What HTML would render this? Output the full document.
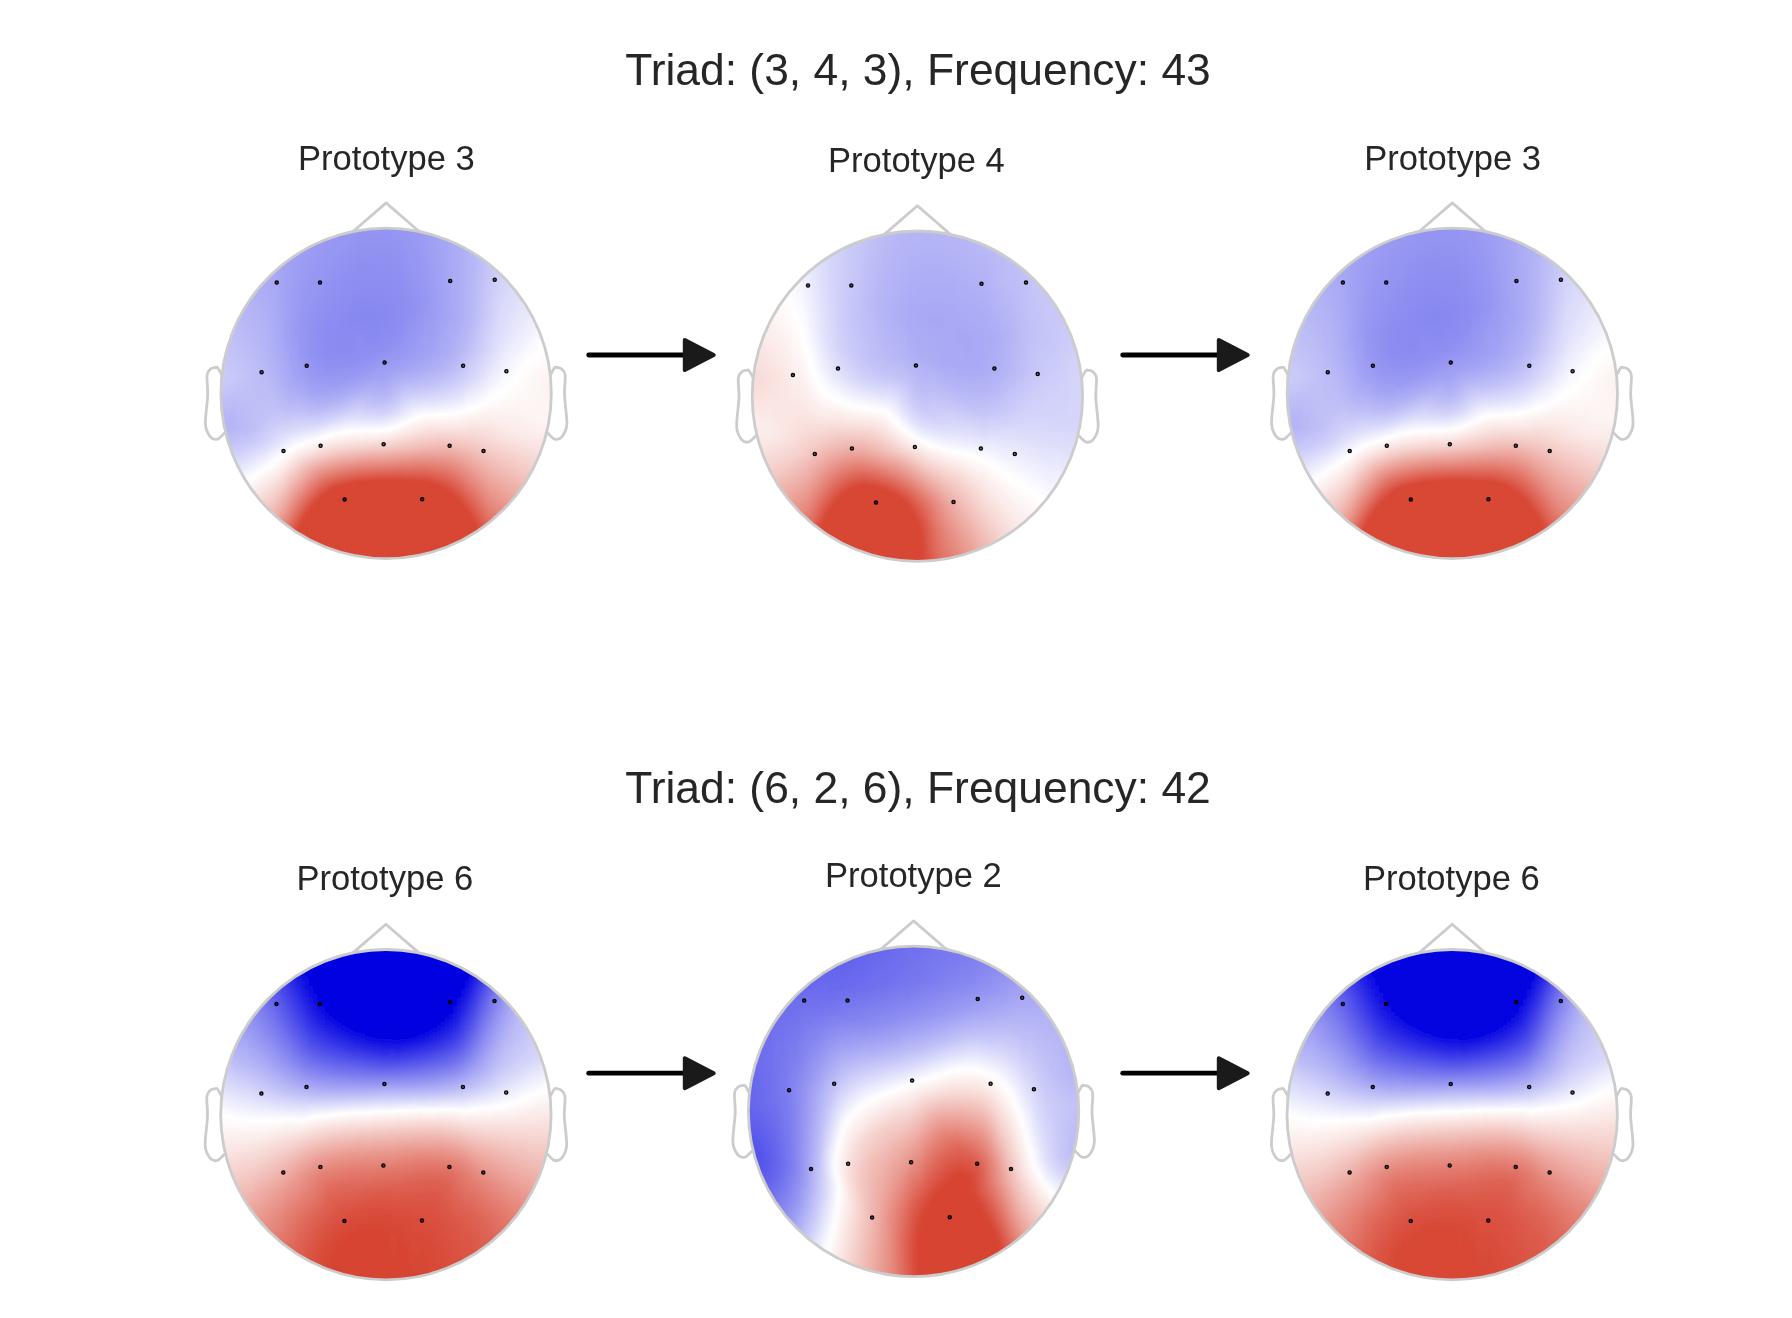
<!DOCTYPE html>
<html><head><meta charset="utf-8"><title>Triads</title>
<style>
html,body{margin:0;padding:0;background:#fff}
svg{display:block;filter:blur(0.55px)}
text{font-family:"Liberation Sans",Arial,sans-serif;fill:#262626;text-anchor:middle}
.tt{font-size:44.4px}
.pt{font-size:34.6px}
</style></head><body>
<svg width="1792" height="1318" viewBox="0 0 1792 1318">
<rect width="1792" height="1318" fill="#fff"/>
<defs>
<linearGradient id="f30" gradientUnits="userSpaceOnUse" x1="0" x2="0" y1="-12" y2="12"><stop offset="0" stop-color="#cbcbf9"/><stop offset="1" stop-color="#bbbbf7"/></linearGradient>
<linearGradient id="f31" gradientUnits="userSpaceOnUse" x1="0" x2="0" y1="-41" y2="41"><stop offset="0" stop-color="#c7c7f8"/><stop offset="0.341" stop-color="#cacaf9"/><stop offset="0.793" stop-color="#b4b4f6"/><stop offset="0.915" stop-color="#b4b4f6"/><stop offset="1" stop-color="#b9b9f7"/></linearGradient>
<linearGradient id="f32" gradientUnits="userSpaceOnUse" x1="0" x2="0" y1="-55" y2="55"><stop offset="0" stop-color="#c1c1f8"/><stop offset="0.382" stop-color="#c9c9f9"/><stop offset="0.764" stop-color="#b3b3f6"/><stop offset="0.855" stop-color="#b7b7f7"/><stop offset="1" stop-color="#c6c6f8"/></linearGradient>
<linearGradient id="f33" gradientUnits="userSpaceOnUse" x1="0" x2="0" y1="-66" y2="66"><stop offset="0" stop-color="#bdbdf7"/><stop offset="0.402" stop-color="#c8c8f9"/><stop offset="0.674" stop-color="#b5b5f6"/><stop offset="0.758" stop-color="#b4b4f6"/><stop offset="0.841" stop-color="#bdbdf7"/><stop offset="1" stop-color="#d4d4fa"/></linearGradient>
<linearGradient id="f34" gradientUnits="userSpaceOnUse" x1="0" x2="0" y1="-75" y2="75"><stop offset="0" stop-color="#b9b9f7"/><stop offset="0.38" stop-color="#c7c7f8"/><stop offset="0.653" stop-color="#b6b6f6"/><stop offset="0.727" stop-color="#b5b5f6"/><stop offset="0.833" stop-color="#c3c3f8"/><stop offset="1" stop-color="#e2e2fc"/></linearGradient>
<linearGradient id="f35" gradientUnits="userSpaceOnUse" x1="0" x2="0" y1="-83" y2="83"><stop offset="0" stop-color="#b6b6f6"/><stop offset="0.392" stop-color="#c5c5f8"/><stop offset="0.705" stop-color="#b7b7f7"/><stop offset="0.831" stop-color="#cacaf9"/><stop offset="1" stop-color="#f1f1fd"/></linearGradient>
<linearGradient id="f36" gradientUnits="userSpaceOnUse" x1="0" x2="0" y1="-90" y2="90"><stop offset="0" stop-color="#b3b3f6"/><stop offset="0.4" stop-color="#c4c4f8"/><stop offset="0.628" stop-color="#b9b9f7"/><stop offset="0.694" stop-color="#b9b9f7"/><stop offset="0.806" stop-color="#ccccf9"/><stop offset="1" stop-color="#fffefe"/></linearGradient>
<linearGradient id="f37" gradientUnits="userSpaceOnUse" x1="0" x2="0" y1="-96" y2="96"><stop offset="0" stop-color="#b1b1f6"/><stop offset="0.406" stop-color="#c2c2f8"/><stop offset="0.682" stop-color="#bbbbf7"/><stop offset="0.729" stop-color="#c1c1f8"/><stop offset="0.786" stop-color="#cecef9"/><stop offset="0.953" stop-color="#ffffff"/><stop offset="1" stop-color="#fdf4f3"/></linearGradient>
<linearGradient id="f38" gradientUnits="userSpaceOnUse" x1="0" x2="0" y1="-101" y2="101"><stop offset="0" stop-color="#afaff6"/><stop offset="0.406" stop-color="#c0c0f8"/><stop offset="0.668" stop-color="#bdbdf7"/><stop offset="0.748" stop-color="#cacaf9"/><stop offset="0.916" stop-color="#fefeff"/><stop offset="1" stop-color="#faeae8"/></linearGradient>
<linearGradient id="f39" gradientUnits="userSpaceOnUse" x1="0" x2="0" y1="-107" y2="107"><stop offset="0" stop-color="#adadf5"/><stop offset="0.411" stop-color="#bebef7"/><stop offset="0.659" stop-color="#bfbff7"/><stop offset="0.734" stop-color="#ccccf9"/><stop offset="0.883" stop-color="#ffffff"/><stop offset="1" stop-color="#f8dedb"/></linearGradient>
<linearGradient id="f310" gradientUnits="userSpaceOnUse" x1="0" x2="0" y1="-112" y2="112"><stop offset="0" stop-color="#acacf5"/><stop offset="0.652" stop-color="#c2c2f8"/><stop offset="0.723" stop-color="#cfcff9"/><stop offset="0.853" stop-color="#ffffff"/><stop offset="1" stop-color="#f6d3cf"/></linearGradient>
<linearGradient id="f311" gradientUnits="userSpaceOnUse" x1="0" x2="0" y1="-116" y2="116"><stop offset="0" stop-color="#aaaaf5"/><stop offset="0.625" stop-color="#c2c2f8"/><stop offset="0.716" stop-color="#d2d2fa"/><stop offset="0.828" stop-color="#fefeff"/><stop offset="1" stop-color="#f4c9c4"/></linearGradient>
<linearGradient id="f312" gradientUnits="userSpaceOnUse" x1="0" x2="0" y1="-120" y2="120"><stop offset="0" stop-color="#a9a9f5"/><stop offset="0.317" stop-color="#b2b2f6"/><stop offset="0.6" stop-color="#c2c2f8"/><stop offset="0.704" stop-color="#d5d5fa"/><stop offset="0.808" stop-color="#fffefe"/><stop offset="1" stop-color="#f1bfb9"/></linearGradient>
<linearGradient id="f313" gradientUnits="userSpaceOnUse" x1="0" x2="0" y1="-124" y2="124"><stop offset="0" stop-color="#a7a7f5"/><stop offset="0.363" stop-color="#b1b1f6"/><stop offset="0.577" stop-color="#c1c1f8"/><stop offset="0.681" stop-color="#d4d4fa"/><stop offset="0.786" stop-color="#fffffe"/><stop offset="1" stop-color="#efb4ad"/></linearGradient>
<linearGradient id="f314" gradientUnits="userSpaceOnUse" x1="0" x2="0" y1="-128" y2="128"><stop offset="0" stop-color="#a6a6f4"/><stop offset="0.348" stop-color="#adadf5"/><stop offset="0.508" stop-color="#b9b9f7"/><stop offset="0.594" stop-color="#c5c5f8"/><stop offset="0.652" stop-color="#d2d2fa"/><stop offset="0.695" stop-color="#dfdffb"/><stop offset="0.766" stop-color="#ffffff"/><stop offset="1" stop-color="#eca79e"/></linearGradient>
<linearGradient id="f315" gradientUnits="userSpaceOnUse" x1="0" x2="0" y1="-131" y2="131"><stop offset="0" stop-color="#a4a4f4"/><stop offset="0.309" stop-color="#a8a8f5"/><stop offset="0.469" stop-color="#b2b2f6"/><stop offset="0.55" stop-color="#bebef7"/><stop offset="0.63" stop-color="#d0d0f9"/><stop offset="0.691" stop-color="#e4e4fc"/><stop offset="0.748" stop-color="#ffffff"/><stop offset="1" stop-color="#e9978d"/></linearGradient>
<linearGradient id="f316" gradientUnits="userSpaceOnUse" x1="0" x2="0" y1="-134" y2="134"><stop offset="0" stop-color="#a2a2f4"/><stop offset="0.295" stop-color="#a4a4f4"/><stop offset="0.47" stop-color="#afaff6"/><stop offset="0.549" stop-color="#bcbcf7"/><stop offset="0.608" stop-color="#cbcbf9"/><stop offset="0.668" stop-color="#e0e0fb"/><stop offset="0.731" stop-color="#ffffff"/><stop offset="0.843" stop-color="#f5ceca"/><stop offset="1" stop-color="#e58478"/></linearGradient>
<linearGradient id="f317" gradientUnits="userSpaceOnUse" x1="0" x2="0" y1="-137" y2="137"><stop offset="0" stop-color="#a1a1f4"/><stop offset="0.296" stop-color="#a0a0f4"/><stop offset="0.471" stop-color="#acacf5"/><stop offset="0.547" stop-color="#babaf7"/><stop offset="0.602" stop-color="#cacaf9"/><stop offset="0.661" stop-color="#e2e2fc"/><stop offset="0.715" stop-color="#fffefe"/><stop offset="0.836" stop-color="#f2c4bf"/><stop offset="1" stop-color="#e06f61"/></linearGradient>
<linearGradient id="f318" gradientUnits="userSpaceOnUse" x1="0" x2="0" y1="-140" y2="140"><stop offset="0" stop-color="#9f9ff4"/><stop offset="0.286" stop-color="#9c9cf3"/><stop offset="0.379" stop-color="#a0a0f4"/><stop offset="0.471" stop-color="#a9a9f5"/><stop offset="0.529" stop-color="#b4b4f6"/><stop offset="0.586" stop-color="#c6c6f8"/><stop offset="0.643" stop-color="#dfdffb"/><stop offset="0.7" stop-color="#ffffff"/><stop offset="1" stop-color="#db5847"/></linearGradient>
<linearGradient id="f319" gradientUnits="userSpaceOnUse" x1="0" x2="0" y1="-143" y2="143"><stop offset="0" stop-color="#9e9ef4"/><stop offset="0.29" stop-color="#9999f3"/><stop offset="0.455" stop-color="#a4a4f4"/><stop offset="0.51" stop-color="#afaff6"/><stop offset="0.566" stop-color="#c0c0f8"/><stop offset="0.636" stop-color="#dfdffb"/><stop offset="0.689" stop-color="#ffffff"/><stop offset="0.986" stop-color="#d84836"/><stop offset="1" stop-color="#d74432"/></linearGradient>
<linearGradient id="f320" gradientUnits="userSpaceOnUse" x1="0" x2="0" y1="-145" y2="145"><stop offset="0" stop-color="#9d9df3"/><stop offset="0.293" stop-color="#9696f3"/><stop offset="0.379" stop-color="#9999f3"/><stop offset="0.452" stop-color="#a1a1f4"/><stop offset="0.51" stop-color="#aeaef5"/><stop offset="0.579" stop-color="#c6c6f8"/><stop offset="0.634" stop-color="#e1e1fc"/><stop offset="0.679" stop-color="#ffffff"/><stop offset="0.959" stop-color="#d74432"/><stop offset="1" stop-color="#d74432"/></linearGradient>
<linearGradient id="f321" gradientUnits="userSpaceOnUse" x1="0" x2="0" y1="-147" y2="147"><stop offset="0" stop-color="#9c9cf3"/><stop offset="0.296" stop-color="#9494f2"/><stop offset="0.367" stop-color="#9696f3"/><stop offset="0.439" stop-color="#9d9df3"/><stop offset="0.507" stop-color="#acacf5"/><stop offset="0.561" stop-color="#bebef7"/><stop offset="0.616" stop-color="#d9d9fb"/><stop offset="0.673" stop-color="#fffefe"/><stop offset="0.704" stop-color="#faeae8"/><stop offset="0.759" stop-color="#f1beb7"/><stop offset="0.929" stop-color="#d74432"/><stop offset="1" stop-color="#d74432"/></linearGradient>
<linearGradient id="f322" gradientUnits="userSpaceOnUse" x1="0" x2="0" y1="-150" y2="150"><stop offset="0" stop-color="#9c9cf3"/><stop offset="0.3" stop-color="#9191f2"/><stop offset="0.37" stop-color="#9393f2"/><stop offset="0.437" stop-color="#9a9af3"/><stop offset="0.507" stop-color="#a9a9f5"/><stop offset="0.56" stop-color="#bdbdf7"/><stop offset="0.613" stop-color="#dadafb"/><stop offset="0.663" stop-color="#ffffff"/><stop offset="0.7" stop-color="#f9e5e3"/><stop offset="0.753" stop-color="#efb5ae"/><stop offset="0.9" stop-color="#d74432"/><stop offset="1" stop-color="#d74432"/></linearGradient>
<linearGradient id="f323" gradientUnits="userSpaceOnUse" x1="0" x2="0" y1="-152" y2="152"><stop offset="0" stop-color="#9b9bf3"/><stop offset="0.303" stop-color="#9090f2"/><stop offset="0.372" stop-color="#9191f2"/><stop offset="0.441" stop-color="#9898f3"/><stop offset="0.507" stop-color="#a7a7f5"/><stop offset="0.559" stop-color="#bcbcf7"/><stop offset="0.612" stop-color="#dbdbfb"/><stop offset="0.658" stop-color="#fffefe"/><stop offset="0.697" stop-color="#f9e1de"/><stop offset="0.766" stop-color="#ea9e95"/><stop offset="0.875" stop-color="#d74533"/><stop offset="1" stop-color="#d74432"/></linearGradient>
<linearGradient id="f324" gradientUnits="userSpaceOnUse" x1="0" x2="0" y1="-154" y2="154"><stop offset="0" stop-color="#9a9af3"/><stop offset="0.305" stop-color="#8e8ef2"/><stop offset="0.386" stop-color="#9090f2"/><stop offset="0.442" stop-color="#9696f3"/><stop offset="0.506" stop-color="#a6a6f5"/><stop offset="0.558" stop-color="#bcbcf7"/><stop offset="0.61" stop-color="#dcdcfb"/><stop offset="0.653" stop-color="#fffefe"/><stop offset="0.695" stop-color="#f8dcd9"/><stop offset="0.763" stop-color="#e8958b"/><stop offset="0.854" stop-color="#d74634"/><stop offset="1" stop-color="#d74432"/></linearGradient>
<linearGradient id="f325" gradientUnits="userSpaceOnUse" x1="0" x2="0" y1="-155" y2="155"><stop offset="0" stop-color="#9a9af3"/><stop offset="0.306" stop-color="#8d8df2"/><stop offset="0.374" stop-color="#8e8ef2"/><stop offset="0.439" stop-color="#9595f2"/><stop offset="0.49" stop-color="#a0a0f4"/><stop offset="0.542" stop-color="#b4b4f6"/><stop offset="0.594" stop-color="#d2d2fa"/><stop offset="0.645" stop-color="#fefeff"/><stop offset="0.661" stop-color="#fdf4f3"/><stop offset="0.694" stop-color="#f7d7d3"/><stop offset="0.777" stop-color="#e37d71"/><stop offset="0.839" stop-color="#d74533"/><stop offset="1" stop-color="#d74432"/></linearGradient>
<linearGradient id="f326" gradientUnits="userSpaceOnUse" x1="0" x2="0" y1="-157" y2="157"><stop offset="0" stop-color="#9999f3"/><stop offset="0.309" stop-color="#8c8cf1"/><stop offset="0.376" stop-color="#8c8cf2"/><stop offset="0.439" stop-color="#9494f2"/><stop offset="0.49" stop-color="#a0a0f4"/><stop offset="0.541" stop-color="#b4b4f6"/><stop offset="0.592" stop-color="#d4d4fa"/><stop offset="0.64" stop-color="#ffffff"/><stop offset="0.691" stop-color="#f6d3cf"/><stop offset="0.777" stop-color="#e17264"/><stop offset="0.825" stop-color="#d74432"/><stop offset="1" stop-color="#d74432"/></linearGradient>
<linearGradient id="f327" gradientUnits="userSpaceOnUse" x1="0" x2="0" y1="-159" y2="159"><stop offset="0" stop-color="#9898f3"/><stop offset="0.311" stop-color="#8a8af1"/><stop offset="0.377" stop-color="#8b8bf1"/><stop offset="0.425" stop-color="#9191f2"/><stop offset="0.491" stop-color="#a0a0f4"/><stop offset="0.541" stop-color="#b5b5f6"/><stop offset="0.591" stop-color="#d7d7fa"/><stop offset="0.635" stop-color="#fffefe"/><stop offset="0.689" stop-color="#f5cfca"/><stop offset="0.774" stop-color="#df6b5d"/><stop offset="0.811" stop-color="#d74432"/><stop offset="1" stop-color="#d74432"/></linearGradient>
<linearGradient id="f328" gradientUnits="userSpaceOnUse" x1="0" x2="0" y1="-160" y2="160"><stop offset="0" stop-color="#9898f3"/><stop offset="0.312" stop-color="#8989f1"/><stop offset="0.378" stop-color="#8a8af1"/><stop offset="0.425" stop-color="#9090f2"/><stop offset="0.475" stop-color="#9b9bf3"/><stop offset="0.525" stop-color="#afaff6"/><stop offset="0.575" stop-color="#cecef9"/><stop offset="0.628" stop-color="#fefeff"/><stop offset="0.631" stop-color="#fffefe"/><stop offset="0.656" stop-color="#fbeae8"/><stop offset="0.688" stop-color="#f4ccc7"/><stop offset="0.8" stop-color="#d74432"/><stop offset="1" stop-color="#d74432"/></linearGradient>
<linearGradient id="f329" gradientUnits="userSpaceOnUse" x1="0" x2="0" y1="-161" y2="161"><stop offset="0" stop-color="#9797f3"/><stop offset="0.295" stop-color="#8989f1"/><stop offset="0.363" stop-color="#8989f1"/><stop offset="0.413" stop-color="#8e8ef2"/><stop offset="0.475" stop-color="#9c9cf3"/><stop offset="0.525" stop-color="#b0b0f6"/><stop offset="0.575" stop-color="#d1d1fa"/><stop offset="0.624" stop-color="#fefeff"/><stop offset="0.655" stop-color="#fae8e6"/><stop offset="0.686" stop-color="#f3c9c4"/><stop offset="0.792" stop-color="#d74533"/><stop offset="1" stop-color="#d74432"/></linearGradient>
<linearGradient id="f330" gradientUnits="userSpaceOnUse" x1="0" x2="0" y1="-162" y2="162"><stop offset="0" stop-color="#9797f3"/><stop offset="0.284" stop-color="#8989f1"/><stop offset="0.361" stop-color="#8989f1"/><stop offset="0.41" stop-color="#8d8df2"/><stop offset="0.475" stop-color="#9c9cf3"/><stop offset="0.525" stop-color="#b2b2f6"/><stop offset="0.559" stop-color="#c8c8f9"/><stop offset="0.623" stop-color="#fffefe"/><stop offset="0.654" stop-color="#fae6e3"/><stop offset="0.685" stop-color="#f3c6c1"/><stop offset="0.787" stop-color="#d74432"/><stop offset="1" stop-color="#d74432"/></linearGradient>
<linearGradient id="f331" gradientUnits="userSpaceOnUse" x1="0" x2="0" y1="-164" y2="164"><stop offset="0" stop-color="#9696f3"/><stop offset="0.268" stop-color="#8888f1"/><stop offset="0.363" stop-color="#8888f1"/><stop offset="0.412" stop-color="#8e8ef2"/><stop offset="0.46" stop-color="#9999f3"/><stop offset="0.509" stop-color="#acacf5"/><stop offset="0.555" stop-color="#c9c9f9"/><stop offset="0.619" stop-color="#ffffff"/><stop offset="0.652" stop-color="#f9e4e1"/><stop offset="0.683" stop-color="#f2c4be"/><stop offset="0.78" stop-color="#d74432"/><stop offset="1" stop-color="#d74432"/></linearGradient>
<linearGradient id="f332" gradientUnits="userSpaceOnUse" x1="0" x2="0" y1="-165" y2="165"><stop offset="0" stop-color="#9696f3"/><stop offset="0.267" stop-color="#8888f1"/><stop offset="0.364" stop-color="#8888f1"/><stop offset="0.412" stop-color="#8e8ef2"/><stop offset="0.461" stop-color="#9a9af3"/><stop offset="0.509" stop-color="#aeaef5"/><stop offset="0.542" stop-color="#c3c3f8"/><stop offset="0.615" stop-color="#fefeff"/><stop offset="0.652" stop-color="#f9e2e0"/><stop offset="0.682" stop-color="#f2c2bc"/><stop offset="0.776" stop-color="#d74432"/><stop offset="1" stop-color="#d74432"/></linearGradient>
<linearGradient id="f333" gradientUnits="userSpaceOnUse" x1="0" x2="0" y1="-165" y2="165"><stop offset="0" stop-color="#9595f3"/><stop offset="0.27" stop-color="#8787f1"/><stop offset="0.364" stop-color="#8989f1"/><stop offset="0.412" stop-color="#8e8ef2"/><stop offset="0.461" stop-color="#9b9bf3"/><stop offset="0.506" stop-color="#afaff6"/><stop offset="0.573" stop-color="#dcdcfb"/><stop offset="0.615" stop-color="#ffffff"/><stop offset="0.652" stop-color="#f9e1de"/><stop offset="0.682" stop-color="#f2c0ba"/><stop offset="0.773" stop-color="#d74432"/><stop offset="1" stop-color="#d74432"/></linearGradient>
<linearGradient id="f334" gradientUnits="userSpaceOnUse" x1="0" x2="0" y1="-166" y2="166"><stop offset="0" stop-color="#9595f2"/><stop offset="0.271" stop-color="#8686f1"/><stop offset="0.398" stop-color="#8c8cf2"/><stop offset="0.446" stop-color="#9797f3"/><stop offset="0.494" stop-color="#ababf5"/><stop offset="0.569" stop-color="#dbdbfb"/><stop offset="0.614" stop-color="#fffefe"/><stop offset="0.651" stop-color="#f8e0dd"/><stop offset="0.681" stop-color="#f1beb8"/><stop offset="0.768" stop-color="#d74533"/><stop offset="1" stop-color="#d74432"/></linearGradient>
<linearGradient id="f335" gradientUnits="userSpaceOnUse" x1="0" x2="0" y1="-167" y2="167"><stop offset="0" stop-color="#9494f2"/><stop offset="0.272" stop-color="#8686f1"/><stop offset="0.398" stop-color="#8d8df2"/><stop offset="0.446" stop-color="#9999f3"/><stop offset="0.491" stop-color="#ababf5"/><stop offset="0.569" stop-color="#dbdbfb"/><stop offset="0.614" stop-color="#fffefe"/><stop offset="0.647" stop-color="#f9e2df"/><stop offset="0.668" stop-color="#f4cbc6"/><stop offset="0.766" stop-color="#d74432"/><stop offset="1" stop-color="#d74432"/></linearGradient>
<linearGradient id="f336" gradientUnits="userSpaceOnUse" x1="0" x2="0" y1="-167" y2="167"><stop offset="0" stop-color="#9494f2"/><stop offset="0.272" stop-color="#8585f1"/><stop offset="0.398" stop-color="#8e8ef2"/><stop offset="0.446" stop-color="#9a9af3"/><stop offset="0.491" stop-color="#aeaef5"/><stop offset="0.569" stop-color="#dadafb"/><stop offset="0.611" stop-color="#fefeff"/><stop offset="0.635" stop-color="#fbecea"/><stop offset="0.665" stop-color="#f4cec9"/><stop offset="0.695" stop-color="#eca79e"/><stop offset="0.763" stop-color="#d74533"/><stop offset="1" stop-color="#d74432"/></linearGradient>
<linearGradient id="f337" gradientUnits="userSpaceOnUse" x1="0" x2="0" y1="-168" y2="168"><stop offset="0" stop-color="#9494f2"/><stop offset="0.274" stop-color="#8585f1"/><stop offset="0.336" stop-color="#8888f1"/><stop offset="0.399" stop-color="#8f8ff2"/><stop offset="0.458" stop-color="#a0a0f4"/><stop offset="0.539" stop-color="#c6c6f8"/><stop offset="0.571" stop-color="#dbdbfb"/><stop offset="0.61" stop-color="#fefeff"/><stop offset="0.634" stop-color="#fbebea"/><stop offset="0.664" stop-color="#f4ccc8"/><stop offset="0.762" stop-color="#d74432"/><stop offset="1" stop-color="#d74432"/></linearGradient>
<linearGradient id="f338" gradientUnits="userSpaceOnUse" x1="0" x2="0" y1="-168" y2="168"><stop offset="0" stop-color="#9494f2"/><stop offset="0.274" stop-color="#8585f1"/><stop offset="0.336" stop-color="#8888f1"/><stop offset="0.399" stop-color="#9090f2"/><stop offset="0.446" stop-color="#9d9df3"/><stop offset="0.539" stop-color="#c5c5f8"/><stop offset="0.571" stop-color="#dbdbfb"/><stop offset="0.61" stop-color="#fefeff"/><stop offset="0.634" stop-color="#fbebe9"/><stop offset="0.664" stop-color="#f4cbc6"/><stop offset="0.762" stop-color="#d74432"/><stop offset="1" stop-color="#d74432"/></linearGradient>
<linearGradient id="f339" gradientUnits="userSpaceOnUse" x1="0" x2="0" y1="-168" y2="168"><stop offset="0" stop-color="#9494f2"/><stop offset="0.274" stop-color="#8686f1"/><stop offset="0.336" stop-color="#8888f1"/><stop offset="0.384" stop-color="#8f8ff2"/><stop offset="0.432" stop-color="#9a9af3"/><stop offset="0.524" stop-color="#bcbcf7"/><stop offset="0.571" stop-color="#dadafb"/><stop offset="0.61" stop-color="#ffffff"/><stop offset="0.634" stop-color="#fbeae8"/><stop offset="0.664" stop-color="#f4cac5"/><stop offset="0.708" stop-color="#e78e83"/><stop offset="0.759" stop-color="#d74533"/><stop offset="1" stop-color="#d74432"/></linearGradient>
<linearGradient id="f340" gradientUnits="userSpaceOnUse" x1="0" x2="0" y1="-169" y2="169"><stop offset="0" stop-color="#9494f2"/><stop offset="0.275" stop-color="#8686f1"/><stop offset="0.334" stop-color="#8888f1"/><stop offset="0.382" stop-color="#8f8ff2"/><stop offset="0.476" stop-color="#a8a8f5"/><stop offset="0.524" stop-color="#bcbcf7"/><stop offset="0.568" stop-color="#d8d8fa"/><stop offset="0.609" stop-color="#ffffff"/><stop offset="0.633" stop-color="#fae9e7"/><stop offset="0.663" stop-color="#f3c9c3"/><stop offset="0.707" stop-color="#e78d82"/><stop offset="0.757" stop-color="#d74432"/><stop offset="1" stop-color="#d74432"/></linearGradient>
<linearGradient id="f341" gradientUnits="userSpaceOnUse" x1="0" x2="0" y1="-169" y2="169"><stop offset="0" stop-color="#9494f2"/><stop offset="0.272" stop-color="#8686f1"/><stop offset="0.37" stop-color="#8e8ef2"/><stop offset="0.459" stop-color="#a3a3f4"/><stop offset="0.509" stop-color="#b5b5f6"/><stop offset="0.556" stop-color="#d0d0f9"/><stop offset="0.609" stop-color="#fffefe"/><stop offset="0.633" stop-color="#fae8e6"/><stop offset="0.666" stop-color="#f2c4be"/><stop offset="0.707" stop-color="#e78d82"/><stop offset="0.757" stop-color="#d74432"/><stop offset="1" stop-color="#d74432"/></linearGradient>
<linearGradient id="f342" gradientUnits="userSpaceOnUse" x1="0" x2="0" y1="-169" y2="169"><stop offset="0" stop-color="#9494f2"/><stop offset="0.26" stop-color="#8787f1"/><stop offset="0.32" stop-color="#8989f1"/><stop offset="0.37" stop-color="#8f8ff2"/><stop offset="0.462" stop-color="#a6a6f5"/><stop offset="0.509" stop-color="#b7b7f7"/><stop offset="0.556" stop-color="#d2d2fa"/><stop offset="0.607" stop-color="#ffffff"/><stop offset="0.633" stop-color="#fae7e4"/><stop offset="0.663" stop-color="#f3c6c0"/><stop offset="0.695" stop-color="#ea9c93"/><stop offset="0.757" stop-color="#d74432"/><stop offset="1" stop-color="#d74432"/></linearGradient>
<linearGradient id="f343" gradientUnits="userSpaceOnUse" x1="0" x2="0" y1="-169" y2="169"><stop offset="0" stop-color="#9494f2"/><stop offset="0.26" stop-color="#8888f1"/><stop offset="0.32" stop-color="#8a8af1"/><stop offset="0.367" stop-color="#9090f2"/><stop offset="0.414" stop-color="#9a9af3"/><stop offset="0.509" stop-color="#bbbbf7"/><stop offset="0.556" stop-color="#d6d6fa"/><stop offset="0.604" stop-color="#ffffff"/><stop offset="0.633" stop-color="#f9e5e2"/><stop offset="0.663" stop-color="#f2c5bf"/><stop offset="0.707" stop-color="#e68b80"/><stop offset="0.757" stop-color="#d74432"/><stop offset="1" stop-color="#d74432"/></linearGradient>
<linearGradient id="f344" gradientUnits="userSpaceOnUse" x1="0" x2="0" y1="-169" y2="169"><stop offset="0" stop-color="#9595f3"/><stop offset="0.26" stop-color="#8989f1"/><stop offset="0.32" stop-color="#8b8bf1"/><stop offset="0.367" stop-color="#9191f2"/><stop offset="0.429" stop-color="#a0a0f4"/><stop offset="0.521" stop-color="#c5c5f8"/><stop offset="0.556" stop-color="#dadafb"/><stop offset="0.601" stop-color="#fffefe"/><stop offset="0.633" stop-color="#f9e2df"/><stop offset="0.663" stop-color="#f2c3bd"/><stop offset="0.71" stop-color="#e5867b"/><stop offset="0.757" stop-color="#d74432"/><stop offset="1" stop-color="#d74432"/></linearGradient>
<linearGradient id="f345" gradientUnits="userSpaceOnUse" x1="0" x2="0" y1="-168" y2="168"><stop offset="0" stop-color="#9595f3"/><stop offset="0.259" stop-color="#8a8af1"/><stop offset="0.321" stop-color="#8d8df2"/><stop offset="0.381" stop-color="#9595f3"/><stop offset="0.432" stop-color="#a2a2f4"/><stop offset="0.524" stop-color="#ccccf9"/><stop offset="0.557" stop-color="#dfdffb"/><stop offset="0.595" stop-color="#ffffff"/><stop offset="0.631" stop-color="#f9e3e0"/><stop offset="0.664" stop-color="#f2c1bb"/><stop offset="0.759" stop-color="#d74533"/><stop offset="1" stop-color="#d74432"/></linearGradient>
<linearGradient id="f346" gradientUnits="userSpaceOnUse" x1="0" x2="0" y1="-168" y2="168"><stop offset="0" stop-color="#9696f3"/><stop offset="0.259" stop-color="#8b8bf1"/><stop offset="0.318" stop-color="#8e8ef2"/><stop offset="0.384" stop-color="#9797f3"/><stop offset="0.429" stop-color="#a3a3f4"/><stop offset="0.461" stop-color="#b1b1f6"/><stop offset="0.542" stop-color="#dcdcfb"/><stop offset="0.592" stop-color="#fffefe"/><stop offset="0.631" stop-color="#f8e0dd"/><stop offset="0.664" stop-color="#f1c0ba"/><stop offset="0.759" stop-color="#d74533"/><stop offset="1" stop-color="#d74432"/></linearGradient>
<linearGradient id="f347" gradientUnits="userSpaceOnUse" x1="0" x2="0" y1="-168" y2="168"><stop offset="0" stop-color="#9797f3"/><stop offset="0.259" stop-color="#8d8df2"/><stop offset="0.384" stop-color="#9999f3"/><stop offset="0.429" stop-color="#a4a4f4"/><stop offset="0.461" stop-color="#b2b2f6"/><stop offset="0.554" stop-color="#e8e8fc"/><stop offset="0.586" stop-color="#fffefe"/><stop offset="0.631" stop-color="#f8ddda"/><stop offset="0.664" stop-color="#f1beb8"/><stop offset="0.762" stop-color="#d74432"/><stop offset="1" stop-color="#d74432"/></linearGradient>
<linearGradient id="f348" gradientUnits="userSpaceOnUse" x1="0" x2="0" y1="-167" y2="167"><stop offset="0" stop-color="#9898f3"/><stop offset="0.254" stop-color="#8e8ef2"/><stop offset="0.383" stop-color="#9a9af3"/><stop offset="0.428" stop-color="#a5a5f4"/><stop offset="0.461" stop-color="#b3b3f6"/><stop offset="0.581" stop-color="#fffefe"/><stop offset="0.62" stop-color="#f9e4e2"/><stop offset="0.665" stop-color="#f1bcb6"/><stop offset="0.763" stop-color="#d74432"/><stop offset="1" stop-color="#d74432"/></linearGradient>
<linearGradient id="f349" gradientUnits="userSpaceOnUse" x1="0" x2="0" y1="-166" y2="166"><stop offset="0" stop-color="#9999f3"/><stop offset="0.241" stop-color="#9090f2"/><stop offset="0.383" stop-color="#9b9bf3"/><stop offset="0.428" stop-color="#a7a7f5"/><stop offset="0.461" stop-color="#b5b5f6"/><stop offset="0.494" stop-color="#c7c7f8"/><stop offset="0.575" stop-color="#fffefe"/><stop offset="0.62" stop-color="#f9e2df"/><stop offset="0.666" stop-color="#f0bab4"/><stop offset="0.765" stop-color="#d74432"/><stop offset="1" stop-color="#d74432"/></linearGradient>
<linearGradient id="f350" gradientUnits="userSpaceOnUse" x1="0" x2="0" y1="-166" y2="166"><stop offset="0" stop-color="#9a9af3"/><stop offset="0.241" stop-color="#9292f2"/><stop offset="0.383" stop-color="#9d9df3"/><stop offset="0.428" stop-color="#a8a8f5"/><stop offset="0.476" stop-color="#bebef7"/><stop offset="0.509" stop-color="#d2d2fa"/><stop offset="0.569" stop-color="#ffffff"/><stop offset="0.617" stop-color="#f9e2df"/><stop offset="0.666" stop-color="#f0b9b2"/><stop offset="0.765" stop-color="#d74432"/><stop offset="1" stop-color="#d74432"/></linearGradient>
<linearGradient id="f351" gradientUnits="userSpaceOnUse" x1="0" x2="0" y1="-165" y2="165"><stop offset="0" stop-color="#9c9cf3"/><stop offset="0.236" stop-color="#9494f2"/><stop offset="0.382" stop-color="#9f9ff4"/><stop offset="0.427" stop-color="#aaaaf5"/><stop offset="0.476" stop-color="#bfbff7"/><stop offset="0.524" stop-color="#ddddfb"/><stop offset="0.567" stop-color="#ffffff"/><stop offset="0.621" stop-color="#f8ddda"/><stop offset="0.667" stop-color="#f0b7b1"/><stop offset="0.767" stop-color="#d74533"/><stop offset="1" stop-color="#d74432"/></linearGradient>
<linearGradient id="f352" gradientUnits="userSpaceOnUse" x1="0" x2="0" y1="-164" y2="164"><stop offset="0" stop-color="#9d9df4"/><stop offset="0.223" stop-color="#9696f3"/><stop offset="0.381" stop-color="#a1a1f4"/><stop offset="0.427" stop-color="#acacf5"/><stop offset="0.476" stop-color="#c0c0f8"/><stop offset="0.524" stop-color="#dedefb"/><stop offset="0.567" stop-color="#fffefe"/><stop offset="0.634" stop-color="#f5d3ce"/><stop offset="0.668" stop-color="#efb6af"/><stop offset="0.771" stop-color="#d74432"/><stop offset="1" stop-color="#d74432"/></linearGradient>
<linearGradient id="f353" gradientUnits="userSpaceOnUse" x1="0" x2="0" y1="-163" y2="163"><stop offset="0" stop-color="#9f9ff4"/><stop offset="0.218" stop-color="#9999f3"/><stop offset="0.316" stop-color="#9c9cf3"/><stop offset="0.38" stop-color="#a3a3f4"/><stop offset="0.426" stop-color="#adadf5"/><stop offset="0.475" stop-color="#c2c2f8"/><stop offset="0.521" stop-color="#ddddfb"/><stop offset="0.567" stop-color="#fffefe"/><stop offset="0.635" stop-color="#f5d1cd"/><stop offset="0.669" stop-color="#efb5ae"/><stop offset="0.776" stop-color="#d74432"/><stop offset="1" stop-color="#d74432"/></linearGradient>
<linearGradient id="f354" gradientUnits="userSpaceOnUse" x1="0" x2="0" y1="-162" y2="162"><stop offset="0" stop-color="#a1a1f4"/><stop offset="0.216" stop-color="#9b9bf3"/><stop offset="0.315" stop-color="#9e9ef4"/><stop offset="0.38" stop-color="#a5a5f4"/><stop offset="0.426" stop-color="#b0b0f6"/><stop offset="0.475" stop-color="#c4c4f8"/><stop offset="0.522" stop-color="#dedefb"/><stop offset="0.568" stop-color="#fffefe"/><stop offset="0.636" stop-color="#f5d0cc"/><stop offset="0.67" stop-color="#efb5ae"/><stop offset="0.781" stop-color="#d74432"/><stop offset="1" stop-color="#d74432"/></linearGradient>
<linearGradient id="f355" gradientUnits="userSpaceOnUse" x1="0" x2="0" y1="-161" y2="161"><stop offset="0" stop-color="#a3a3f4"/><stop offset="0.245" stop-color="#9e9ef4"/><stop offset="0.379" stop-color="#a7a7f5"/><stop offset="0.425" stop-color="#b2b2f6"/><stop offset="0.475" stop-color="#c6c6f8"/><stop offset="0.525" stop-color="#e2e2fc"/><stop offset="0.565" stop-color="#ffffff"/><stop offset="0.609" stop-color="#f9e4e1"/><stop offset="0.671" stop-color="#efb5ae"/><stop offset="0.786" stop-color="#d74533"/><stop offset="1" stop-color="#d74432"/></linearGradient>
<linearGradient id="f356" gradientUnits="userSpaceOnUse" x1="0" x2="0" y1="-159" y2="159"><stop offset="0" stop-color="#a4a4f4"/><stop offset="0.245" stop-color="#a1a1f4"/><stop offset="0.377" stop-color="#aaaaf5"/><stop offset="0.425" stop-color="#b4b4f6"/><stop offset="0.475" stop-color="#c8c8f9"/><stop offset="0.525" stop-color="#e3e3fc"/><stop offset="0.566" stop-color="#ffffff"/><stop offset="0.607" stop-color="#fae6e4"/><stop offset="0.657" stop-color="#f2c2bc"/><stop offset="0.796" stop-color="#d74533"/><stop offset="1" stop-color="#d74432"/></linearGradient>
<linearGradient id="f357" gradientUnits="userSpaceOnUse" x1="0" x2="0" y1="-158" y2="158"><stop offset="0" stop-color="#a6a6f5"/><stop offset="0.256" stop-color="#a3a3f4"/><stop offset="0.377" stop-color="#acacf5"/><stop offset="0.424" stop-color="#b7b7f7"/><stop offset="0.475" stop-color="#cacaf9"/><stop offset="0.522" stop-color="#e3e3fc"/><stop offset="0.566" stop-color="#fffefe"/><stop offset="0.608" stop-color="#fae6e4"/><stop offset="0.658" stop-color="#f2c2bd"/><stop offset="0.759" stop-color="#df6a5c"/><stop offset="0.807" stop-color="#d74432"/><stop offset="1" stop-color="#d74432"/></linearGradient>
<linearGradient id="f358" gradientUnits="userSpaceOnUse" x1="0" x2="0" y1="-156" y2="156"><stop offset="0" stop-color="#a8a8f5"/><stop offset="0.256" stop-color="#a6a6f5"/><stop offset="0.372" stop-color="#afaff6"/><stop offset="0.423" stop-color="#babaf7"/><stop offset="0.474" stop-color="#cdcdf9"/><stop offset="0.526" stop-color="#e6e6fc"/><stop offset="0.564" stop-color="#ffffff"/><stop offset="0.609" stop-color="#fae6e4"/><stop offset="0.66" stop-color="#f2c4be"/><stop offset="0.76" stop-color="#e17164"/><stop offset="0.821" stop-color="#d74432"/><stop offset="1" stop-color="#d74432"/></linearGradient>
<linearGradient id="f359" gradientUnits="userSpaceOnUse" x1="0" x2="0" y1="-155" y2="155"><stop offset="0" stop-color="#aaaaf5"/><stop offset="0.255" stop-color="#a8a8f5"/><stop offset="0.358" stop-color="#b0b0f6"/><stop offset="0.406" stop-color="#b9b9f7"/><stop offset="0.458" stop-color="#c9c9f9"/><stop offset="0.51" stop-color="#e0e0fb"/><stop offset="0.565" stop-color="#fffefe"/><stop offset="0.61" stop-color="#fae6e4"/><stop offset="0.661" stop-color="#f3c5bf"/><stop offset="0.761" stop-color="#e2776a"/><stop offset="0.832" stop-color="#d74533"/><stop offset="1" stop-color="#d74432"/></linearGradient>
<linearGradient id="f360" gradientUnits="userSpaceOnUse" x1="0" x2="0" y1="-153" y2="153"><stop offset="0" stop-color="#acacf5"/><stop offset="0.252" stop-color="#ababf5"/><stop offset="0.356" stop-color="#b4b4f6"/><stop offset="0.405" stop-color="#bdbdf7"/><stop offset="0.458" stop-color="#cdcdf9"/><stop offset="0.51" stop-color="#e3e3fc"/><stop offset="0.562" stop-color="#ffffff"/><stop offset="0.611" stop-color="#fae6e3"/><stop offset="0.663" stop-color="#f3c6c1"/><stop offset="0.748" stop-color="#e6897d"/><stop offset="0.85" stop-color="#d74533"/><stop offset="1" stop-color="#d74432"/></linearGradient>
<linearGradient id="f361" gradientUnits="userSpaceOnUse" x1="0" x2="0" y1="-151" y2="151"><stop offset="0" stop-color="#aeaef6"/><stop offset="0.248" stop-color="#afaff6"/><stop offset="0.351" stop-color="#b7b7f6"/><stop offset="0.404" stop-color="#c1c1f8"/><stop offset="0.457" stop-color="#d0d0f9"/><stop offset="0.507" stop-color="#e4e4fc"/><stop offset="0.56" stop-color="#fffefe"/><stop offset="0.613" stop-color="#fae5e3"/><stop offset="0.666" stop-color="#f3c8c2"/><stop offset="0.752" stop-color="#e78e83"/><stop offset="0.871" stop-color="#d74432"/><stop offset="1" stop-color="#d74432"/></linearGradient>
<linearGradient id="f362" gradientUnits="userSpaceOnUse" x1="0" x2="0" y1="-149" y2="149"><stop offset="0" stop-color="#b1b1f6"/><stop offset="0.262" stop-color="#b3b3f6"/><stop offset="0.349" stop-color="#bbbbf7"/><stop offset="0.456" stop-color="#d4d4fa"/><stop offset="0.554" stop-color="#ffffff"/><stop offset="0.614" stop-color="#f9e5e3"/><stop offset="0.668" stop-color="#f4c9c4"/><stop offset="0.893" stop-color="#d74533"/><stop offset="1" stop-color="#d74432"/></linearGradient>
<linearGradient id="f363" gradientUnits="userSpaceOnUse" x1="0" x2="0" y1="-146" y2="146"><stop offset="0" stop-color="#b3b3f6"/><stop offset="0.257" stop-color="#b7b7f7"/><stop offset="0.346" stop-color="#c0c0f8"/><stop offset="0.455" stop-color="#d8d8fa"/><stop offset="0.551" stop-color="#ffffff"/><stop offset="0.671" stop-color="#f4cbc6"/><stop offset="0.921" stop-color="#d74533"/><stop offset="1" stop-color="#d74432"/></linearGradient>
<linearGradient id="f364" gradientUnits="userSpaceOnUse" x1="0" x2="0" y1="-144" y2="144"><stop offset="0" stop-color="#b6b6f6"/><stop offset="0.253" stop-color="#bcbcf7"/><stop offset="0.344" stop-color="#c5c5f8"/><stop offset="0.451" stop-color="#dbdbfb"/><stop offset="0.549" stop-color="#ffffff"/><stop offset="0.674" stop-color="#f4cdc9"/><stop offset="0.951" stop-color="#d74432"/><stop offset="1" stop-color="#d74432"/></linearGradient>
<linearGradient id="f365" gradientUnits="userSpaceOnUse" x1="0" x2="0" y1="-141" y2="141"><stop offset="0" stop-color="#babaf7"/><stop offset="0.23" stop-color="#c0c0f8"/><stop offset="0.34" stop-color="#cacaf9"/><stop offset="0.436" stop-color="#dcdcfb"/><stop offset="0.546" stop-color="#fffefe"/><stop offset="0.674" stop-color="#f5d1cc"/><stop offset="0.986" stop-color="#d74533"/><stop offset="1" stop-color="#d74432"/></linearGradient>
<linearGradient id="f366" gradientUnits="userSpaceOnUse" x1="0" x2="0" y1="-139" y2="139"><stop offset="0" stop-color="#bdbdf7"/><stop offset="0.227" stop-color="#c5c5f8"/><stop offset="0.338" stop-color="#cfcff9"/><stop offset="0.435" stop-color="#e0e0fb"/><stop offset="0.54" stop-color="#fffefe"/><stop offset="0.68" stop-color="#f5d1cd"/><stop offset="1" stop-color="#d94e3d"/></linearGradient>
<linearGradient id="f367" gradientUnits="userSpaceOnUse" x1="0" x2="0" y1="-136" y2="136"><stop offset="0" stop-color="#c1c1f8"/><stop offset="0.217" stop-color="#cacaf9"/><stop offset="0.335" stop-color="#d4d4fa"/><stop offset="0.43" stop-color="#e4e4fc"/><stop offset="0.529" stop-color="#ffffff"/><stop offset="0.684" stop-color="#f6d4cf"/><stop offset="1" stop-color="#dc5e4e"/></linearGradient>
<linearGradient id="f368" gradientUnits="userSpaceOnUse" x1="0" x2="0" y1="-133" y2="133"><stop offset="0" stop-color="#c5c5f8"/><stop offset="0.211" stop-color="#cfcff9"/><stop offset="0.331" stop-color="#d9d9fa"/><stop offset="0.414" stop-color="#e5e5fc"/><stop offset="0.519" stop-color="#ffffff"/><stop offset="0.688" stop-color="#f6d6d2"/><stop offset="1" stop-color="#df6b5d"/></linearGradient>
<linearGradient id="f369" gradientUnits="userSpaceOnUse" x1="0" x2="0" y1="-129" y2="129"><stop offset="0" stop-color="#c9c9f9"/><stop offset="0.186" stop-color="#d2d2fa"/><stop offset="0.326" stop-color="#ddddfb"/><stop offset="0.407" stop-color="#e9e9fc"/><stop offset="0.512" stop-color="#ffffff"/><stop offset="0.612" stop-color="#fbecea"/><stop offset="0.694" stop-color="#f7d8d5"/><stop offset="0.876" stop-color="#ea9c93"/><stop offset="1" stop-color="#e2776a"/></linearGradient>
<linearGradient id="f370" gradientUnits="userSpaceOnUse" x1="0" x2="0" y1="-126" y2="126"><stop offset="0" stop-color="#cdcdf9"/><stop offset="0.302" stop-color="#e0e0fb"/><stop offset="0.405" stop-color="#ededfd"/><stop offset="0.5" stop-color="#ffffff"/><stop offset="0.615" stop-color="#fbedeb"/><stop offset="0.694" stop-color="#f7dcd8"/><stop offset="0.885" stop-color="#eba097"/><stop offset="1" stop-color="#e48073"/></linearGradient>
<linearGradient id="f371" gradientUnits="userSpaceOnUse" x1="0" x2="0" y1="-122" y2="122"><stop offset="0" stop-color="#d1d1fa"/><stop offset="0.275" stop-color="#e1e1fc"/><stop offset="0.492" stop-color="#ffffff"/><stop offset="0.598" stop-color="#fcf1ef"/><stop offset="0.684" stop-color="#f9e1df"/><stop offset="1" stop-color="#e6887c"/></linearGradient>
<linearGradient id="f372" gradientUnits="userSpaceOnUse" x1="0" x2="0" y1="-118" y2="118"><stop offset="0" stop-color="#d4d4fa"/><stop offset="0.246" stop-color="#e2e2fc"/><stop offset="0.479" stop-color="#ffffff"/><stop offset="0.602" stop-color="#fcf1f0"/><stop offset="0.691" stop-color="#f9e3e1"/><stop offset="1" stop-color="#e79085"/></linearGradient>
<linearGradient id="f373" gradientUnits="userSpaceOnUse" x1="0" x2="0" y1="-114" y2="114"><stop offset="0" stop-color="#d7d7fa"/><stop offset="0.232" stop-color="#e5e5fc"/><stop offset="0.461" stop-color="#ffffff"/><stop offset="0.601" stop-color="#fcf2f1"/><stop offset="0.693" stop-color="#fae6e3"/><stop offset="1" stop-color="#e9988e"/></linearGradient>
<linearGradient id="f374" gradientUnits="userSpaceOnUse" x1="0" x2="0" y1="-109" y2="109"><stop offset="0" stop-color="#dadafb"/><stop offset="0.22" stop-color="#e7e7fc"/><stop offset="0.431" stop-color="#ffffff"/><stop offset="0.587" stop-color="#fdf4f3"/><stop offset="0.683" stop-color="#fbeae8"/><stop offset="1" stop-color="#eba097"/></linearGradient>
<linearGradient id="f375" gradientUnits="userSpaceOnUse" x1="0" x2="0" y1="-104" y2="104"><stop offset="0" stop-color="#ddddfb"/><stop offset="0.212" stop-color="#eaeafd"/><stop offset="0.399" stop-color="#ffffff"/><stop offset="0.688" stop-color="#fbecea"/><stop offset="0.812" stop-color="#f6d3cf"/><stop offset="1" stop-color="#eca9a0"/></linearGradient>
<linearGradient id="f376" gradientUnits="userSpaceOnUse" x1="0" x2="0" y1="-99" y2="99"><stop offset="0" stop-color="#e0e0fb"/><stop offset="0.197" stop-color="#ececfd"/><stop offset="0.369" stop-color="#ffffff"/><stop offset="0.591" stop-color="#fdf5f4"/><stop offset="0.722" stop-color="#fae9e7"/><stop offset="1" stop-color="#eeb1a9"/></linearGradient>
<linearGradient id="f377" gradientUnits="userSpaceOnUse" x1="0" x2="0" y1="-93" y2="93"><stop offset="0" stop-color="#e3e3fc"/><stop offset="0.177" stop-color="#efeffd"/><stop offset="0.333" stop-color="#ffffff"/><stop offset="0.43" stop-color="#fef9f8"/><stop offset="0.624" stop-color="#fdf4f3"/><stop offset="0.737" stop-color="#faeae8"/><stop offset="1" stop-color="#f0bab3"/></linearGradient>
<linearGradient id="f378" gradientUnits="userSpaceOnUse" x1="0" x2="0" y1="-86" y2="86"><stop offset="0" stop-color="#e7e7fc"/><stop offset="0.151" stop-color="#f1f1fd"/><stop offset="0.297" stop-color="#ffffff"/><stop offset="0.424" stop-color="#fdf7f7"/><stop offset="0.64" stop-color="#fdf4f3"/><stop offset="0.733" stop-color="#fbedec"/><stop offset="1" stop-color="#f2c3be"/></linearGradient>
<linearGradient id="f379" gradientUnits="userSpaceOnUse" x1="0" x2="0" y1="-79" y2="79"><stop offset="0" stop-color="#ebebfd"/><stop offset="0.253" stop-color="#ffffff"/><stop offset="0.418" stop-color="#fdf6f5"/><stop offset="0.652" stop-color="#fdf4f3"/><stop offset="0.753" stop-color="#fbeeec"/><stop offset="1" stop-color="#f4ccc8"/></linearGradient>
<linearGradient id="f380" gradientUnits="userSpaceOnUse" x1="0" x2="0" y1="-71" y2="71"><stop offset="0" stop-color="#efeffd"/><stop offset="0.197" stop-color="#ffffff"/><stop offset="0.408" stop-color="#fdf5f4"/><stop offset="0.669" stop-color="#fdf5f4"/><stop offset="0.775" stop-color="#fcefed"/><stop offset="1" stop-color="#f6d5d1"/></linearGradient>
<linearGradient id="f381" gradientUnits="userSpaceOnUse" x1="0" x2="0" y1="-61" y2="61"><stop offset="0" stop-color="#f6f6fe"/><stop offset="0.123" stop-color="#ffffff"/><stop offset="0.393" stop-color="#fdf4f3"/><stop offset="0.73" stop-color="#fdf4f3"/><stop offset="1" stop-color="#f8dedb"/></linearGradient>
<linearGradient id="f382" gradientUnits="userSpaceOnUse" x1="0" x2="0" y1="-48" y2="48"><stop offset="0" stop-color="#fffefe"/><stop offset="0.365" stop-color="#fcf3f1"/><stop offset="0.802" stop-color="#fdf4f3"/><stop offset="1" stop-color="#fae9e7"/></linearGradient>
<linearGradient id="f383" gradientUnits="userSpaceOnUse" x1="0" x2="0" y1="-30" y2="30"><stop offset="0" stop-color="#fdf6f5"/><stop offset="0.367" stop-color="#fcf1f0"/><stop offset="1" stop-color="#fdf4f3"/></linearGradient>
<linearGradient id="f384" gradientUnits="userSpaceOnUse" x1="0" x2="0" y1="-4" y2="4"><stop offset="0" stop-color="#fcf1ef"/><stop offset="1" stop-color="#fcf2f1"/></linearGradient>
<g id="f3" filter="url(#vb)"><rect x="-169" y="-12" width="4.5" height="24" fill="url(#f30)"/>
<rect x="-165" y="-41" width="4.5" height="82" fill="url(#f31)"/>
<rect x="-161" y="-55" width="4.5" height="110" fill="url(#f32)"/>
<rect x="-157" y="-66" width="4.5" height="132" fill="url(#f33)"/>
<rect x="-153" y="-75" width="4.5" height="150" fill="url(#f34)"/>
<rect x="-149" y="-83" width="4.5" height="166" fill="url(#f35)"/>
<rect x="-145" y="-90" width="4.5" height="180" fill="url(#f36)"/>
<rect x="-141" y="-96" width="4.5" height="192" fill="url(#f37)"/>
<rect x="-137" y="-101" width="4.5" height="202" fill="url(#f38)"/>
<rect x="-133" y="-107" width="4.5" height="214" fill="url(#f39)"/>
<rect x="-129" y="-112" width="4.5" height="224" fill="url(#f310)"/>
<rect x="-125" y="-116" width="4.5" height="232" fill="url(#f311)"/>
<rect x="-121" y="-120" width="4.5" height="240" fill="url(#f312)"/>
<rect x="-117" y="-124" width="4.5" height="248" fill="url(#f313)"/>
<rect x="-113" y="-128" width="4.5" height="256" fill="url(#f314)"/>
<rect x="-109" y="-131" width="4.5" height="262" fill="url(#f315)"/>
<rect x="-105" y="-134" width="4.5" height="268" fill="url(#f316)"/>
<rect x="-101" y="-137" width="4.5" height="274" fill="url(#f317)"/>
<rect x="-97" y="-140" width="4.5" height="280" fill="url(#f318)"/>
<rect x="-93" y="-143" width="4.5" height="286" fill="url(#f319)"/>
<rect x="-89" y="-145" width="4.5" height="290" fill="url(#f320)"/>
<rect x="-85" y="-147" width="4.5" height="294" fill="url(#f321)"/>
<rect x="-81" y="-150" width="4.5" height="300" fill="url(#f322)"/>
<rect x="-77" y="-152" width="4.5" height="304" fill="url(#f323)"/>
<rect x="-73" y="-154" width="4.5" height="308" fill="url(#f324)"/>
<rect x="-69" y="-155" width="4.5" height="310" fill="url(#f325)"/>
<rect x="-65" y="-157" width="4.5" height="314" fill="url(#f326)"/>
<rect x="-61" y="-159" width="4.5" height="318" fill="url(#f327)"/>
<rect x="-57" y="-160" width="4.5" height="320" fill="url(#f328)"/>
<rect x="-53" y="-161" width="4.5" height="322" fill="url(#f329)"/>
<rect x="-49" y="-162" width="4.5" height="324" fill="url(#f330)"/>
<rect x="-45" y="-164" width="4.5" height="328" fill="url(#f331)"/>
<rect x="-41" y="-165" width="4.5" height="330" fill="url(#f332)"/>
<rect x="-37" y="-165" width="4.5" height="330" fill="url(#f333)"/>
<rect x="-33" y="-166" width="4.5" height="332" fill="url(#f334)"/>
<rect x="-29" y="-167" width="4.5" height="334" fill="url(#f335)"/>
<rect x="-25" y="-167" width="4.5" height="334" fill="url(#f336)"/>
<rect x="-21" y="-168" width="4.5" height="336" fill="url(#f337)"/>
<rect x="-17" y="-168" width="4.5" height="336" fill="url(#f338)"/>
<rect x="-13" y="-168" width="4.5" height="336" fill="url(#f339)"/>
<rect x="-9" y="-169" width="4.5" height="338" fill="url(#f340)"/>
<rect x="-5" y="-169" width="4.5" height="338" fill="url(#f341)"/>
<rect x="-1" y="-169" width="4.5" height="338" fill="url(#f342)"/>
<rect x="3" y="-169" width="4.5" height="338" fill="url(#f343)"/>
<rect x="7" y="-169" width="4.5" height="338" fill="url(#f344)"/>
<rect x="11" y="-168" width="4.5" height="336" fill="url(#f345)"/>
<rect x="15" y="-168" width="4.5" height="336" fill="url(#f346)"/>
<rect x="19" y="-168" width="4.5" height="336" fill="url(#f347)"/>
<rect x="23" y="-167" width="4.5" height="334" fill="url(#f348)"/>
<rect x="27" y="-166" width="4.5" height="332" fill="url(#f349)"/>
<rect x="31" y="-166" width="4.5" height="332" fill="url(#f350)"/>
<rect x="35" y="-165" width="4.5" height="330" fill="url(#f351)"/>
<rect x="39" y="-164" width="4.5" height="328" fill="url(#f352)"/>
<rect x="43" y="-163" width="4.5" height="326" fill="url(#f353)"/>
<rect x="47" y="-162" width="4.5" height="324" fill="url(#f354)"/>
<rect x="51" y="-161" width="4.5" height="322" fill="url(#f355)"/>
<rect x="55" y="-159" width="4.5" height="318" fill="url(#f356)"/>
<rect x="59" y="-158" width="4.5" height="316" fill="url(#f357)"/>
<rect x="63" y="-156" width="4.5" height="312" fill="url(#f358)"/>
<rect x="67" y="-155" width="4.5" height="310" fill="url(#f359)"/>
<rect x="71" y="-153" width="4.5" height="306" fill="url(#f360)"/>
<rect x="75" y="-151" width="4.5" height="302" fill="url(#f361)"/>
<rect x="79" y="-149" width="4.5" height="298" fill="url(#f362)"/>
<rect x="83" y="-146" width="4.5" height="292" fill="url(#f363)"/>
<rect x="87" y="-144" width="4.5" height="288" fill="url(#f364)"/>
<rect x="91" y="-141" width="4.5" height="282" fill="url(#f365)"/>
<rect x="95" y="-139" width="4.5" height="278" fill="url(#f366)"/>
<rect x="99" y="-136" width="4.5" height="272" fill="url(#f367)"/>
<rect x="103" y="-133" width="4.5" height="266" fill="url(#f368)"/>
<rect x="107" y="-129" width="4.5" height="258" fill="url(#f369)"/>
<rect x="111" y="-126" width="4.5" height="252" fill="url(#f370)"/>
<rect x="115" y="-122" width="4.5" height="244" fill="url(#f371)"/>
<rect x="119" y="-118" width="4.5" height="236" fill="url(#f372)"/>
<rect x="123" y="-114" width="4.5" height="228" fill="url(#f373)"/>
<rect x="127" y="-109" width="4.5" height="218" fill="url(#f374)"/>
<rect x="131" y="-104" width="4.5" height="208" fill="url(#f375)"/>
<rect x="135" y="-99" width="4.5" height="198" fill="url(#f376)"/>
<rect x="139" y="-93" width="4.5" height="186" fill="url(#f377)"/>
<rect x="143" y="-86" width="4.5" height="172" fill="url(#f378)"/>
<rect x="147" y="-79" width="4.5" height="158" fill="url(#f379)"/>
<rect x="151" y="-71" width="4.5" height="142" fill="url(#f380)"/>
<rect x="155" y="-61" width="4.5" height="122" fill="url(#f381)"/>
<rect x="159" y="-48" width="4.5" height="96" fill="url(#f382)"/>
<rect x="163" y="-30" width="4.5" height="60" fill="url(#f383)"/>
<rect x="167" y="-4" width="4.5" height="8" fill="url(#f384)"/></g>
<linearGradient id="f40" gradientUnits="userSpaceOnUse" x1="0" x2="0" y1="-12" y2="12"><stop offset="0" stop-color="#f7dad6"/><stop offset="1" stop-color="#fae6e3"/></linearGradient>
<linearGradient id="f41" gradientUnits="userSpaceOnUse" x1="0" x2="0" y1="-41" y2="41"><stop offset="0" stop-color="#f8e0dd"/><stop offset="0.341" stop-color="#f7dbd7"/><stop offset="0.793" stop-color="#fbeceb"/><stop offset="1" stop-color="#fbeae8"/></linearGradient>
<linearGradient id="f42" gradientUnits="userSpaceOnUse" x1="0" x2="0" y1="-55" y2="55"><stop offset="0" stop-color="#fae6e4"/><stop offset="0.382" stop-color="#f7dcd8"/><stop offset="0.718" stop-color="#fbecea"/><stop offset="0.809" stop-color="#fbedeb"/><stop offset="1" stop-color="#f9e2df"/></linearGradient>
<linearGradient id="f43" gradientUnits="userSpaceOnUse" x1="0" x2="0" y1="-66" y2="66"><stop offset="0" stop-color="#fbecea"/><stop offset="0.242" stop-color="#f8e0dd"/><stop offset="0.402" stop-color="#f8ddd9"/><stop offset="0.758" stop-color="#fbedeb"/><stop offset="1" stop-color="#f7d9d5"/></linearGradient>
<linearGradient id="f44" gradientUnits="userSpaceOnUse" x1="0" x2="0" y1="-75" y2="75"><stop offset="0" stop-color="#fcf1ef"/><stop offset="0.38" stop-color="#f8dedb"/><stop offset="0.727" stop-color="#fbecea"/><stop offset="0.833" stop-color="#f9e4e1"/><stop offset="1" stop-color="#f5d0cb"/></linearGradient>
<linearGradient id="f45" gradientUnits="userSpaceOnUse" x1="0" x2="0" y1="-83" y2="83"><stop offset="0" stop-color="#fdf4f3"/><stop offset="0.392" stop-color="#f8e0dd"/><stop offset="0.675" stop-color="#fbebe9"/><stop offset="0.735" stop-color="#faeae8"/><stop offset="0.861" stop-color="#f7dbd8"/><stop offset="1" stop-color="#f3c6c1"/></linearGradient>
<linearGradient id="f46" gradientUnits="userSpaceOnUse" x1="0" x2="0" y1="-90" y2="90"><stop offset="0" stop-color="#fdf8f7"/><stop offset="0.4" stop-color="#f9e1de"/><stop offset="0.717" stop-color="#fae9e7"/><stop offset="0.839" stop-color="#f7d9d5"/><stop offset="1" stop-color="#f1bcb6"/></linearGradient>
<linearGradient id="f47" gradientUnits="userSpaceOnUse" x1="0" x2="0" y1="-96" y2="96"><stop offset="0" stop-color="#fefbfa"/><stop offset="0.406" stop-color="#f9e3e0"/><stop offset="0.703" stop-color="#fae8e5"/><stop offset="0.839" stop-color="#f6d4d0"/><stop offset="1" stop-color="#efb3ac"/></linearGradient>
<linearGradient id="f48" gradientUnits="userSpaceOnUse" x1="0" x2="0" y1="-101" y2="101"><stop offset="0" stop-color="#fffdfd"/><stop offset="0.411" stop-color="#f9e5e3"/><stop offset="0.698" stop-color="#fae6e3"/><stop offset="0.822" stop-color="#f5d2cd"/><stop offset="1" stop-color="#edaaa2"/></linearGradient>
<linearGradient id="f49" gradientUnits="userSpaceOnUse" x1="0" x2="0" y1="-107" y2="107"><stop offset="0" stop-color="#fdfdff"/><stop offset="0.075" stop-color="#fffdfd"/><stop offset="0.416" stop-color="#fae7e5"/><stop offset="0.687" stop-color="#f9e4e1"/><stop offset="0.785" stop-color="#f6d3cf"/><stop offset="1" stop-color="#eba097"/></linearGradient>
<linearGradient id="f410" gradientUnits="userSpaceOnUse" x1="0" x2="0" y1="-112" y2="112"><stop offset="0" stop-color="#fafafe"/><stop offset="0.089" stop-color="#ffffff"/><stop offset="0.42" stop-color="#faeae8"/><stop offset="0.625" stop-color="#f9e5e2"/><stop offset="0.696" stop-color="#f8e0dd"/><stop offset="0.79" stop-color="#f4cdc8"/><stop offset="1" stop-color="#e9978d"/></linearGradient>
<linearGradient id="f411" gradientUnits="userSpaceOnUse" x1="0" x2="0" y1="-116" y2="116"><stop offset="0" stop-color="#f6f6fe"/><stop offset="0.142" stop-color="#ffffff"/><stop offset="0.69" stop-color="#f8dedb"/><stop offset="0.763" stop-color="#f5ceca"/><stop offset="1" stop-color="#e78f84"/></linearGradient>
<linearGradient id="f412" gradientUnits="userSpaceOnUse" x1="0" x2="0" y1="-120" y2="120"><stop offset="0" stop-color="#f3f3fe"/><stop offset="0.196" stop-color="#ffffff"/><stop offset="0.662" stop-color="#f8dedb"/><stop offset="0.729" stop-color="#f5d2ce"/><stop offset="1" stop-color="#e5877b"/></linearGradient>
<linearGradient id="f413" gradientUnits="userSpaceOnUse" x1="0" x2="0" y1="-124" y2="124"><stop offset="0" stop-color="#efeffd"/><stop offset="0.254" stop-color="#ffffff"/><stop offset="0.617" stop-color="#f9e1de"/><stop offset="0.722" stop-color="#f5cfcb"/><stop offset="1" stop-color="#e37e71"/></linearGradient>
<linearGradient id="f414" gradientUnits="userSpaceOnUse" x1="0" x2="0" y1="-128" y2="128"><stop offset="0" stop-color="#ebebfd"/><stop offset="0.32" stop-color="#ffffff"/><stop offset="0.555" stop-color="#fae7e5"/><stop offset="0.652" stop-color="#f7dad6"/><stop offset="0.715" stop-color="#f4ccc7"/><stop offset="1" stop-color="#e17366"/></linearGradient>
<linearGradient id="f415" gradientUnits="userSpaceOnUse" x1="0" x2="0" y1="-131" y2="131"><stop offset="0" stop-color="#e7e7fc"/><stop offset="0.229" stop-color="#f2f2fe"/><stop offset="0.378" stop-color="#ffffff"/><stop offset="0.469" stop-color="#fdf5f4"/><stop offset="0.592" stop-color="#f9e3e0"/><stop offset="0.691" stop-color="#f5cec9"/><stop offset="1" stop-color="#de6758"/></linearGradient>
<linearGradient id="f416" gradientUnits="userSpaceOnUse" x1="0" x2="0" y1="-134" y2="134"><stop offset="0" stop-color="#e3e3fc"/><stop offset="0.257" stop-color="#eeeefd"/><stop offset="0.418" stop-color="#ffffff"/><stop offset="0.47" stop-color="#fef8f8"/><stop offset="0.59" stop-color="#f9e4e1"/><stop offset="0.687" stop-color="#f4cbc6"/><stop offset="1" stop-color="#db5646"/></linearGradient>
<linearGradient id="f417" gradientUnits="userSpaceOnUse" x1="0" x2="0" y1="-137" y2="137"><stop offset="0" stop-color="#dfdffb"/><stop offset="0.263" stop-color="#e9e9fc"/><stop offset="0.358" stop-color="#f1f1fd"/><stop offset="0.449" stop-color="#ffffff"/><stop offset="0.471" stop-color="#fefcfc"/><stop offset="0.584" stop-color="#fae6e4"/><stop offset="0.679" stop-color="#f4c9c4"/><stop offset="1" stop-color="#d74432"/></linearGradient>
<linearGradient id="f418" gradientUnits="userSpaceOnUse" x1="0" x2="0" y1="-140" y2="140"><stop offset="0" stop-color="#dbdbfb"/><stop offset="0.286" stop-color="#e4e4fc"/><stop offset="0.379" stop-color="#eeeefd"/><stop offset="0.475" stop-color="#ffffff"/><stop offset="0.564" stop-color="#fbecea"/><stop offset="0.639" stop-color="#f6d4d0"/><stop offset="0.714" stop-color="#efb6af"/><stop offset="0.957" stop-color="#d74432"/><stop offset="1" stop-color="#d74432"/></linearGradient>
<linearGradient id="f419" gradientUnits="userSpaceOnUse" x1="0" x2="0" y1="-143" y2="143"><stop offset="0" stop-color="#d7d7fa"/><stop offset="0.308" stop-color="#e0e0fb"/><stop offset="0.399" stop-color="#ebebfd"/><stop offset="0.493" stop-color="#fffffe"/><stop offset="0.58" stop-color="#fae7e4"/><stop offset="0.675" stop-color="#f2c2bc"/><stop offset="0.92" stop-color="#d74432"/><stop offset="1" stop-color="#d74432"/></linearGradient>
<linearGradient id="f420" gradientUnits="userSpaceOnUse" x1="0" x2="0" y1="-145" y2="145"><stop offset="0" stop-color="#d4d4fa"/><stop offset="0.31" stop-color="#dadafb"/><stop offset="0.417" stop-color="#e9e9fc"/><stop offset="0.5" stop-color="#ffffff"/><stop offset="0.583" stop-color="#fae5e3"/><stop offset="0.672" stop-color="#f1bfb9"/><stop offset="0.89" stop-color="#d74433"/><stop offset="1" stop-color="#d74432"/></linearGradient>
<linearGradient id="f421" gradientUnits="userSpaceOnUse" x1="0" x2="0" y1="-147" y2="147"><stop offset="0" stop-color="#d2d2fa"/><stop offset="0.33" stop-color="#d7d7fa"/><stop offset="0.422" stop-color="#e5e5fc"/><stop offset="0.507" stop-color="#ffffff"/><stop offset="0.582" stop-color="#fae6e3"/><stop offset="0.67" stop-color="#f1bdb6"/><stop offset="0.864" stop-color="#d74533"/><stop offset="1" stop-color="#d74432"/></linearGradient>
<linearGradient id="f422" gradientUnits="userSpaceOnUse" x1="0" x2="0" y1="-150" y2="150"><stop offset="0" stop-color="#d0d0f9"/><stop offset="0.263" stop-color="#cfcff9"/><stop offset="0.333" stop-color="#d3d3fa"/><stop offset="0.423" stop-color="#e1e1fb"/><stop offset="0.513" stop-color="#ffffff"/><stop offset="0.593" stop-color="#f8e0dd"/><stop offset="0.667" stop-color="#f0bab4"/><stop offset="0.843" stop-color="#d74432"/><stop offset="1" stop-color="#d74432"/></linearGradient>
<linearGradient id="f423" gradientUnits="userSpaceOnUse" x1="0" x2="0" y1="-152" y2="152"><stop offset="0" stop-color="#cecef9"/><stop offset="0.25" stop-color="#ccccf9"/><stop offset="0.339" stop-color="#cfcff9"/><stop offset="0.424" stop-color="#ddddfb"/><stop offset="0.474" stop-color="#ececfd"/><stop offset="0.52" stop-color="#ffffff"/><stop offset="0.595" stop-color="#f8dfdc"/><stop offset="0.664" stop-color="#f0b8b2"/><stop offset="0.697" stop-color="#eba39a"/><stop offset="0.766" stop-color="#e06e60"/><stop offset="0.826" stop-color="#d74432"/><stop offset="1" stop-color="#d74432"/></linearGradient>
<linearGradient id="f424" gradientUnits="userSpaceOnUse" x1="0" x2="0" y1="-154" y2="154"><stop offset="0" stop-color="#cbcbf9"/><stop offset="0.253" stop-color="#c9c9f9"/><stop offset="0.354" stop-color="#cdcdf9"/><stop offset="0.438" stop-color="#ddddfb"/><stop offset="0.526" stop-color="#fffefe"/><stop offset="0.594" stop-color="#f8e0dd"/><stop offset="0.662" stop-color="#f0b7b0"/><stop offset="0.812" stop-color="#d74432"/><stop offset="1" stop-color="#d74432"/></linearGradient>
<linearGradient id="f425" gradientUnits="userSpaceOnUse" x1="0" x2="0" y1="-155" y2="155"><stop offset="0" stop-color="#c9c9f9"/><stop offset="0.255" stop-color="#c6c6f8"/><stop offset="0.358" stop-color="#cacaf9"/><stop offset="0.442" stop-color="#dadafb"/><stop offset="0.529" stop-color="#ffffff"/><stop offset="0.594" stop-color="#f8e0dd"/><stop offset="0.661" stop-color="#efb6af"/><stop offset="0.697" stop-color="#ea9b92"/><stop offset="0.8" stop-color="#d74432"/><stop offset="1" stop-color="#d74432"/></linearGradient>
<linearGradient id="f426" gradientUnits="userSpaceOnUse" x1="0" x2="0" y1="-157" y2="157"><stop offset="0" stop-color="#c8c8f8"/><stop offset="0.258" stop-color="#c3c3f8"/><stop offset="0.373" stop-color="#c9c9f9"/><stop offset="0.443" stop-color="#d7d7fa"/><stop offset="0.49" stop-color="#eaeafd"/><stop offset="0.532" stop-color="#ffffff"/><stop offset="0.592" stop-color="#f9e1de"/><stop offset="0.659" stop-color="#efb6af"/><stop offset="0.694" stop-color="#e99a90"/><stop offset="0.79" stop-color="#d74533"/><stop offset="1" stop-color="#d74432"/></linearGradient>
<linearGradient id="f427" gradientUnits="userSpaceOnUse" x1="0" x2="0" y1="-159" y2="159"><stop offset="0" stop-color="#c6c6f8"/><stop offset="0.261" stop-color="#c1c1f8"/><stop offset="0.374" stop-color="#c6c6f8"/><stop offset="0.412" stop-color="#ccccf9"/><stop offset="0.456" stop-color="#d9d9fb"/><stop offset="0.535" stop-color="#ffffff"/><stop offset="0.607" stop-color="#f7d8d4"/><stop offset="0.673" stop-color="#edaaa2"/><stop offset="0.783" stop-color="#d74432"/><stop offset="1" stop-color="#d74432"/></linearGradient>
<linearGradient id="f428" gradientUnits="userSpaceOnUse" x1="0" x2="0" y1="-160" y2="160"><stop offset="0" stop-color="#c4c4f8"/><stop offset="0.263" stop-color="#bfbff7"/><stop offset="0.378" stop-color="#c4c4f8"/><stop offset="0.425" stop-color="#ccccf9"/><stop offset="0.459" stop-color="#d7d7fa"/><stop offset="0.537" stop-color="#fffefe"/><stop offset="0.591" stop-color="#f9e2df"/><stop offset="0.672" stop-color="#edaba3"/><stop offset="0.778" stop-color="#d74533"/><stop offset="1" stop-color="#d74432"/></linearGradient>
<linearGradient id="f429" gradientUnits="userSpaceOnUse" x1="0" x2="0" y1="-161" y2="161"><stop offset="0" stop-color="#c2c2f8"/><stop offset="0.199" stop-color="#bcbcf7"/><stop offset="0.379" stop-color="#c2c2f8"/><stop offset="0.425" stop-color="#cacaf9"/><stop offset="0.46" stop-color="#d5d5fa"/><stop offset="0.537" stop-color="#ffffff"/><stop offset="0.59" stop-color="#f9e2df"/><stop offset="0.671" stop-color="#edada5"/><stop offset="0.705" stop-color="#e78e83"/><stop offset="0.776" stop-color="#d74433"/><stop offset="1" stop-color="#d74432"/></linearGradient>
<linearGradient id="f430" gradientUnits="userSpaceOnUse" x1="0" x2="0" y1="-162" y2="162"><stop offset="0" stop-color="#c0c0f8"/><stop offset="0.216" stop-color="#babaf7"/><stop offset="0.38" stop-color="#bfbff8"/><stop offset="0.426" stop-color="#c8c8f9"/><stop offset="0.46" stop-color="#d3d3fa"/><stop offset="0.54" stop-color="#fffefe"/><stop offset="0.636" stop-color="#f3c7c2"/><stop offset="0.67" stop-color="#eeb0a8"/><stop offset="0.704" stop-color="#e79085"/><stop offset="0.778" stop-color="#d74432"/><stop offset="1" stop-color="#d74432"/></linearGradient>
<linearGradient id="f431" gradientUnits="userSpaceOnUse" x1="0" x2="0" y1="-164" y2="164"><stop offset="0" stop-color="#bfbff7"/><stop offset="0.22" stop-color="#b8b8f7"/><stop offset="0.381" stop-color="#bebef7"/><stop offset="0.427" stop-color="#c6c6f8"/><stop offset="0.46" stop-color="#d2d2fa"/><stop offset="0.494" stop-color="#e2e2fc"/><stop offset="0.54" stop-color="#ffffff"/><stop offset="0.622" stop-color="#f5d1cd"/><stop offset="0.668" stop-color="#efb3ab"/><stop offset="0.701" stop-color="#e89389"/><stop offset="0.774" stop-color="#d74533"/><stop offset="1" stop-color="#d74432"/></linearGradient>
<linearGradient id="f432" gradientUnits="userSpaceOnUse" x1="0" x2="0" y1="-165" y2="165"><stop offset="0" stop-color="#bdbdf7"/><stop offset="0.224" stop-color="#b5b5f6"/><stop offset="0.382" stop-color="#bcbcf7"/><stop offset="0.427" stop-color="#c4c4f8"/><stop offset="0.461" stop-color="#d0d0f9"/><stop offset="0.542" stop-color="#fffefe"/><stop offset="0.621" stop-color="#f6d5d1"/><stop offset="0.667" stop-color="#efb6af"/><stop offset="0.7" stop-color="#e9978d"/><stop offset="0.776" stop-color="#d74533"/><stop offset="1" stop-color="#d74432"/></linearGradient>
<linearGradient id="f433" gradientUnits="userSpaceOnUse" x1="0" x2="0" y1="-165" y2="165"><stop offset="0" stop-color="#bbbbf7"/><stop offset="0.236" stop-color="#b3b3f6"/><stop offset="0.382" stop-color="#babaf7"/><stop offset="0.427" stop-color="#c3c3f8"/><stop offset="0.461" stop-color="#cfcff9"/><stop offset="0.506" stop-color="#e6e6fc"/><stop offset="0.542" stop-color="#fefeff"/><stop offset="0.618" stop-color="#f7dad7"/><stop offset="0.667" stop-color="#f0bab4"/><stop offset="0.7" stop-color="#ea9b91"/><stop offset="0.782" stop-color="#d74432"/><stop offset="1" stop-color="#d74432"/></linearGradient>
<linearGradient id="f434" gradientUnits="userSpaceOnUse" x1="0" x2="0" y1="-166" y2="166"><stop offset="0" stop-color="#babaf7"/><stop offset="0.241" stop-color="#b2b2f6"/><stop offset="0.383" stop-color="#b9b9f7"/><stop offset="0.428" stop-color="#c1c1f8"/><stop offset="0.461" stop-color="#cdcdf9"/><stop offset="0.548" stop-color="#ffffff"/><stop offset="0.617" stop-color="#f8dfdc"/><stop offset="0.666" stop-color="#f1bfb9"/><stop offset="0.699" stop-color="#ea9f96"/><stop offset="0.783" stop-color="#d74432"/><stop offset="1" stop-color="#d74432"/></linearGradient>
<linearGradient id="f435" gradientUnits="userSpaceOnUse" x1="0" x2="0" y1="-167" y2="167"><stop offset="0" stop-color="#b9b9f7"/><stop offset="0.243" stop-color="#b0b0f6"/><stop offset="0.383" stop-color="#b8b8f7"/><stop offset="0.446" stop-color="#c6c6f8"/><stop offset="0.557" stop-color="#ffffff"/><stop offset="0.617" stop-color="#f9e4e1"/><stop offset="0.665" stop-color="#f2c3be"/><stop offset="0.698" stop-color="#eba49b"/><stop offset="0.787" stop-color="#d74432"/><stop offset="1" stop-color="#d74432"/></linearGradient>
<linearGradient id="f436" gradientUnits="userSpaceOnUse" x1="0" x2="0" y1="-167" y2="167"><stop offset="0" stop-color="#b8b8f7"/><stop offset="0.257" stop-color="#aeaef5"/><stop offset="0.383" stop-color="#b6b6f6"/><stop offset="0.446" stop-color="#c5c5f8"/><stop offset="0.572" stop-color="#fffefe"/><stop offset="0.617" stop-color="#fae9e6"/><stop offset="0.665" stop-color="#f3c8c3"/><stop offset="0.793" stop-color="#d74432"/><stop offset="1" stop-color="#d74432"/></linearGradient>
<linearGradient id="f437" gradientUnits="userSpaceOnUse" x1="0" x2="0" y1="-168" y2="168"><stop offset="0" stop-color="#b7b7f7"/><stop offset="0.259" stop-color="#adadf5"/><stop offset="0.384" stop-color="#b5b5f6"/><stop offset="0.446" stop-color="#c3c3f8"/><stop offset="0.583" stop-color="#ffffff"/><stop offset="0.631" stop-color="#f9e5e2"/><stop offset="0.664" stop-color="#f4cdc9"/><stop offset="0.798" stop-color="#d74533"/><stop offset="1" stop-color="#d74432"/></linearGradient>
<linearGradient id="f438" gradientUnits="userSpaceOnUse" x1="0" x2="0" y1="-168" y2="168"><stop offset="0" stop-color="#b6b6f6"/><stop offset="0.259" stop-color="#acacf5"/><stop offset="0.384" stop-color="#b4b4f6"/><stop offset="0.429" stop-color="#bcbcf7"/><stop offset="0.524" stop-color="#dcdcfb"/><stop offset="0.557" stop-color="#eaeafc"/><stop offset="0.595" stop-color="#fffefe"/><stop offset="0.631" stop-color="#fbeae8"/><stop offset="0.664" stop-color="#f5d2ce"/><stop offset="0.807" stop-color="#d74533"/><stop offset="1" stop-color="#d74432"/></linearGradient>
<linearGradient id="f439" gradientUnits="userSpaceOnUse" x1="0" x2="0" y1="-168" y2="168"><stop offset="0" stop-color="#b6b6f6"/><stop offset="0.259" stop-color="#aaaaf5"/><stop offset="0.366" stop-color="#b0b0f6"/><stop offset="0.414" stop-color="#b7b7f7"/><stop offset="0.524" stop-color="#d6d6fa"/><stop offset="0.568" stop-color="#e9e9fc"/><stop offset="0.604" stop-color="#ffffff"/><stop offset="0.634" stop-color="#fbeeec"/><stop offset="0.664" stop-color="#f7d7d4"/><stop offset="0.789" stop-color="#dc5d4d"/><stop offset="0.818" stop-color="#d74533"/><stop offset="1" stop-color="#d74432"/></linearGradient>
<linearGradient id="f440" gradientUnits="userSpaceOnUse" x1="0" x2="0" y1="-169" y2="169"><stop offset="0" stop-color="#b5b5f6"/><stop offset="0.26" stop-color="#a9a9f5"/><stop offset="0.367" stop-color="#aeaef6"/><stop offset="0.414" stop-color="#b5b5f6"/><stop offset="0.524" stop-color="#d0d0f9"/><stop offset="0.571" stop-color="#e3e3fc"/><stop offset="0.615" stop-color="#fffefe"/><stop offset="0.663" stop-color="#f8ddd9"/><stop offset="0.787" stop-color="#de6557"/><stop offset="0.831" stop-color="#d74432"/><stop offset="1" stop-color="#d74432"/></linearGradient>
<linearGradient id="f441" gradientUnits="userSpaceOnUse" x1="0" x2="0" y1="-169" y2="169"><stop offset="0" stop-color="#b5b5f6"/><stop offset="0.26" stop-color="#a9a9f5"/><stop offset="0.37" stop-color="#adadf5"/><stop offset="0.476" stop-color="#bfbff7"/><stop offset="0.524" stop-color="#cbcbf9"/><stop offset="0.571" stop-color="#dedefb"/><stop offset="0.621" stop-color="#ffffff"/><stop offset="0.678" stop-color="#f6d5d1"/><stop offset="0.802" stop-color="#dd6253"/><stop offset="0.849" stop-color="#d74533"/><stop offset="1" stop-color="#d74432"/></linearGradient>
<linearGradient id="f442" gradientUnits="userSpaceOnUse" x1="0" x2="0" y1="-169" y2="169"><stop offset="0" stop-color="#b5b5f6"/><stop offset="0.26" stop-color="#a8a8f5"/><stop offset="0.37" stop-color="#acacf5"/><stop offset="0.491" stop-color="#bfbff8"/><stop offset="0.538" stop-color="#ccccf9"/><stop offset="0.586" stop-color="#e1e1fb"/><stop offset="0.63" stop-color="#fffefe"/><stop offset="0.692" stop-color="#f5cfca"/><stop offset="0.787" stop-color="#e2776a"/><stop offset="0.834" stop-color="#db5746"/><stop offset="0.879" stop-color="#d74432"/><stop offset="1" stop-color="#d74432"/></linearGradient>
<linearGradient id="f443" gradientUnits="userSpaceOnUse" x1="0" x2="0" y1="-169" y2="169"><stop offset="0" stop-color="#b5b5f6"/><stop offset="0.26" stop-color="#a7a7f5"/><stop offset="0.382" stop-color="#acacf5"/><stop offset="0.494" stop-color="#bfbff7"/><stop offset="0.538" stop-color="#c9c9f9"/><stop offset="0.586" stop-color="#ddddfb"/><stop offset="0.633" stop-color="#fefeff"/><stop offset="0.695" stop-color="#f5d2cd"/><stop offset="0.802" stop-color="#e17467"/><stop offset="0.834" stop-color="#dd6152"/><stop offset="0.867" stop-color="#da5342"/><stop offset="0.911" stop-color="#d84635"/><stop offset="1" stop-color="#d74432"/></linearGradient>
<linearGradient id="f444" gradientUnits="userSpaceOnUse" x1="0" x2="0" y1="-169" y2="169"><stop offset="0" stop-color="#b4b4f6"/><stop offset="0.275" stop-color="#a7a7f5"/><stop offset="0.396" stop-color="#adadf5"/><stop offset="0.509" stop-color="#c1c1f8"/><stop offset="0.553" stop-color="#cdcdf9"/><stop offset="0.601" stop-color="#e3e3fc"/><stop offset="0.639" stop-color="#ffffff"/><stop offset="0.707" stop-color="#f4cec9"/><stop offset="0.802" stop-color="#e37e71"/><stop offset="0.834" stop-color="#df6b5d"/><stop offset="0.867" stop-color="#dd5e4e"/><stop offset="0.911" stop-color="#da5342"/><stop offset="1" stop-color="#d94b3a"/></linearGradient>
<linearGradient id="f445" gradientUnits="userSpaceOnUse" x1="0" x2="0" y1="-168" y2="168"><stop offset="0" stop-color="#b4b4f6"/><stop offset="0.274" stop-color="#a6a6f5"/><stop offset="0.399" stop-color="#acacf5"/><stop offset="0.557" stop-color="#cdcdf9"/><stop offset="0.601" stop-color="#e1e1fb"/><stop offset="0.646" stop-color="#fffefe"/><stop offset="0.711" stop-color="#f5d0cc"/><stop offset="0.804" stop-color="#e5877c"/><stop offset="0.836" stop-color="#e27568"/><stop offset="0.899" stop-color="#dd6152"/><stop offset="1" stop-color="#db5746"/></linearGradient>
<linearGradient id="f446" gradientUnits="userSpaceOnUse" x1="0" x2="0" y1="-168" y2="168"><stop offset="0" stop-color="#b5b5f6"/><stop offset="0.274" stop-color="#a6a6f5"/><stop offset="0.399" stop-color="#ababf5"/><stop offset="0.568" stop-color="#d1d1fa"/><stop offset="0.616" stop-color="#e8e8fc"/><stop offset="0.649" stop-color="#ffffff"/><stop offset="0.711" stop-color="#f6d5d1"/><stop offset="0.804" stop-color="#e79086"/><stop offset="0.833" stop-color="#e48174"/><stop offset="0.899" stop-color="#e06d5f"/><stop offset="1" stop-color="#dd6050"/></linearGradient>
<linearGradient id="f447" gradientUnits="userSpaceOnUse" x1="0" x2="0" y1="-168" y2="168"><stop offset="0" stop-color="#b5b5f6"/><stop offset="0.274" stop-color="#a6a6f5"/><stop offset="0.399" stop-color="#aaaaf5"/><stop offset="0.446" stop-color="#b2b2f6"/><stop offset="0.571" stop-color="#d2d2fa"/><stop offset="0.616" stop-color="#e6e6fc"/><stop offset="0.652" stop-color="#fefeff"/><stop offset="0.804" stop-color="#e9998f"/><stop offset="0.833" stop-color="#e68a7f"/><stop offset="0.896" stop-color="#e2786b"/><stop offset="1" stop-color="#de6758"/></linearGradient>
<linearGradient id="f448" gradientUnits="userSpaceOnUse" x1="0" x2="0" y1="-167" y2="167"><stop offset="0" stop-color="#b5b5f6"/><stop offset="0.269" stop-color="#a6a6f5"/><stop offset="0.398" stop-color="#a9a9f5"/><stop offset="0.461" stop-color="#b4b4f6"/><stop offset="0.584" stop-color="#d7d7fa"/><stop offset="0.617" stop-color="#e5e5fc"/><stop offset="0.659" stop-color="#fffefe"/><stop offset="0.823" stop-color="#e9988e"/><stop offset="0.886" stop-color="#e58478"/><stop offset="1" stop-color="#e06d5f"/></linearGradient>
<linearGradient id="f449" gradientUnits="userSpaceOnUse" x1="0" x2="0" y1="-166" y2="166"><stop offset="0" stop-color="#b5b5f6"/><stop offset="0.256" stop-color="#a7a7f5"/><stop offset="0.398" stop-color="#a8a8f5"/><stop offset="0.461" stop-color="#b3b3f6"/><stop offset="0.587" stop-color="#d8d8fa"/><stop offset="0.62" stop-color="#e5e5fc"/><stop offset="0.663" stop-color="#fffefe"/><stop offset="0.762" stop-color="#f2c2bd"/><stop offset="0.825" stop-color="#eba198"/><stop offset="0.919" stop-color="#e58579"/><stop offset="1" stop-color="#e17466"/></linearGradient>
<linearGradient id="f450" gradientUnits="userSpaceOnUse" x1="0" x2="0" y1="-166" y2="166"><stop offset="0" stop-color="#b6b6f6"/><stop offset="0.256" stop-color="#a7a7f5"/><stop offset="0.398" stop-color="#a7a7f5"/><stop offset="0.476" stop-color="#b6b6f6"/><stop offset="0.587" stop-color="#d8d8fa"/><stop offset="0.62" stop-color="#e5e5fc"/><stop offset="0.666" stop-color="#fffefe"/><stop offset="0.762" stop-color="#f3c7c1"/><stop offset="0.825" stop-color="#eca8a0"/><stop offset="0.919" stop-color="#e68b7f"/><stop offset="1" stop-color="#e2796d"/></linearGradient>
<linearGradient id="f451" gradientUnits="userSpaceOnUse" x1="0" x2="0" y1="-165" y2="165"><stop offset="0" stop-color="#b6b6f6"/><stop offset="0.255" stop-color="#a7a7f5"/><stop offset="0.397" stop-color="#a7a7f5"/><stop offset="0.461" stop-color="#b1b1f6"/><stop offset="0.524" stop-color="#c3c3f8"/><stop offset="0.618" stop-color="#e3e3fc"/><stop offset="0.67" stop-color="#fffefe"/><stop offset="0.761" stop-color="#f4cdc8"/><stop offset="0.824" stop-color="#eeb0a9"/><stop offset="0.906" stop-color="#e8958b"/><stop offset="1" stop-color="#e48074"/></linearGradient>
<linearGradient id="f452" gradientUnits="userSpaceOnUse" x1="0" x2="0" y1="-164" y2="164"><stop offset="0" stop-color="#b6b6f6"/><stop offset="0.299" stop-color="#a6a6f5"/><stop offset="0.412" stop-color="#a8a8f5"/><stop offset="0.476" stop-color="#b4b4f6"/><stop offset="0.54" stop-color="#c6c6f8"/><stop offset="0.622" stop-color="#e4e4fc"/><stop offset="0.671" stop-color="#fefeff"/><stop offset="0.762" stop-color="#f5d1cc"/><stop offset="0.829" stop-color="#efb6af"/><stop offset="0.921" stop-color="#e9988e"/><stop offset="1" stop-color="#e5867b"/></linearGradient>
<linearGradient id="f453" gradientUnits="userSpaceOnUse" x1="0" x2="0" y1="-163" y2="163"><stop offset="0" stop-color="#b7b7f6"/><stop offset="0.313" stop-color="#a6a6f4"/><stop offset="0.411" stop-color="#a8a8f5"/><stop offset="0.475" stop-color="#b3b3f6"/><stop offset="0.54" stop-color="#c5c5f8"/><stop offset="0.635" stop-color="#e8e8fc"/><stop offset="0.675" stop-color="#ffffff"/><stop offset="0.748" stop-color="#f7dcd8"/><stop offset="0.813" stop-color="#f2c2bd"/><stop offset="0.911" stop-color="#eba299"/><stop offset="1" stop-color="#e78d82"/></linearGradient>
<linearGradient id="f454" gradientUnits="userSpaceOnUse" x1="0" x2="0" y1="-162" y2="162"><stop offset="0" stop-color="#b7b7f7"/><stop offset="0.315" stop-color="#a6a6f4"/><stop offset="0.41" stop-color="#a7a7f5"/><stop offset="0.475" stop-color="#b3b3f6"/><stop offset="0.54" stop-color="#c4c4f8"/><stop offset="0.639" stop-color="#e9e9fc"/><stop offset="0.679" stop-color="#ffffff"/><stop offset="0.799" stop-color="#f4cdc8"/><stop offset="0.914" stop-color="#eca8a0"/><stop offset="1" stop-color="#e89389"/></linearGradient>
<linearGradient id="f455" gradientUnits="userSpaceOnUse" x1="0" x2="0" y1="-161" y2="161"><stop offset="0" stop-color="#b8b8f7"/><stop offset="0.314" stop-color="#a6a6f5"/><stop offset="0.41" stop-color="#a8a8f5"/><stop offset="0.475" stop-color="#b2b2f6"/><stop offset="0.543" stop-color="#c4c4f8"/><stop offset="0.637" stop-color="#e7e7fc"/><stop offset="0.683" stop-color="#ffffff"/><stop offset="0.786" stop-color="#f6d7d3"/><stop offset="0.916" stop-color="#eeaea7"/><stop offset="1" stop-color="#e99a90"/></linearGradient>
<linearGradient id="f456" gradientUnits="userSpaceOnUse" x1="0" x2="0" y1="-159" y2="159"><stop offset="0" stop-color="#b8b8f7"/><stop offset="0.311" stop-color="#a7a7f5"/><stop offset="0.409" stop-color="#a8a8f5"/><stop offset="0.478" stop-color="#b3b3f6"/><stop offset="0.557" stop-color="#c7c7f8"/><stop offset="0.626" stop-color="#e1e1fb"/><stop offset="0.689" stop-color="#ffffff"/><stop offset="0.789" stop-color="#f7dcd8"/><stop offset="0.937" stop-color="#eeb0a9"/><stop offset="1" stop-color="#eba198"/></linearGradient>
<linearGradient id="f457" gradientUnits="userSpaceOnUse" x1="0" x2="0" y1="-158" y2="158"><stop offset="0" stop-color="#b9b9f7"/><stop offset="0.31" stop-color="#a7a7f5"/><stop offset="0.408" stop-color="#a8a8f5"/><stop offset="0.478" stop-color="#b3b3f6"/><stop offset="0.557" stop-color="#c7c7f8"/><stop offset="0.623" stop-color="#dedefb"/><stop offset="0.696" stop-color="#ffffff"/><stop offset="0.775" stop-color="#f9e4e2"/><stop offset="1" stop-color="#eca89f"/></linearGradient>
<linearGradient id="f458" gradientUnits="userSpaceOnUse" x1="0" x2="0" y1="-156" y2="156"><stop offset="0" stop-color="#b9b9f7"/><stop offset="0.304" stop-color="#a8a8f5"/><stop offset="0.407" stop-color="#a9a9f5"/><stop offset="0.478" stop-color="#b3b3f6"/><stop offset="0.558" stop-color="#c6c6f8"/><stop offset="0.625" stop-color="#ddddfb"/><stop offset="0.705" stop-color="#fffefe"/><stop offset="0.763" stop-color="#fbecea"/><stop offset="1" stop-color="#eeafa7"/></linearGradient>
<linearGradient id="f459" gradientUnits="userSpaceOnUse" x1="0" x2="0" y1="-155" y2="155"><stop offset="0" stop-color="#b9b9f7"/><stop offset="0.303" stop-color="#a9a9f5"/><stop offset="0.41" stop-color="#ababf5"/><stop offset="0.49" stop-color="#b6b6f6"/><stop offset="0.558" stop-color="#c6c6f8"/><stop offset="0.626" stop-color="#ddddfb"/><stop offset="0.71" stop-color="#ffffff"/><stop offset="1" stop-color="#efb5ae"/></linearGradient>
<linearGradient id="f460" gradientUnits="userSpaceOnUse" x1="0" x2="0" y1="-153" y2="153"><stop offset="0" stop-color="#babaf7"/><stop offset="0.304" stop-color="#aaaaf5"/><stop offset="0.422" stop-color="#adadf5"/><stop offset="0.49" stop-color="#b7b7f7"/><stop offset="0.559" stop-color="#c7c7f8"/><stop offset="0.719" stop-color="#ffffff"/><stop offset="1" stop-color="#f1bdb6"/></linearGradient>
<linearGradient id="f461" gradientUnits="userSpaceOnUse" x1="0" x2="0" y1="-151" y2="151"><stop offset="0" stop-color="#babaf7"/><stop offset="0.126" stop-color="#b7b7f6"/><stop offset="0.301" stop-color="#ababf5"/><stop offset="0.421" stop-color="#afaff6"/><stop offset="0.49" stop-color="#b8b8f7"/><stop offset="0.56" stop-color="#c8c8f8"/><stop offset="0.728" stop-color="#ffffff"/><stop offset="1" stop-color="#f2c3be"/></linearGradient>
<linearGradient id="f462" gradientUnits="userSpaceOnUse" x1="0" x2="0" y1="-149" y2="149"><stop offset="0" stop-color="#bbbbf7"/><stop offset="0.121" stop-color="#b8b8f7"/><stop offset="0.299" stop-color="#adadf5"/><stop offset="0.419" stop-color="#b0b0f6"/><stop offset="0.49" stop-color="#babaf7"/><stop offset="0.56" stop-color="#c9c9f9"/><stop offset="0.742" stop-color="#ffffff"/><stop offset="1" stop-color="#f4cac5"/></linearGradient>
<linearGradient id="f463" gradientUnits="userSpaceOnUse" x1="0" x2="0" y1="-146" y2="146"><stop offset="0" stop-color="#bbbbf7"/><stop offset="0.113" stop-color="#b9b9f7"/><stop offset="0.295" stop-color="#afaff6"/><stop offset="0.418" stop-color="#b2b2f6"/><stop offset="0.562" stop-color="#cacaf9"/><stop offset="0.757" stop-color="#ffffff"/><stop offset="1" stop-color="#f5d1cc"/></linearGradient>
<linearGradient id="f464" gradientUnits="userSpaceOnUse" x1="0" x2="0" y1="-144" y2="144"><stop offset="0" stop-color="#bcbcf7"/><stop offset="0.108" stop-color="#bbbbf7"/><stop offset="0.288" stop-color="#b1b1f6"/><stop offset="0.417" stop-color="#b5b5f6"/><stop offset="0.562" stop-color="#cbcbf9"/><stop offset="0.771" stop-color="#ffffff"/><stop offset="1" stop-color="#f6d6d2"/></linearGradient>
<linearGradient id="f465" gradientUnits="userSpaceOnUse" x1="0" x2="0" y1="-141" y2="141"><stop offset="0" stop-color="#bdbdf7"/><stop offset="0.099" stop-color="#bcbcf7"/><stop offset="0.27" stop-color="#b4b4f6"/><stop offset="0.415" stop-color="#b7b7f7"/><stop offset="0.564" stop-color="#cdcdf9"/><stop offset="0.787" stop-color="#ffffff"/><stop offset="1" stop-color="#f7dcd8"/></linearGradient>
<linearGradient id="f466" gradientUnits="userSpaceOnUse" x1="0" x2="0" y1="-139" y2="139"><stop offset="0" stop-color="#bfbff7"/><stop offset="0.281" stop-color="#b6b6f6"/><stop offset="0.414" stop-color="#b9b9f7"/><stop offset="0.568" stop-color="#cfcff9"/><stop offset="0.802" stop-color="#ffffff"/><stop offset="1" stop-color="#f8e0de"/></linearGradient>
<linearGradient id="f467" gradientUnits="userSpaceOnUse" x1="0" x2="0" y1="-136" y2="136"><stop offset="0" stop-color="#c0c0f8"/><stop offset="0.279" stop-color="#b9b9f7"/><stop offset="0.412" stop-color="#bcbcf7"/><stop offset="0.588" stop-color="#d3d3fa"/><stop offset="0.816" stop-color="#ffffff"/><stop offset="1" stop-color="#f9e5e3"/></linearGradient>
<linearGradient id="f468" gradientUnits="userSpaceOnUse" x1="0" x2="0" y1="-133" y2="133"><stop offset="0" stop-color="#c2c2f8"/><stop offset="0.274" stop-color="#bbbbf7"/><stop offset="0.414" stop-color="#bebef7"/><stop offset="0.628" stop-color="#d9d9fb"/><stop offset="0.835" stop-color="#ffffff"/><stop offset="1" stop-color="#fae9e7"/></linearGradient>
<linearGradient id="f469" gradientUnits="userSpaceOnUse" x1="0" x2="0" y1="-129" y2="129"><stop offset="0" stop-color="#c3c3f8"/><stop offset="0.248" stop-color="#bebef7"/><stop offset="0.391" stop-color="#c0c0f8"/><stop offset="0.632" stop-color="#d9d9fb"/><stop offset="0.857" stop-color="#ffffff"/><stop offset="1" stop-color="#fbeeec"/></linearGradient>
<linearGradient id="f470" gradientUnits="userSpaceOnUse" x1="0" x2="0" y1="-126" y2="126"><stop offset="0" stop-color="#c4c4f8"/><stop offset="0.258" stop-color="#c0c0f8"/><stop offset="0.405" stop-color="#c3c3f8"/><stop offset="0.655" stop-color="#dbdbfb"/><stop offset="0.873" stop-color="#ffffff"/><stop offset="1" stop-color="#fcf1f0"/></linearGradient>
<linearGradient id="f471" gradientUnits="userSpaceOnUse" x1="0" x2="0" y1="-122" y2="122"><stop offset="0" stop-color="#c5c5f8"/><stop offset="0.234" stop-color="#c1c1f8"/><stop offset="0.402" stop-color="#c5c5f8"/><stop offset="0.66" stop-color="#dbdbfb"/><stop offset="0.898" stop-color="#ffffff"/><stop offset="1" stop-color="#fdf4f3"/></linearGradient>
<linearGradient id="f472" gradientUnits="userSpaceOnUse" x1="0" x2="0" y1="-118" y2="118"><stop offset="0" stop-color="#c5c5f8"/><stop offset="0.225" stop-color="#c2c2f8"/><stop offset="0.403" stop-color="#c7c7f8"/><stop offset="0.665" stop-color="#dadafb"/><stop offset="0.924" stop-color="#ffffff"/><stop offset="1" stop-color="#fdf8f7"/></linearGradient>
<linearGradient id="f473" gradientUnits="userSpaceOnUse" x1="0" x2="0" y1="-114" y2="114"><stop offset="0" stop-color="#c6c6f8"/><stop offset="0.259" stop-color="#c4c4f8"/><stop offset="0.513" stop-color="#cecef9"/><stop offset="0.693" stop-color="#dcdcfb"/><stop offset="0.952" stop-color="#ffffff"/><stop offset="1" stop-color="#fefbfa"/></linearGradient>
<linearGradient id="f474" gradientUnits="userSpaceOnUse" x1="0" x2="0" y1="-109" y2="109"><stop offset="0" stop-color="#c6c6f8"/><stop offset="0.271" stop-color="#c5c5f8"/><stop offset="0.583" stop-color="#d3d3fa"/><stop offset="0.702" stop-color="#dcdcfb"/><stop offset="0.986" stop-color="#ffffff"/><stop offset="1" stop-color="#fffefe"/></linearGradient>
<linearGradient id="f475" gradientUnits="userSpaceOnUse" x1="0" x2="0" y1="-104" y2="104"><stop offset="0" stop-color="#c6c6f8"/><stop offset="0.236" stop-color="#c6c6f8"/><stop offset="0.615" stop-color="#d4d4fa"/><stop offset="0.716" stop-color="#dcdcfb"/><stop offset="1" stop-color="#fcfcff"/></linearGradient>
<linearGradient id="f476" gradientUnits="userSpaceOnUse" x1="0" x2="0" y1="-99" y2="99"><stop offset="0" stop-color="#c7c7f8"/><stop offset="0.222" stop-color="#c7c7f8"/><stop offset="0.646" stop-color="#d5d5fa"/><stop offset="1" stop-color="#f8f8fe"/></linearGradient>
<linearGradient id="f477" gradientUnits="userSpaceOnUse" x1="0" x2="0" y1="-93" y2="93"><stop offset="0" stop-color="#c7c7f8"/><stop offset="0.199" stop-color="#c8c8f9"/><stop offset="0.656" stop-color="#d5d5fa"/><stop offset="1" stop-color="#f4f4fe"/></linearGradient>
<linearGradient id="f478" gradientUnits="userSpaceOnUse" x1="0" x2="0" y1="-86" y2="86"><stop offset="0" stop-color="#c7c7f8"/><stop offset="0.669" stop-color="#d5d5fa"/><stop offset="1" stop-color="#efeffd"/></linearGradient>
<linearGradient id="f479" gradientUnits="userSpaceOnUse" x1="0" x2="0" y1="-79" y2="79"><stop offset="0" stop-color="#c8c8f9"/><stop offset="0.684" stop-color="#d5d5fa"/><stop offset="1" stop-color="#eaeafd"/></linearGradient>
<linearGradient id="f480" gradientUnits="userSpaceOnUse" x1="0" x2="0" y1="-71" y2="71"><stop offset="0" stop-color="#c9c9f9"/><stop offset="0.373" stop-color="#d3d3fa"/><stop offset="0.704" stop-color="#d5d5fa"/><stop offset="1" stop-color="#e6e6fc"/></linearGradient>
<linearGradient id="f481" gradientUnits="userSpaceOnUse" x1="0" x2="0" y1="-61" y2="61"><stop offset="0" stop-color="#cbcbf9"/><stop offset="0.352" stop-color="#d4d4fa"/><stop offset="0.738" stop-color="#d5d5fa"/><stop offset="1" stop-color="#e1e1fb"/></linearGradient>
<linearGradient id="f482" gradientUnits="userSpaceOnUse" x1="0" x2="0" y1="-48" y2="48"><stop offset="0" stop-color="#cfcff9"/><stop offset="0.365" stop-color="#d5d5fa"/><stop offset="0.75" stop-color="#d4d4fa"/><stop offset="1" stop-color="#dcdcfb"/></linearGradient>
<linearGradient id="f483" gradientUnits="userSpaceOnUse" x1="0" x2="0" y1="-30" y2="30"><stop offset="0" stop-color="#d3d3fa"/><stop offset="1" stop-color="#d5d5fa"/></linearGradient>
<linearGradient id="f484" gradientUnits="userSpaceOnUse" x1="0" x2="0" y1="-4" y2="4"><stop offset="0" stop-color="#d6d6fa"/><stop offset="1" stop-color="#d5d5fa"/></linearGradient>
<g id="f4" filter="url(#vb)"><rect x="-169" y="-12" width="4.5" height="24" fill="url(#f40)"/>
<rect x="-165" y="-41" width="4.5" height="82" fill="url(#f41)"/>
<rect x="-161" y="-55" width="4.5" height="110" fill="url(#f42)"/>
<rect x="-157" y="-66" width="4.5" height="132" fill="url(#f43)"/>
<rect x="-153" y="-75" width="4.5" height="150" fill="url(#f44)"/>
<rect x="-149" y="-83" width="4.5" height="166" fill="url(#f45)"/>
<rect x="-145" y="-90" width="4.5" height="180" fill="url(#f46)"/>
<rect x="-141" y="-96" width="4.5" height="192" fill="url(#f47)"/>
<rect x="-137" y="-101" width="4.5" height="202" fill="url(#f48)"/>
<rect x="-133" y="-107" width="4.5" height="214" fill="url(#f49)"/>
<rect x="-129" y="-112" width="4.5" height="224" fill="url(#f410)"/>
<rect x="-125" y="-116" width="4.5" height="232" fill="url(#f411)"/>
<rect x="-121" y="-120" width="4.5" height="240" fill="url(#f412)"/>
<rect x="-117" y="-124" width="4.5" height="248" fill="url(#f413)"/>
<rect x="-113" y="-128" width="4.5" height="256" fill="url(#f414)"/>
<rect x="-109" y="-131" width="4.5" height="262" fill="url(#f415)"/>
<rect x="-105" y="-134" width="4.5" height="268" fill="url(#f416)"/>
<rect x="-101" y="-137" width="4.5" height="274" fill="url(#f417)"/>
<rect x="-97" y="-140" width="4.5" height="280" fill="url(#f418)"/>
<rect x="-93" y="-143" width="4.5" height="286" fill="url(#f419)"/>
<rect x="-89" y="-145" width="4.5" height="290" fill="url(#f420)"/>
<rect x="-85" y="-147" width="4.5" height="294" fill="url(#f421)"/>
<rect x="-81" y="-150" width="4.5" height="300" fill="url(#f422)"/>
<rect x="-77" y="-152" width="4.5" height="304" fill="url(#f423)"/>
<rect x="-73" y="-154" width="4.5" height="308" fill="url(#f424)"/>
<rect x="-69" y="-155" width="4.5" height="310" fill="url(#f425)"/>
<rect x="-65" y="-157" width="4.5" height="314" fill="url(#f426)"/>
<rect x="-61" y="-159" width="4.5" height="318" fill="url(#f427)"/>
<rect x="-57" y="-160" width="4.5" height="320" fill="url(#f428)"/>
<rect x="-53" y="-161" width="4.5" height="322" fill="url(#f429)"/>
<rect x="-49" y="-162" width="4.5" height="324" fill="url(#f430)"/>
<rect x="-45" y="-164" width="4.5" height="328" fill="url(#f431)"/>
<rect x="-41" y="-165" width="4.5" height="330" fill="url(#f432)"/>
<rect x="-37" y="-165" width="4.5" height="330" fill="url(#f433)"/>
<rect x="-33" y="-166" width="4.5" height="332" fill="url(#f434)"/>
<rect x="-29" y="-167" width="4.5" height="334" fill="url(#f435)"/>
<rect x="-25" y="-167" width="4.5" height="334" fill="url(#f436)"/>
<rect x="-21" y="-168" width="4.5" height="336" fill="url(#f437)"/>
<rect x="-17" y="-168" width="4.5" height="336" fill="url(#f438)"/>
<rect x="-13" y="-168" width="4.5" height="336" fill="url(#f439)"/>
<rect x="-9" y="-169" width="4.5" height="338" fill="url(#f440)"/>
<rect x="-5" y="-169" width="4.5" height="338" fill="url(#f441)"/>
<rect x="-1" y="-169" width="4.5" height="338" fill="url(#f442)"/>
<rect x="3" y="-169" width="4.5" height="338" fill="url(#f443)"/>
<rect x="7" y="-169" width="4.5" height="338" fill="url(#f444)"/>
<rect x="11" y="-168" width="4.5" height="336" fill="url(#f445)"/>
<rect x="15" y="-168" width="4.5" height="336" fill="url(#f446)"/>
<rect x="19" y="-168" width="4.5" height="336" fill="url(#f447)"/>
<rect x="23" y="-167" width="4.5" height="334" fill="url(#f448)"/>
<rect x="27" y="-166" width="4.5" height="332" fill="url(#f449)"/>
<rect x="31" y="-166" width="4.5" height="332" fill="url(#f450)"/>
<rect x="35" y="-165" width="4.5" height="330" fill="url(#f451)"/>
<rect x="39" y="-164" width="4.5" height="328" fill="url(#f452)"/>
<rect x="43" y="-163" width="4.5" height="326" fill="url(#f453)"/>
<rect x="47" y="-162" width="4.5" height="324" fill="url(#f454)"/>
<rect x="51" y="-161" width="4.5" height="322" fill="url(#f455)"/>
<rect x="55" y="-159" width="4.5" height="318" fill="url(#f456)"/>
<rect x="59" y="-158" width="4.5" height="316" fill="url(#f457)"/>
<rect x="63" y="-156" width="4.5" height="312" fill="url(#f458)"/>
<rect x="67" y="-155" width="4.5" height="310" fill="url(#f459)"/>
<rect x="71" y="-153" width="4.5" height="306" fill="url(#f460)"/>
<rect x="75" y="-151" width="4.5" height="302" fill="url(#f461)"/>
<rect x="79" y="-149" width="4.5" height="298" fill="url(#f462)"/>
<rect x="83" y="-146" width="4.5" height="292" fill="url(#f463)"/>
<rect x="87" y="-144" width="4.5" height="288" fill="url(#f464)"/>
<rect x="91" y="-141" width="4.5" height="282" fill="url(#f465)"/>
<rect x="95" y="-139" width="4.5" height="278" fill="url(#f466)"/>
<rect x="99" y="-136" width="4.5" height="272" fill="url(#f467)"/>
<rect x="103" y="-133" width="4.5" height="266" fill="url(#f468)"/>
<rect x="107" y="-129" width="4.5" height="258" fill="url(#f469)"/>
<rect x="111" y="-126" width="4.5" height="252" fill="url(#f470)"/>
<rect x="115" y="-122" width="4.5" height="244" fill="url(#f471)"/>
<rect x="119" y="-118" width="4.5" height="236" fill="url(#f472)"/>
<rect x="123" y="-114" width="4.5" height="228" fill="url(#f473)"/>
<rect x="127" y="-109" width="4.5" height="218" fill="url(#f474)"/>
<rect x="131" y="-104" width="4.5" height="208" fill="url(#f475)"/>
<rect x="135" y="-99" width="4.5" height="198" fill="url(#f476)"/>
<rect x="139" y="-93" width="4.5" height="186" fill="url(#f477)"/>
<rect x="143" y="-86" width="4.5" height="172" fill="url(#f478)"/>
<rect x="147" y="-79" width="4.5" height="158" fill="url(#f479)"/>
<rect x="151" y="-71" width="4.5" height="142" fill="url(#f480)"/>
<rect x="155" y="-61" width="4.5" height="122" fill="url(#f481)"/>
<rect x="159" y="-48" width="4.5" height="96" fill="url(#f482)"/>
<rect x="163" y="-30" width="4.5" height="60" fill="url(#f483)"/>
<rect x="167" y="-4" width="4.5" height="8" fill="url(#f484)"/></g>
<linearGradient id="f60" gradientUnits="userSpaceOnUse" x1="0" x2="0" y1="-12" y2="12"><stop offset="0" stop-color="#f3f3fe"/><stop offset="0.5" stop-color="#ffffff"/><stop offset="1" stop-color="#fdf8f7"/></linearGradient>
<linearGradient id="f61" gradientUnits="userSpaceOnUse" x1="0" x2="0" y1="-41" y2="41"><stop offset="0" stop-color="#d0d0f9"/><stop offset="0.512" stop-color="#ffffff"/><stop offset="1" stop-color="#f9e3e1"/></linearGradient>
<linearGradient id="f62" gradientUnits="userSpaceOnUse" x1="0" x2="0" y1="-55" y2="55"><stop offset="0" stop-color="#bebef7"/><stop offset="0.518" stop-color="#ffffff"/><stop offset="1" stop-color="#f6d7d3"/></linearGradient>
<linearGradient id="f63" gradientUnits="userSpaceOnUse" x1="0" x2="0" y1="-66" y2="66"><stop offset="0" stop-color="#b1b1f6"/><stop offset="0.523" stop-color="#ffffff"/><stop offset="1" stop-color="#f4ccc7"/></linearGradient>
<linearGradient id="f64" gradientUnits="userSpaceOnUse" x1="0" x2="0" y1="-75" y2="75"><stop offset="0" stop-color="#a8a8f5"/><stop offset="0.167" stop-color="#bebef7"/><stop offset="0.527" stop-color="#ffffff"/><stop offset="1" stop-color="#f2c2bc"/></linearGradient>
<linearGradient id="f65" gradientUnits="userSpaceOnUse" x1="0" x2="0" y1="-83" y2="83"><stop offset="0" stop-color="#a1a1f4"/><stop offset="0.199" stop-color="#bcbcf7"/><stop offset="0.53" stop-color="#ffffff"/><stop offset="1" stop-color="#f0b8b1"/></linearGradient>
<linearGradient id="f66" gradientUnits="userSpaceOnUse" x1="0" x2="0" y1="-90" y2="90"><stop offset="0" stop-color="#9a9af3"/><stop offset="0.222" stop-color="#babaf7"/><stop offset="0.533" stop-color="#ffffff"/><stop offset="1" stop-color="#eeaea7"/></linearGradient>
<linearGradient id="f67" gradientUnits="userSpaceOnUse" x1="0" x2="0" y1="-96" y2="96"><stop offset="0" stop-color="#9494f2"/><stop offset="0.24" stop-color="#b8b8f7"/><stop offset="0.531" stop-color="#ffffff"/><stop offset="1" stop-color="#eca69e"/></linearGradient>
<linearGradient id="f68" gradientUnits="userSpaceOnUse" x1="0" x2="0" y1="-101" y2="101"><stop offset="0" stop-color="#8d8df2"/><stop offset="0.149" stop-color="#a2a2f4"/><stop offset="0.252" stop-color="#b5b5f6"/><stop offset="0.53" stop-color="#ffffff"/><stop offset="1" stop-color="#eba096"/></linearGradient>
<linearGradient id="f69" gradientUnits="userSpaceOnUse" x1="0" x2="0" y1="-107" y2="107"><stop offset="0" stop-color="#8484f1"/><stop offset="0.145" stop-color="#9b9bf3"/><stop offset="0.266" stop-color="#b3b3f6"/><stop offset="0.364" stop-color="#ccccf9"/><stop offset="0.528" stop-color="#ffffff"/><stop offset="0.879" stop-color="#eeafa7"/><stop offset="1" stop-color="#e9988e"/></linearGradient>
<linearGradient id="f610" gradientUnits="userSpaceOnUse" x1="0" x2="0" y1="-112" y2="112"><stop offset="0" stop-color="#7b7bef"/><stop offset="0.161" stop-color="#9797f3"/><stop offset="0.277" stop-color="#b0b0f6"/><stop offset="0.371" stop-color="#cacaf9"/><stop offset="0.527" stop-color="#ffffff"/><stop offset="0.862" stop-color="#edaca4"/><stop offset="1" stop-color="#e89287"/></linearGradient>
<linearGradient id="f611" gradientUnits="userSpaceOnUse" x1="0" x2="0" y1="-116" y2="116"><stop offset="0" stop-color="#7272ee"/><stop offset="0.172" stop-color="#9393f2"/><stop offset="0.289" stop-color="#aeaef5"/><stop offset="0.397" stop-color="#cecef9"/><stop offset="0.526" stop-color="#ffffff"/><stop offset="0.849" stop-color="#eca8a0"/><stop offset="1" stop-color="#e68c81"/></linearGradient>
<linearGradient id="f612" gradientUnits="userSpaceOnUse" x1="0" x2="0" y1="-120" y2="120"><stop offset="0" stop-color="#6969ed"/><stop offset="0.183" stop-color="#8e8ef2"/><stop offset="0.312" stop-color="#afaff6"/><stop offset="0.4" stop-color="#ccccf9"/><stop offset="0.525" stop-color="#ffffff"/><stop offset="0.817" stop-color="#edaaa2"/><stop offset="0.904" stop-color="#e9978c"/><stop offset="1" stop-color="#e5877b"/></linearGradient>
<linearGradient id="f613" gradientUnits="userSpaceOnUse" x1="0" x2="0" y1="-124" y2="124"><stop offset="0" stop-color="#5f5fec"/><stop offset="0.194" stop-color="#8a8af1"/><stop offset="0.319" stop-color="#ababf5"/><stop offset="0.403" stop-color="#c9c9f9"/><stop offset="0.524" stop-color="#ffffff"/><stop offset="0.661" stop-color="#f5d2cd"/><stop offset="0.806" stop-color="#eca79e"/><stop offset="0.891" stop-color="#e89389"/><stop offset="1" stop-color="#e48175"/></linearGradient>
<linearGradient id="f614" gradientUnits="userSpaceOnUse" x1="0" x2="0" y1="-128" y2="128"><stop offset="0" stop-color="#5454eb"/><stop offset="0.203" stop-color="#8484f1"/><stop offset="0.324" stop-color="#a7a7f5"/><stop offset="0.406" stop-color="#c6c6f8"/><stop offset="0.523" stop-color="#fffefe"/><stop offset="0.672" stop-color="#f4cac5"/><stop offset="0.797" stop-color="#eba39a"/><stop offset="0.898" stop-color="#e68c80"/><stop offset="1" stop-color="#e37b6f"/></linearGradient>
<linearGradient id="f615" gradientUnits="userSpaceOnUse" x1="0" x2="0" y1="-131" y2="131"><stop offset="0" stop-color="#4a4aea"/><stop offset="0.21" stop-color="#7e7ef0"/><stop offset="0.328" stop-color="#a3a3f4"/><stop offset="0.408" stop-color="#c4c4f8"/><stop offset="0.523" stop-color="#fffefe"/><stop offset="0.668" stop-color="#f3c7c1"/><stop offset="0.79" stop-color="#eb9f96"/><stop offset="0.889" stop-color="#e6887c"/><stop offset="1" stop-color="#e27669"/></linearGradient>
<linearGradient id="f616" gradientUnits="userSpaceOnUse" x1="0" x2="0" y1="-134" y2="134"><stop offset="0" stop-color="#3e3ee8"/><stop offset="0.194" stop-color="#7171ee"/><stop offset="0.317" stop-color="#9999f3"/><stop offset="0.41" stop-color="#c1c1f8"/><stop offset="0.519" stop-color="#fefeff"/><stop offset="0.664" stop-color="#f2c4be"/><stop offset="0.765" stop-color="#eba198"/><stop offset="0.881" stop-color="#e58478"/><stop offset="1" stop-color="#e17163"/></linearGradient>
<linearGradient id="f617" gradientUnits="userSpaceOnUse" x1="0" x2="0" y1="-137" y2="137"><stop offset="0" stop-color="#3232e7"/><stop offset="0.186" stop-color="#6666ed"/><stop offset="0.318" stop-color="#9393f2"/><stop offset="0.412" stop-color="#bebef7"/><stop offset="0.518" stop-color="#fefeff"/><stop offset="0.682" stop-color="#f0b7b0"/><stop offset="0.759" stop-color="#ea9c93"/><stop offset="0.872" stop-color="#e47f73"/><stop offset="1" stop-color="#df6b5d"/></linearGradient>
<linearGradient id="f618" gradientUnits="userSpaceOnUse" x1="0" x2="0" y1="-140" y2="140"><stop offset="0" stop-color="#2626e5"/><stop offset="0.193" stop-color="#5e5eec"/><stop offset="0.321" stop-color="#8e8ef2"/><stop offset="0.414" stop-color="#bcbcf7"/><stop offset="0.518" stop-color="#fefeff"/><stop offset="0.679" stop-color="#efb3ac"/><stop offset="0.754" stop-color="#e9988e"/><stop offset="0.868" stop-color="#e37a6e"/><stop offset="1" stop-color="#de6657"/></linearGradient>
<linearGradient id="f619" gradientUnits="userSpaceOnUse" x1="0" x2="0" y1="-143" y2="143"><stop offset="0" stop-color="#1a1ae4"/><stop offset="0.196" stop-color="#5555eb"/><stop offset="0.308" stop-color="#8181f0"/><stop offset="0.399" stop-color="#afaff6"/><stop offset="0.517" stop-color="#fefeff"/><stop offset="0.657" stop-color="#efb7b0"/><stop offset="0.71" stop-color="#eba097"/><stop offset="0.857" stop-color="#e2776a"/><stop offset="1" stop-color="#dd6152"/></linearGradient>
<linearGradient id="f620" gradientUnits="userSpaceOnUse" x1="0" x2="0" y1="-145" y2="145"><stop offset="0" stop-color="#1010e3"/><stop offset="0.183" stop-color="#4747e9"/><stop offset="0.29" stop-color="#7272ee"/><stop offset="0.4" stop-color="#acacf5"/><stop offset="0.517" stop-color="#fefeff"/><stop offset="0.652" stop-color="#efb3ac"/><stop offset="0.707" stop-color="#ea9b91"/><stop offset="0.852" stop-color="#e17265"/><stop offset="0.924" stop-color="#de6556"/><stop offset="1" stop-color="#dc5c4d"/></linearGradient>
<linearGradient id="f621" gradientUnits="userSpaceOnUse" x1="0" x2="0" y1="-147" y2="147"><stop offset="0" stop-color="#0808e2"/><stop offset="0.061" stop-color="#1616e4"/><stop offset="0.153" stop-color="#3434e7"/><stop offset="0.279" stop-color="#6565ed"/><stop offset="0.347" stop-color="#8888f1"/><stop offset="0.401" stop-color="#aaaaf5"/><stop offset="0.517" stop-color="#fffefe"/><stop offset="0.636" stop-color="#efb6af"/><stop offset="0.704" stop-color="#e9968c"/><stop offset="0.864" stop-color="#df6b5d"/><stop offset="1" stop-color="#db5848"/></linearGradient>
<linearGradient id="f622" gradientUnits="userSpaceOnUse" x1="0" x2="0" y1="-150" y2="150"><stop offset="0" stop-color="#0000e1"/><stop offset="0.053" stop-color="#0909e2"/><stop offset="0.107" stop-color="#1919e4"/><stop offset="0.21" stop-color="#3d3de8"/><stop offset="0.28" stop-color="#5d5dec"/><stop offset="0.337" stop-color="#7c7cf0"/><stop offset="0.403" stop-color="#a7a7f5"/><stop offset="0.513" stop-color="#fffefe"/><stop offset="0.633" stop-color="#efb2ab"/><stop offset="0.7" stop-color="#e79186"/><stop offset="0.857" stop-color="#de6758"/><stop offset="0.927" stop-color="#dc5b4c"/><stop offset="1" stop-color="#da5444"/></linearGradient>
<linearGradient id="f623" gradientUnits="userSpaceOnUse" x1="0" x2="0" y1="-152" y2="152"><stop offset="0" stop-color="#0000e1"/><stop offset="0.049" stop-color="#0000e1"/><stop offset="0.095" stop-color="#0b0be2"/><stop offset="0.197" stop-color="#2f2fe7"/><stop offset="0.266" stop-color="#4e4eea"/><stop offset="0.319" stop-color="#6c6cee"/><stop offset="0.388" stop-color="#9999f3"/><stop offset="0.438" stop-color="#c0c0f8"/><stop offset="0.51" stop-color="#ffffff"/><stop offset="0.632" stop-color="#eeaea6"/><stop offset="0.701" stop-color="#e68b80"/><stop offset="0.855" stop-color="#de6353"/><stop offset="0.924" stop-color="#db5747"/><stop offset="1" stop-color="#da5140"/></linearGradient>
<linearGradient id="f624" gradientUnits="userSpaceOnUse" x1="0" x2="0" y1="-154" y2="154"><stop offset="0" stop-color="#0000e1"/><stop offset="0.088" stop-color="#0101e1"/><stop offset="0.169" stop-color="#1b1be4"/><stop offset="0.237" stop-color="#3838e8"/><stop offset="0.305" stop-color="#5e5eec"/><stop offset="0.39" stop-color="#9797f3"/><stop offset="0.438" stop-color="#bfbff7"/><stop offset="0.506" stop-color="#ffffff"/><stop offset="0.627" stop-color="#edada5"/><stop offset="0.662" stop-color="#e9978d"/><stop offset="0.698" stop-color="#e5877b"/><stop offset="0.864" stop-color="#dc5c4d"/><stop offset="0.935" stop-color="#da5241"/><stop offset="1" stop-color="#d94d3c"/></linearGradient>
<linearGradient id="f625" gradientUnits="userSpaceOnUse" x1="0" x2="0" y1="-155" y2="155"><stop offset="0" stop-color="#0000e1"/><stop offset="0.113" stop-color="#0000e1"/><stop offset="0.171" stop-color="#1414e3"/><stop offset="0.235" stop-color="#3131e7"/><stop offset="0.306" stop-color="#5a5aec"/><stop offset="0.374" stop-color="#8989f1"/><stop offset="0.426" stop-color="#b2b2f6"/><stop offset="0.503" stop-color="#fdfdff"/><stop offset="0.506" stop-color="#fffefe"/><stop offset="0.629" stop-color="#eca89f"/><stop offset="0.677" stop-color="#e68b80"/><stop offset="0.71" stop-color="#e37e71"/><stop offset="0.865" stop-color="#db5949"/><stop offset="0.932" stop-color="#d94f3e"/><stop offset="1" stop-color="#d84b39"/></linearGradient>
<linearGradient id="f626" gradientUnits="userSpaceOnUse" x1="0" x2="0" y1="-157" y2="157"><stop offset="0" stop-color="#0000e1"/><stop offset="0.14" stop-color="#0000e1"/><stop offset="0.223" stop-color="#2424e5"/><stop offset="0.293" stop-color="#4c4cea"/><stop offset="0.376" stop-color="#8787f1"/><stop offset="0.427" stop-color="#b1b1f6"/><stop offset="0.503" stop-color="#ffffff"/><stop offset="0.624" stop-color="#eca79f"/><stop offset="0.675" stop-color="#e6897d"/><stop offset="0.71" stop-color="#e2796c"/><stop offset="0.86" stop-color="#db5645"/><stop offset="0.927" stop-color="#d94c3b"/><stop offset="1" stop-color="#d84836"/></linearGradient>
<linearGradient id="f627" gradientUnits="userSpaceOnUse" x1="0" x2="0" y1="-159" y2="159"><stop offset="0" stop-color="#0000e1"/><stop offset="0.164" stop-color="#0000e1"/><stop offset="0.211" stop-color="#1616e4"/><stop offset="0.292" stop-color="#4646e9"/><stop offset="0.362" stop-color="#7979ef"/><stop offset="0.425" stop-color="#aeaef5"/><stop offset="0.503" stop-color="#fffefe"/><stop offset="0.623" stop-color="#eca59c"/><stop offset="0.673" stop-color="#e5867a"/><stop offset="0.708" stop-color="#e27669"/><stop offset="0.739" stop-color="#df6c5e"/><stop offset="0.855" stop-color="#da5342"/><stop offset="0.921" stop-color="#d84a38"/><stop offset="1" stop-color="#d74634"/></linearGradient>
<linearGradient id="f628" gradientUnits="userSpaceOnUse" x1="0" x2="0" y1="-160" y2="160"><stop offset="0" stop-color="#0000e1"/><stop offset="0.178" stop-color="#0000e1"/><stop offset="0.197" stop-color="#0909e2"/><stop offset="0.278" stop-color="#3838e8"/><stop offset="0.362" stop-color="#7777ef"/><stop offset="0.428" stop-color="#b0b0f6"/><stop offset="0.5" stop-color="#fefeff"/><stop offset="0.575" stop-color="#f2c4be"/><stop offset="0.625" stop-color="#eba197"/><stop offset="0.672" stop-color="#e58478"/><stop offset="0.719" stop-color="#e06f61"/><stop offset="0.756" stop-color="#de6455"/><stop offset="0.869" stop-color="#d94e3d"/><stop offset="0.934" stop-color="#d74634"/><stop offset="1" stop-color="#d74432"/></linearGradient>
<linearGradient id="f629" gradientUnits="userSpaceOnUse" x1="0" x2="0" y1="-161" y2="161"><stop offset="0" stop-color="#0000e1"/><stop offset="0.196" stop-color="#0101e1"/><stop offset="0.28" stop-color="#3535e7"/><stop offset="0.36" stop-color="#7272ee"/><stop offset="0.425" stop-color="#adadf5"/><stop offset="0.5" stop-color="#ffffff"/><stop offset="0.575" stop-color="#f2c2bc"/><stop offset="0.637" stop-color="#e9968c"/><stop offset="0.674" stop-color="#e48175"/><stop offset="0.72" stop-color="#e06c5e"/><stop offset="0.77" stop-color="#dd5e4e"/><stop offset="0.866" stop-color="#d94b3a"/><stop offset="0.932" stop-color="#d74432"/><stop offset="1" stop-color="#d74432"/></linearGradient>
<linearGradient id="f630" gradientUnits="userSpaceOnUse" x1="0" x2="0" y1="-162" y2="162"><stop offset="0" stop-color="#0000e1"/><stop offset="0.207" stop-color="#0101e1"/><stop offset="0.281" stop-color="#3131e7"/><stop offset="0.364" stop-color="#7373ef"/><stop offset="0.426" stop-color="#acacf5"/><stop offset="0.497" stop-color="#fdfdff"/><stop offset="0.5" stop-color="#fffefd"/><stop offset="0.571" stop-color="#f2c3be"/><stop offset="0.636" stop-color="#e8958b"/><stop offset="0.67" stop-color="#e48175"/><stop offset="0.719" stop-color="#df6b5d"/><stop offset="0.781" stop-color="#dc5949"/><stop offset="0.88" stop-color="#d84736"/><stop offset="0.91" stop-color="#d74432"/><stop offset="1" stop-color="#d74432"/></linearGradient>
<linearGradient id="f631" gradientUnits="userSpaceOnUse" x1="0" x2="0" y1="-164" y2="164"><stop offset="0" stop-color="#0000e1"/><stop offset="0.22" stop-color="#0101e1"/><stop offset="0.299" stop-color="#3a3ae8"/><stop offset="0.378" stop-color="#7d7df0"/><stop offset="0.43" stop-color="#b0b0f6"/><stop offset="0.497" stop-color="#ffffff"/><stop offset="0.558" stop-color="#f4ccc7"/><stop offset="0.622" stop-color="#ea9c92"/><stop offset="0.668" stop-color="#e48073"/><stop offset="0.716" stop-color="#df6a5b"/><stop offset="0.78" stop-color="#db5747"/><stop offset="0.875" stop-color="#d74634"/><stop offset="1" stop-color="#d74432"/></linearGradient>
<linearGradient id="f632" gradientUnits="userSpaceOnUse" x1="0" x2="0" y1="-165" y2="165"><stop offset="0" stop-color="#0000e1"/><stop offset="0.227" stop-color="#0101e1"/><stop offset="0.303" stop-color="#3939e8"/><stop offset="0.379" stop-color="#7c7cf0"/><stop offset="0.427" stop-color="#acacf5"/><stop offset="0.497" stop-color="#fffefe"/><stop offset="0.555" stop-color="#f4cdc8"/><stop offset="0.621" stop-color="#e99a90"/><stop offset="0.667" stop-color="#e47f72"/><stop offset="0.715" stop-color="#df695a"/><stop offset="0.794" stop-color="#da5242"/><stop offset="0.873" stop-color="#d74432"/><stop offset="1" stop-color="#d74432"/></linearGradient>
<linearGradient id="f633" gradientUnits="userSpaceOnUse" x1="0" x2="0" y1="-165" y2="165"><stop offset="0" stop-color="#0000e1"/><stop offset="0.233" stop-color="#0000e1"/><stop offset="0.303" stop-color="#3636e7"/><stop offset="0.382" stop-color="#7e7ef0"/><stop offset="0.43" stop-color="#b0b0f6"/><stop offset="0.494" stop-color="#fefeff"/><stop offset="0.621" stop-color="#e9998f"/><stop offset="0.667" stop-color="#e37e71"/><stop offset="0.715" stop-color="#df685a"/><stop offset="0.794" stop-color="#da5140"/><stop offset="0.867" stop-color="#d74432"/><stop offset="1" stop-color="#d74432"/></linearGradient>
<linearGradient id="f634" gradientUnits="userSpaceOnUse" x1="0" x2="0" y1="-166" y2="166"><stop offset="0" stop-color="#0000e1"/><stop offset="0.241" stop-color="#0000e1"/><stop offset="0.304" stop-color="#3333e7"/><stop offset="0.383" stop-color="#7d7df0"/><stop offset="0.428" stop-color="#adadf5"/><stop offset="0.494" stop-color="#ffffff"/><stop offset="0.572" stop-color="#f1bdb6"/><stop offset="0.617" stop-color="#e99a91"/><stop offset="0.666" stop-color="#e37d70"/><stop offset="0.714" stop-color="#df6859"/><stop offset="0.792" stop-color="#da503f"/><stop offset="0.858" stop-color="#d74432"/><stop offset="1" stop-color="#d74432"/></linearGradient>
<linearGradient id="f635" gradientUnits="userSpaceOnUse" x1="0" x2="0" y1="-167" y2="167"><stop offset="0" stop-color="#0000e1"/><stop offset="0.249" stop-color="#0101e1"/><stop offset="0.305" stop-color="#3131e7"/><stop offset="0.383" stop-color="#7c7cf0"/><stop offset="0.428" stop-color="#adadf5"/><stop offset="0.494" stop-color="#ffffff"/><stop offset="0.569" stop-color="#f1beb8"/><stop offset="0.617" stop-color="#e99990"/><stop offset="0.665" stop-color="#e37c70"/><stop offset="0.713" stop-color="#df6759"/><stop offset="0.775" stop-color="#da5342"/><stop offset="0.85" stop-color="#d74432"/><stop offset="1" stop-color="#d74432"/></linearGradient>
<linearGradient id="f636" gradientUnits="userSpaceOnUse" x1="0" x2="0" y1="-167" y2="167"><stop offset="0" stop-color="#0000e1"/><stop offset="0.251" stop-color="#0000e1"/><stop offset="0.305" stop-color="#2e2ee6"/><stop offset="0.383" stop-color="#7b7bf0"/><stop offset="0.428" stop-color="#adadf5"/><stop offset="0.494" stop-color="#fffefe"/><stop offset="0.569" stop-color="#f1bdb7"/><stop offset="0.62" stop-color="#e9978d"/><stop offset="0.665" stop-color="#e37c6f"/><stop offset="0.728" stop-color="#dd6152"/><stop offset="0.775" stop-color="#da5241"/><stop offset="0.847" stop-color="#d74432"/><stop offset="1" stop-color="#d74432"/></linearGradient>
<linearGradient id="f637" gradientUnits="userSpaceOnUse" x1="0" x2="0" y1="-168" y2="168"><stop offset="0" stop-color="#0000e1"/><stop offset="0.259" stop-color="#0101e1"/><stop offset="0.318" stop-color="#3737e7"/><stop offset="0.381" stop-color="#7878ef"/><stop offset="0.414" stop-color="#9c9cf3"/><stop offset="0.494" stop-color="#fffefe"/><stop offset="0.568" stop-color="#f1bdb6"/><stop offset="0.616" stop-color="#e9988e"/><stop offset="0.664" stop-color="#e37b6f"/><stop offset="0.726" stop-color="#dd6051"/><stop offset="0.774" stop-color="#da5140"/><stop offset="0.845" stop-color="#d74432"/><stop offset="1" stop-color="#d74432"/></linearGradient>
<linearGradient id="f638" gradientUnits="userSpaceOnUse" x1="0" x2="0" y1="-168" y2="168"><stop offset="0" stop-color="#0000e1"/><stop offset="0.262" stop-color="#0101e1"/><stop offset="0.318" stop-color="#3535e7"/><stop offset="0.369" stop-color="#6a6aed"/><stop offset="0.414" stop-color="#9c9cf3"/><stop offset="0.491" stop-color="#fdfdff"/><stop offset="0.494" stop-color="#fffefe"/><stop offset="0.557" stop-color="#f3c6c0"/><stop offset="0.616" stop-color="#e9988e"/><stop offset="0.664" stop-color="#e37b6e"/><stop offset="0.726" stop-color="#dd5f50"/><stop offset="0.774" stop-color="#da5040"/><stop offset="0.842" stop-color="#d74432"/><stop offset="1" stop-color="#d74432"/></linearGradient>
<linearGradient id="f639" gradientUnits="userSpaceOnUse" x1="0" x2="0" y1="-168" y2="168"><stop offset="0" stop-color="#0000e1"/><stop offset="0.265" stop-color="#0101e1"/><stop offset="0.318" stop-color="#3333e7"/><stop offset="0.369" stop-color="#6969ed"/><stop offset="0.414" stop-color="#9c9cf3"/><stop offset="0.491" stop-color="#fefeff"/><stop offset="0.568" stop-color="#f1bbb5"/><stop offset="0.616" stop-color="#e9978d"/><stop offset="0.664" stop-color="#e37a6e"/><stop offset="0.726" stop-color="#dd5e4f"/><stop offset="0.774" stop-color="#da503f"/><stop offset="0.842" stop-color="#d74432"/><stop offset="1" stop-color="#d74432"/></linearGradient>
<linearGradient id="f640" gradientUnits="userSpaceOnUse" x1="0" x2="0" y1="-169" y2="169"><stop offset="0" stop-color="#0000e1"/><stop offset="0.269" stop-color="#0101e1"/><stop offset="0.32" stop-color="#3232e7"/><stop offset="0.37" stop-color="#6868ed"/><stop offset="0.414" stop-color="#9d9df3"/><stop offset="0.491" stop-color="#ffffff"/><stop offset="0.556" stop-color="#f3c5bf"/><stop offset="0.615" stop-color="#e9978d"/><stop offset="0.663" stop-color="#e27a6d"/><stop offset="0.725" stop-color="#dd5e4e"/><stop offset="0.772" stop-color="#da503f"/><stop offset="0.843" stop-color="#d74432"/><stop offset="1" stop-color="#d74432"/></linearGradient>
<linearGradient id="f641" gradientUnits="userSpaceOnUse" x1="0" x2="0" y1="-169" y2="169"><stop offset="0" stop-color="#0000e1"/><stop offset="0.269" stop-color="#0000e1"/><stop offset="0.32" stop-color="#3030e7"/><stop offset="0.367" stop-color="#6464ed"/><stop offset="0.491" stop-color="#ffffff"/><stop offset="0.556" stop-color="#f2c4bf"/><stop offset="0.615" stop-color="#e9968c"/><stop offset="0.663" stop-color="#e2796c"/><stop offset="0.725" stop-color="#dc5e4e"/><stop offset="0.772" stop-color="#da503f"/><stop offset="0.843" stop-color="#d74432"/><stop offset="1" stop-color="#d74432"/></linearGradient>
<linearGradient id="f642" gradientUnits="userSpaceOnUse" x1="0" x2="0" y1="-169" y2="169"><stop offset="0" stop-color="#0000e1"/><stop offset="0.272" stop-color="#0101e1"/><stop offset="0.32" stop-color="#2f2fe7"/><stop offset="0.367" stop-color="#6464ed"/><stop offset="0.491" stop-color="#fffefe"/><stop offset="0.556" stop-color="#f2c4be"/><stop offset="0.615" stop-color="#e8958b"/><stop offset="0.663" stop-color="#e2786c"/><stop offset="0.725" stop-color="#dc5d4e"/><stop offset="0.787" stop-color="#d94d3c"/><stop offset="0.849" stop-color="#d74432"/><stop offset="1" stop-color="#d74432"/></linearGradient>
<linearGradient id="f643" gradientUnits="userSpaceOnUse" x1="0" x2="0" y1="-169" y2="169"><stop offset="0" stop-color="#0000e1"/><stop offset="0.272" stop-color="#0101e1"/><stop offset="0.355" stop-color="#5656eb"/><stop offset="0.491" stop-color="#fffefe"/><stop offset="0.556" stop-color="#f2c3bd"/><stop offset="0.615" stop-color="#e8958a"/><stop offset="0.663" stop-color="#e2786b"/><stop offset="0.71" stop-color="#de6354"/><stop offset="0.772" stop-color="#da503f"/><stop offset="0.834" stop-color="#d74634"/><stop offset="1" stop-color="#d74432"/></linearGradient>
<linearGradient id="f644" gradientUnits="userSpaceOnUse" x1="0" x2="0" y1="-169" y2="169"><stop offset="0" stop-color="#0000e1"/><stop offset="0.272" stop-color="#0000e1"/><stop offset="0.308" stop-color="#2323e5"/><stop offset="0.355" stop-color="#5757eb"/><stop offset="0.414" stop-color="#9e9ef4"/><stop offset="0.488" stop-color="#fdfdff"/><stop offset="0.491" stop-color="#fffdfd"/><stop offset="0.568" stop-color="#f0b8b1"/><stop offset="0.615" stop-color="#e89489"/><stop offset="0.663" stop-color="#e2776a"/><stop offset="0.71" stop-color="#de6354"/><stop offset="0.772" stop-color="#da503f"/><stop offset="0.834" stop-color="#d84735"/><stop offset="1" stop-color="#d74432"/></linearGradient>
<linearGradient id="f645" gradientUnits="userSpaceOnUse" x1="0" x2="0" y1="-168" y2="168"><stop offset="0" stop-color="#0000e1"/><stop offset="0.271" stop-color="#0101e1"/><stop offset="0.307" stop-color="#2323e5"/><stop offset="0.354" stop-color="#5858eb"/><stop offset="0.414" stop-color="#9e9ef4"/><stop offset="0.488" stop-color="#fefeff"/><stop offset="0.568" stop-color="#f0b7b1"/><stop offset="0.616" stop-color="#e89388"/><stop offset="0.664" stop-color="#e27669"/><stop offset="0.711" stop-color="#de6354"/><stop offset="0.774" stop-color="#da5140"/><stop offset="0.836" stop-color="#d84735"/><stop offset="0.878" stop-color="#d74432"/><stop offset="1" stop-color="#d74432"/></linearGradient>
<linearGradient id="f646" gradientUnits="userSpaceOnUse" x1="0" x2="0" y1="-168" y2="168"><stop offset="0" stop-color="#0000e1"/><stop offset="0.268" stop-color="#0000e1"/><stop offset="0.318" stop-color="#3131e7"/><stop offset="0.384" stop-color="#7c7cf0"/><stop offset="0.429" stop-color="#b1b1f6"/><stop offset="0.488" stop-color="#ffffff"/><stop offset="0.554" stop-color="#f2c3be"/><stop offset="0.604" stop-color="#e99a91"/><stop offset="0.649" stop-color="#e37d70"/><stop offset="0.696" stop-color="#df6759"/><stop offset="0.759" stop-color="#da5444"/><stop offset="0.821" stop-color="#d84938"/><stop offset="0.899" stop-color="#d74432"/><stop offset="1" stop-color="#d74432"/></linearGradient>
<linearGradient id="f647" gradientUnits="userSpaceOnUse" x1="0" x2="0" y1="-168" y2="168"><stop offset="0" stop-color="#0000e1"/><stop offset="0.268" stop-color="#0101e1"/><stop offset="0.321" stop-color="#3737e7"/><stop offset="0.414" stop-color="#9f9ff4"/><stop offset="0.488" stop-color="#fffefe"/><stop offset="0.554" stop-color="#f2c3bd"/><stop offset="0.604" stop-color="#e9998f"/><stop offset="0.649" stop-color="#e37c6f"/><stop offset="0.693" stop-color="#df6759"/><stop offset="0.759" stop-color="#db5544"/><stop offset="0.818" stop-color="#d84a39"/><stop offset="0.899" stop-color="#d74533"/><stop offset="1" stop-color="#d74432"/></linearGradient>
<linearGradient id="f648" gradientUnits="userSpaceOnUse" x1="0" x2="0" y1="-167" y2="167"><stop offset="0" stop-color="#0000e1"/><stop offset="0.263" stop-color="#0000e1"/><stop offset="0.317" stop-color="#3636e7"/><stop offset="0.413" stop-color="#9f9ff4"/><stop offset="0.485" stop-color="#fdfdff"/><stop offset="0.488" stop-color="#fffefd"/><stop offset="0.554" stop-color="#f2c2bc"/><stop offset="0.605" stop-color="#e9988f"/><stop offset="0.65" stop-color="#e37b6e"/><stop offset="0.695" stop-color="#de6658"/><stop offset="0.757" stop-color="#db5545"/><stop offset="0.82" stop-color="#d94b3a"/><stop offset="1" stop-color="#d74432"/></linearGradient>
<linearGradient id="f649" gradientUnits="userSpaceOnUse" x1="0" x2="0" y1="-166" y2="166"><stop offset="0" stop-color="#0000e1"/><stop offset="0.259" stop-color="#0000e1"/><stop offset="0.319" stop-color="#3c3ce8"/><stop offset="0.413" stop-color="#a0a0f4"/><stop offset="0.485" stop-color="#fdfdff"/><stop offset="0.488" stop-color="#fffdfd"/><stop offset="0.569" stop-color="#efb5ad"/><stop offset="0.617" stop-color="#e78f84"/><stop offset="0.651" stop-color="#e37a6d"/><stop offset="0.696" stop-color="#de6557"/><stop offset="0.747" stop-color="#db5848"/><stop offset="0.822" stop-color="#d94c3b"/><stop offset="1" stop-color="#d74432"/></linearGradient>
<linearGradient id="f650" gradientUnits="userSpaceOnUse" x1="0" x2="0" y1="-166" y2="166"><stop offset="0" stop-color="#0000e1"/><stop offset="0.256" stop-color="#0101e1"/><stop offset="0.331" stop-color="#4a4aea"/><stop offset="0.413" stop-color="#a1a1f4"/><stop offset="0.485" stop-color="#fdfdff"/><stop offset="0.554" stop-color="#f2c1bb"/><stop offset="0.617" stop-color="#e78e84"/><stop offset="0.651" stop-color="#e2796c"/><stop offset="0.696" stop-color="#de6556"/><stop offset="0.744" stop-color="#db5747"/><stop offset="0.822" stop-color="#d94c3b"/><stop offset="1" stop-color="#d74432"/></linearGradient>
<linearGradient id="f651" gradientUnits="userSpaceOnUse" x1="0" x2="0" y1="-165" y2="165"><stop offset="0" stop-color="#0000e1"/><stop offset="0.248" stop-color="#0000e1"/><stop offset="0.318" stop-color="#4141e9"/><stop offset="0.412" stop-color="#a2a2f4"/><stop offset="0.445" stop-color="#c9c9f9"/><stop offset="0.485" stop-color="#fdfdff"/><stop offset="0.488" stop-color="#fffdfd"/><stop offset="0.555" stop-color="#f2c0ba"/><stop offset="0.618" stop-color="#e78e83"/><stop offset="0.652" stop-color="#e2796c"/><stop offset="0.697" stop-color="#de6455"/><stop offset="0.745" stop-color="#db5747"/><stop offset="0.794" stop-color="#da503f"/><stop offset="0.891" stop-color="#d84837"/><stop offset="1" stop-color="#d74533"/></linearGradient>
<linearGradient id="f652" gradientUnits="userSpaceOnUse" x1="0" x2="0" y1="-164" y2="164"><stop offset="0" stop-color="#0000e1"/><stop offset="0.241" stop-color="#0000e1"/><stop offset="0.317" stop-color="#4444e9"/><stop offset="0.412" stop-color="#a3a3f4"/><stop offset="0.445" stop-color="#cacaf9"/><stop offset="0.485" stop-color="#fdfdff"/><stop offset="0.488" stop-color="#fffdfd"/><stop offset="0.555" stop-color="#f2c0ba"/><stop offset="0.619" stop-color="#e78e83"/><stop offset="0.652" stop-color="#e2786b"/><stop offset="0.701" stop-color="#dd6253"/><stop offset="0.732" stop-color="#dc5949"/><stop offset="0.78" stop-color="#da5241"/><stop offset="0.893" stop-color="#d84937"/><stop offset="1" stop-color="#d74634"/></linearGradient>
<linearGradient id="f653" gradientUnits="userSpaceOnUse" x1="0" x2="0" y1="-163" y2="163"><stop offset="0" stop-color="#0000e1"/><stop offset="0.233" stop-color="#0000e1"/><stop offset="0.301" stop-color="#3939e8"/><stop offset="0.38" stop-color="#8585f1"/><stop offset="0.426" stop-color="#b5b5f6"/><stop offset="0.485" stop-color="#fdfdff"/><stop offset="0.488" stop-color="#fffdfd"/><stop offset="0.555" stop-color="#f2c0ba"/><stop offset="0.62" stop-color="#e78e83"/><stop offset="0.653" stop-color="#e2786b"/><stop offset="0.702" stop-color="#dd6253"/><stop offset="0.767" stop-color="#da5444"/><stop offset="0.893" stop-color="#d84a39"/><stop offset="1" stop-color="#d84735"/></linearGradient>
<linearGradient id="f654" gradientUnits="userSpaceOnUse" x1="0" x2="0" y1="-162" y2="162"><stop offset="0" stop-color="#0000e1"/><stop offset="0.225" stop-color="#0101e1"/><stop offset="0.296" stop-color="#3a3ae8"/><stop offset="0.364" stop-color="#7878ef"/><stop offset="0.426" stop-color="#b6b6f6"/><stop offset="0.485" stop-color="#fdfdff"/><stop offset="0.488" stop-color="#fffdfd"/><stop offset="0.556" stop-color="#f2c0ba"/><stop offset="0.605" stop-color="#e99990"/><stop offset="0.654" stop-color="#e2796c"/><stop offset="0.701" stop-color="#de6354"/><stop offset="0.75" stop-color="#db5747"/><stop offset="0.833" stop-color="#d94f3f"/><stop offset="1" stop-color="#d84836"/></linearGradient>
<linearGradient id="f655" gradientUnits="userSpaceOnUse" x1="0" x2="0" y1="-161" y2="161"><stop offset="0" stop-color="#0000e1"/><stop offset="0.214" stop-color="#0101e1"/><stop offset="0.283" stop-color="#3434e7"/><stop offset="0.36" stop-color="#7878ef"/><stop offset="0.425" stop-color="#b7b7f7"/><stop offset="0.484" stop-color="#fefeff"/><stop offset="0.556" stop-color="#f2c1bb"/><stop offset="0.606" stop-color="#e99a90"/><stop offset="0.655" stop-color="#e2796c"/><stop offset="0.702" stop-color="#de6455"/><stop offset="0.736" stop-color="#dc5b4b"/><stop offset="0.835" stop-color="#da5040"/><stop offset="1" stop-color="#d84937"/></linearGradient>
<linearGradient id="f656" gradientUnits="userSpaceOnUse" x1="0" x2="0" y1="-159" y2="159"><stop offset="0" stop-color="#0000e1"/><stop offset="0.201" stop-color="#0202e1"/><stop offset="0.277" stop-color="#3636e7"/><stop offset="0.343" stop-color="#6d6dee"/><stop offset="0.425" stop-color="#b9b9f7"/><stop offset="0.484" stop-color="#fefeff"/><stop offset="0.557" stop-color="#f2c2bc"/><stop offset="0.607" stop-color="#ea9b91"/><stop offset="0.657" stop-color="#e37a6d"/><stop offset="0.704" stop-color="#de6556"/><stop offset="0.739" stop-color="#dc5d4e"/><stop offset="0.852" stop-color="#da5040"/><stop offset="1" stop-color="#d84a39"/></linearGradient>
<linearGradient id="f657" gradientUnits="userSpaceOnUse" x1="0" x2="0" y1="-158" y2="158"><stop offset="0" stop-color="#0000e1"/><stop offset="0.187" stop-color="#0202e1"/><stop offset="0.259" stop-color="#2f2fe7"/><stop offset="0.342" stop-color="#7070ee"/><stop offset="0.424" stop-color="#bbbbf7"/><stop offset="0.484" stop-color="#fefeff"/><stop offset="0.608" stop-color="#ea9c92"/><stop offset="0.658" stop-color="#e37b6f"/><stop offset="0.693" stop-color="#df6b5d"/><stop offset="0.725" stop-color="#de6253"/><stop offset="0.842" stop-color="#da5342"/><stop offset="1" stop-color="#d94c3a"/></linearGradient>
<linearGradient id="f658" gradientUnits="userSpaceOnUse" x1="0" x2="0" y1="-156" y2="156"><stop offset="0" stop-color="#0000e1"/><stop offset="0.163" stop-color="#0000e1"/><stop offset="0.189" stop-color="#0d0de3"/><stop offset="0.256" stop-color="#3535e7"/><stop offset="0.34" stop-color="#7474ef"/><stop offset="0.423" stop-color="#bdbdf7"/><stop offset="0.484" stop-color="#fefeff"/><stop offset="0.609" stop-color="#ea9e95"/><stop offset="0.66" stop-color="#e37d71"/><stop offset="0.692" stop-color="#e06e60"/><stop offset="0.724" stop-color="#de6658"/><stop offset="0.846" stop-color="#da5444"/><stop offset="1" stop-color="#d94d3c"/></linearGradient>
<linearGradient id="f659" gradientUnits="userSpaceOnUse" x1="0" x2="0" y1="-155" y2="155"><stop offset="0" stop-color="#0000e1"/><stop offset="0.135" stop-color="#0000e1"/><stop offset="0.203" stop-color="#1e1ee5"/><stop offset="0.271" stop-color="#4747e9"/><stop offset="0.342" stop-color="#7b7bef"/><stop offset="0.423" stop-color="#bfbff7"/><stop offset="0.484" stop-color="#fefeff"/><stop offset="0.613" stop-color="#ea9e95"/><stop offset="0.661" stop-color="#e48074"/><stop offset="0.694" stop-color="#e17164"/><stop offset="0.848" stop-color="#db5646"/><stop offset="1" stop-color="#d94f3e"/></linearGradient>
<linearGradient id="f660" gradientUnits="userSpaceOnUse" x1="0" x2="0" y1="-153" y2="153"><stop offset="0" stop-color="#0000e1"/><stop offset="0.105" stop-color="#0000e1"/><stop offset="0.219" stop-color="#3232e7"/><stop offset="0.284" stop-color="#5959eb"/><stop offset="0.353" stop-color="#8a8af1"/><stop offset="0.422" stop-color="#c2c2f8"/><stop offset="0.484" stop-color="#fefeff"/><stop offset="0.627" stop-color="#e9988f"/><stop offset="0.663" stop-color="#e58377"/><stop offset="0.696" stop-color="#e27568"/><stop offset="0.85" stop-color="#db5848"/><stop offset="1" stop-color="#da503f"/></linearGradient>
<linearGradient id="f661" gradientUnits="userSpaceOnUse" x1="0" x2="0" y1="-151" y2="151"><stop offset="0" stop-color="#0000e1"/><stop offset="0.073" stop-color="#0101e1"/><stop offset="0.248" stop-color="#4e4eea"/><stop offset="0.301" stop-color="#6d6dee"/><stop offset="0.371" stop-color="#9d9df4"/><stop offset="0.421" stop-color="#c4c4f8"/><stop offset="0.487" stop-color="#fffefe"/><stop offset="0.629" stop-color="#ea9c92"/><stop offset="0.666" stop-color="#e5877b"/><stop offset="0.699" stop-color="#e2796d"/><stop offset="0.854" stop-color="#dc5a4a"/><stop offset="1" stop-color="#da5241"/></linearGradient>
<linearGradient id="f662" gradientUnits="userSpaceOnUse" x1="0" x2="0" y1="-149" y2="149"><stop offset="0" stop-color="#0000e1"/><stop offset="0.034" stop-color="#0000e1"/><stop offset="0.05" stop-color="#0606e2"/><stop offset="0.208" stop-color="#4848e9"/><stop offset="0.262" stop-color="#6262ed"/><stop offset="0.386" stop-color="#aeaef6"/><stop offset="0.487" stop-color="#ffffff"/><stop offset="0.634" stop-color="#ea9e95"/><stop offset="0.668" stop-color="#e68b80"/><stop offset="0.701" stop-color="#e37e71"/><stop offset="0.846" stop-color="#dd5e4e"/><stop offset="0.913" stop-color="#db5646"/><stop offset="1" stop-color="#da5443"/></linearGradient>
<linearGradient id="f663" gradientUnits="userSpaceOnUse" x1="0" x2="0" y1="-146" y2="146"><stop offset="0" stop-color="#0505e2"/><stop offset="0.205" stop-color="#5656eb"/><stop offset="0.291" stop-color="#7e7ef0"/><stop offset="0.401" stop-color="#bebef7"/><stop offset="0.483" stop-color="#fefeff"/><stop offset="0.651" stop-color="#ea9b91"/><stop offset="0.705" stop-color="#e48377"/><stop offset="0.795" stop-color="#df6b5d"/><stop offset="0.849" stop-color="#dd6151"/><stop offset="0.921" stop-color="#db5848"/><stop offset="1" stop-color="#db5545"/></linearGradient>
<linearGradient id="f664" gradientUnits="userSpaceOnUse" x1="0" x2="0" y1="-144" y2="144"><stop offset="0" stop-color="#1414e3"/><stop offset="0.219" stop-color="#6a6aed"/><stop offset="0.326" stop-color="#9a9af3"/><stop offset="0.399" stop-color="#c2c2f8"/><stop offset="0.483" stop-color="#ffffff"/><stop offset="0.653" stop-color="#eb9f96"/><stop offset="0.708" stop-color="#e5877c"/><stop offset="0.781" stop-color="#e17264"/><stop offset="0.854" stop-color="#de6354"/><stop offset="0.927" stop-color="#dc5a4a"/><stop offset="1" stop-color="#db5747"/></linearGradient>
<linearGradient id="f665" gradientUnits="userSpaceOnUse" x1="0" x2="0" y1="-141" y2="141"><stop offset="0" stop-color="#2626e5"/><stop offset="0.099" stop-color="#4e4eea"/><stop offset="0.248" stop-color="#8383f0"/><stop offset="0.34" stop-color="#a9a9f5"/><stop offset="0.397" stop-color="#c6c6f8"/><stop offset="0.479" stop-color="#fefeff"/><stop offset="0.66" stop-color="#eba299"/><stop offset="0.734" stop-color="#e58479"/><stop offset="0.791" stop-color="#e17467"/><stop offset="0.862" stop-color="#de6657"/><stop offset="0.936" stop-color="#dc5c4d"/><stop offset="1" stop-color="#db5949"/></linearGradient>
<linearGradient id="f666" gradientUnits="userSpaceOnUse" x1="0" x2="0" y1="-139" y2="139"><stop offset="0" stop-color="#3838e8"/><stop offset="0.094" stop-color="#5c5cec"/><stop offset="0.338" stop-color="#aeaef6"/><stop offset="0.396" stop-color="#cacaf9"/><stop offset="0.478" stop-color="#ffffff"/><stop offset="0.64" stop-color="#eeaea6"/><stop offset="0.752" stop-color="#e58377"/><stop offset="0.867" stop-color="#df685a"/><stop offset="1" stop-color="#dc5b4b"/></linearGradient>
<linearGradient id="f667" gradientUnits="userSpaceOnUse" x1="0" x2="0" y1="-136" y2="136"><stop offset="0" stop-color="#4b4bea"/><stop offset="0.085" stop-color="#6969ed"/><stop offset="0.335" stop-color="#b4b4f6"/><stop offset="0.393" stop-color="#cecef9"/><stop offset="0.478" stop-color="#fffefe"/><stop offset="0.643" stop-color="#eeb1a9"/><stop offset="0.757" stop-color="#e5877b"/><stop offset="0.875" stop-color="#df6b5d"/><stop offset="1" stop-color="#dc5d4e"/></linearGradient>
<linearGradient id="f668" gradientUnits="userSpaceOnUse" x1="0" x2="0" y1="-133" y2="133"><stop offset="0" stop-color="#5e5eec"/><stop offset="0.075" stop-color="#7575ef"/><stop offset="0.331" stop-color="#babaf7"/><stop offset="0.391" stop-color="#d2d2fa"/><stop offset="0.474" stop-color="#ffffff"/><stop offset="0.647" stop-color="#efb3ac"/><stop offset="0.767" stop-color="#e6897e"/><stop offset="0.883" stop-color="#e06e60"/><stop offset="1" stop-color="#dd6051"/></linearGradient>
<linearGradient id="f669" gradientUnits="userSpaceOnUse" x1="0" x2="0" y1="-129" y2="129"><stop offset="0" stop-color="#7070ee"/><stop offset="0.326" stop-color="#c0c0f8"/><stop offset="0.388" stop-color="#d6d6fa"/><stop offset="0.469" stop-color="#fefeff"/><stop offset="0.651" stop-color="#efb6af"/><stop offset="0.775" stop-color="#e78d82"/><stop offset="0.876" stop-color="#e17568"/><stop offset="1" stop-color="#de6455"/></linearGradient>
<linearGradient id="f670" gradientUnits="userSpaceOnUse" x1="0" x2="0" y1="-126" y2="126"><stop offset="0" stop-color="#7e7ef0"/><stop offset="0.321" stop-color="#c5c5f8"/><stop offset="0.385" stop-color="#dadafb"/><stop offset="0.468" stop-color="#fffefe"/><stop offset="0.655" stop-color="#f0b8b1"/><stop offset="0.782" stop-color="#e79085"/><stop offset="0.885" stop-color="#e2786b"/><stop offset="1" stop-color="#df6859"/></linearGradient>
<linearGradient id="f671" gradientUnits="userSpaceOnUse" x1="0" x2="0" y1="-122" y2="122"><stop offset="0" stop-color="#8c8cf2"/><stop offset="0.295" stop-color="#c5c5f8"/><stop offset="0.381" stop-color="#dedefb"/><stop offset="0.463" stop-color="#ffffff"/><stop offset="0.664" stop-color="#f0b8b2"/><stop offset="0.791" stop-color="#e89389"/><stop offset="0.898" stop-color="#e37b6e"/><stop offset="1" stop-color="#e06c5e"/></linearGradient>
<linearGradient id="f672" gradientUnits="userSpaceOnUse" x1="0" x2="0" y1="-118" y2="118"><stop offset="0" stop-color="#9a9af3"/><stop offset="0.288" stop-color="#c9c9f9"/><stop offset="0.377" stop-color="#e1e1fb"/><stop offset="0.458" stop-color="#ffffff"/><stop offset="0.669" stop-color="#f0bab4"/><stop offset="0.822" stop-color="#e79186"/><stop offset="0.911" stop-color="#e37e71"/><stop offset="1" stop-color="#e17163"/></linearGradient>
<linearGradient id="f673" gradientUnits="userSpaceOnUse" x1="0" x2="0" y1="-114" y2="114"><stop offset="0" stop-color="#a5a5f4"/><stop offset="0.189" stop-color="#bdbdf7"/><stop offset="0.281" stop-color="#ccccf9"/><stop offset="0.351" stop-color="#ddddfb"/><stop offset="0.452" stop-color="#ffffff"/><stop offset="0.671" stop-color="#f1bdb7"/><stop offset="0.833" stop-color="#e89489"/><stop offset="0.904" stop-color="#e58579"/><stop offset="1" stop-color="#e27669"/></linearGradient>
<linearGradient id="f674" gradientUnits="userSpaceOnUse" x1="0" x2="0" y1="-109" y2="109"><stop offset="0" stop-color="#b0b0f6"/><stop offset="0.248" stop-color="#cbcbf9"/><stop offset="0.339" stop-color="#dfdffb"/><stop offset="0.445" stop-color="#fffefe"/><stop offset="0.706" stop-color="#f0b8b1"/><stop offset="0.894" stop-color="#e78d82"/><stop offset="1" stop-color="#e37b6e"/></linearGradient>
<linearGradient id="f675" gradientUnits="userSpaceOnUse" x1="0" x2="0" y1="-104" y2="104"><stop offset="0" stop-color="#b8b8f7"/><stop offset="0.159" stop-color="#c4c4f8"/><stop offset="0.26" stop-color="#d2d2fa"/><stop offset="0.312" stop-color="#ddddfb"/><stop offset="0.433" stop-color="#ffffff"/><stop offset="0.692" stop-color="#f1bfb9"/><stop offset="0.913" stop-color="#e78f84"/><stop offset="1" stop-color="#e48175"/></linearGradient>
<linearGradient id="f676" gradientUnits="userSpaceOnUse" x1="0" x2="0" y1="-99" y2="99"><stop offset="0" stop-color="#bebef7"/><stop offset="0.116" stop-color="#c5c5f8"/><stop offset="0.222" stop-color="#d0d0fa"/><stop offset="0.303" stop-color="#e0e0fb"/><stop offset="0.419" stop-color="#ffffff"/><stop offset="0.697" stop-color="#f2c1bb"/><stop offset="1" stop-color="#e5877b"/></linearGradient>
<linearGradient id="f677" gradientUnits="userSpaceOnUse" x1="0" x2="0" y1="-93" y2="93"><stop offset="0" stop-color="#c4c4f8"/><stop offset="0.118" stop-color="#cacaf9"/><stop offset="0.204" stop-color="#d2d2fa"/><stop offset="0.409" stop-color="#fffefe"/><stop offset="0.71" stop-color="#f2c3bd"/><stop offset="1" stop-color="#e78e83"/></linearGradient>
<linearGradient id="f678" gradientUnits="userSpaceOnUse" x1="0" x2="0" y1="-86" y2="86"><stop offset="0" stop-color="#c7c7f8"/><stop offset="0.18" stop-color="#d4d4fa"/><stop offset="0.39" stop-color="#ffffff"/><stop offset="1" stop-color="#e9978d"/></linearGradient>
<linearGradient id="f679" gradientUnits="userSpaceOnUse" x1="0" x2="0" y1="-79" y2="79"><stop offset="0" stop-color="#cacaf9"/><stop offset="0.152" stop-color="#d7d7fa"/><stop offset="0.367" stop-color="#ffffff"/><stop offset="1" stop-color="#eba096"/></linearGradient>
<linearGradient id="f680" gradientUnits="userSpaceOnUse" x1="0" x2="0" y1="-71" y2="71"><stop offset="0" stop-color="#cecef9"/><stop offset="0.113" stop-color="#d9d9fb"/><stop offset="0.345" stop-color="#fffefe"/><stop offset="1" stop-color="#eda9a1"/></linearGradient>
<linearGradient id="f681" gradientUnits="userSpaceOnUse" x1="0" x2="0" y1="-61" y2="61"><stop offset="0" stop-color="#d6d6fa"/><stop offset="0.303" stop-color="#ffffff"/><stop offset="1" stop-color="#efb3ac"/></linearGradient>
<linearGradient id="f682" gradientUnits="userSpaceOnUse" x1="0" x2="0" y1="-48" y2="48"><stop offset="0" stop-color="#e6e6fc"/><stop offset="0.229" stop-color="#ffffff"/><stop offset="1" stop-color="#f1c0b9"/></linearGradient>
<linearGradient id="f683" gradientUnits="userSpaceOnUse" x1="0" x2="0" y1="-30" y2="30"><stop offset="0" stop-color="#fdfdff"/><stop offset="0.033" stop-color="#ffffff"/><stop offset="1" stop-color="#f5cfca"/></linearGradient>
<linearGradient id="f684" gradientUnits="userSpaceOnUse" x1="0" x2="0" y1="-4" y2="4"><stop offset="0" stop-color="#faeae7"/><stop offset="1" stop-color="#f9e3e1"/></linearGradient>
<g id="f6" filter="url(#vb)"><rect x="-169" y="-12" width="4.5" height="24" fill="url(#f60)"/>
<rect x="-165" y="-41" width="4.5" height="82" fill="url(#f61)"/>
<rect x="-161" y="-55" width="4.5" height="110" fill="url(#f62)"/>
<rect x="-157" y="-66" width="4.5" height="132" fill="url(#f63)"/>
<rect x="-153" y="-75" width="4.5" height="150" fill="url(#f64)"/>
<rect x="-149" y="-83" width="4.5" height="166" fill="url(#f65)"/>
<rect x="-145" y="-90" width="4.5" height="180" fill="url(#f66)"/>
<rect x="-141" y="-96" width="4.5" height="192" fill="url(#f67)"/>
<rect x="-137" y="-101" width="4.5" height="202" fill="url(#f68)"/>
<rect x="-133" y="-107" width="4.5" height="214" fill="url(#f69)"/>
<rect x="-129" y="-112" width="4.5" height="224" fill="url(#f610)"/>
<rect x="-125" y="-116" width="4.5" height="232" fill="url(#f611)"/>
<rect x="-121" y="-120" width="4.5" height="240" fill="url(#f612)"/>
<rect x="-117" y="-124" width="4.5" height="248" fill="url(#f613)"/>
<rect x="-113" y="-128" width="4.5" height="256" fill="url(#f614)"/>
<rect x="-109" y="-131" width="4.5" height="262" fill="url(#f615)"/>
<rect x="-105" y="-134" width="4.5" height="268" fill="url(#f616)"/>
<rect x="-101" y="-137" width="4.5" height="274" fill="url(#f617)"/>
<rect x="-97" y="-140" width="4.5" height="280" fill="url(#f618)"/>
<rect x="-93" y="-143" width="4.5" height="286" fill="url(#f619)"/>
<rect x="-89" y="-145" width="4.5" height="290" fill="url(#f620)"/>
<rect x="-85" y="-147" width="4.5" height="294" fill="url(#f621)"/>
<rect x="-81" y="-150" width="4.5" height="300" fill="url(#f622)"/>
<rect x="-77" y="-152" width="4.5" height="304" fill="url(#f623)"/>
<rect x="-73" y="-154" width="4.5" height="308" fill="url(#f624)"/>
<rect x="-69" y="-155" width="4.5" height="310" fill="url(#f625)"/>
<rect x="-65" y="-157" width="4.5" height="314" fill="url(#f626)"/>
<rect x="-61" y="-159" width="4.5" height="318" fill="url(#f627)"/>
<rect x="-57" y="-160" width="4.5" height="320" fill="url(#f628)"/>
<rect x="-53" y="-161" width="4.5" height="322" fill="url(#f629)"/>
<rect x="-49" y="-162" width="4.5" height="324" fill="url(#f630)"/>
<rect x="-45" y="-164" width="4.5" height="328" fill="url(#f631)"/>
<rect x="-41" y="-165" width="4.5" height="330" fill="url(#f632)"/>
<rect x="-37" y="-165" width="4.5" height="330" fill="url(#f633)"/>
<rect x="-33" y="-166" width="4.5" height="332" fill="url(#f634)"/>
<rect x="-29" y="-167" width="4.5" height="334" fill="url(#f635)"/>
<rect x="-25" y="-167" width="4.5" height="334" fill="url(#f636)"/>
<rect x="-21" y="-168" width="4.5" height="336" fill="url(#f637)"/>
<rect x="-17" y="-168" width="4.5" height="336" fill="url(#f638)"/>
<rect x="-13" y="-168" width="4.5" height="336" fill="url(#f639)"/>
<rect x="-9" y="-169" width="4.5" height="338" fill="url(#f640)"/>
<rect x="-5" y="-169" width="4.5" height="338" fill="url(#f641)"/>
<rect x="-1" y="-169" width="4.5" height="338" fill="url(#f642)"/>
<rect x="3" y="-169" width="4.5" height="338" fill="url(#f643)"/>
<rect x="7" y="-169" width="4.5" height="338" fill="url(#f644)"/>
<rect x="11" y="-168" width="4.5" height="336" fill="url(#f645)"/>
<rect x="15" y="-168" width="4.5" height="336" fill="url(#f646)"/>
<rect x="19" y="-168" width="4.5" height="336" fill="url(#f647)"/>
<rect x="23" y="-167" width="4.5" height="334" fill="url(#f648)"/>
<rect x="27" y="-166" width="4.5" height="332" fill="url(#f649)"/>
<rect x="31" y="-166" width="4.5" height="332" fill="url(#f650)"/>
<rect x="35" y="-165" width="4.5" height="330" fill="url(#f651)"/>
<rect x="39" y="-164" width="4.5" height="328" fill="url(#f652)"/>
<rect x="43" y="-163" width="4.5" height="326" fill="url(#f653)"/>
<rect x="47" y="-162" width="4.5" height="324" fill="url(#f654)"/>
<rect x="51" y="-161" width="4.5" height="322" fill="url(#f655)"/>
<rect x="55" y="-159" width="4.5" height="318" fill="url(#f656)"/>
<rect x="59" y="-158" width="4.5" height="316" fill="url(#f657)"/>
<rect x="63" y="-156" width="4.5" height="312" fill="url(#f658)"/>
<rect x="67" y="-155" width="4.5" height="310" fill="url(#f659)"/>
<rect x="71" y="-153" width="4.5" height="306" fill="url(#f660)"/>
<rect x="75" y="-151" width="4.5" height="302" fill="url(#f661)"/>
<rect x="79" y="-149" width="4.5" height="298" fill="url(#f662)"/>
<rect x="83" y="-146" width="4.5" height="292" fill="url(#f663)"/>
<rect x="87" y="-144" width="4.5" height="288" fill="url(#f664)"/>
<rect x="91" y="-141" width="4.5" height="282" fill="url(#f665)"/>
<rect x="95" y="-139" width="4.5" height="278" fill="url(#f666)"/>
<rect x="99" y="-136" width="4.5" height="272" fill="url(#f667)"/>
<rect x="103" y="-133" width="4.5" height="266" fill="url(#f668)"/>
<rect x="107" y="-129" width="4.5" height="258" fill="url(#f669)"/>
<rect x="111" y="-126" width="4.5" height="252" fill="url(#f670)"/>
<rect x="115" y="-122" width="4.5" height="244" fill="url(#f671)"/>
<rect x="119" y="-118" width="4.5" height="236" fill="url(#f672)"/>
<rect x="123" y="-114" width="4.5" height="228" fill="url(#f673)"/>
<rect x="127" y="-109" width="4.5" height="218" fill="url(#f674)"/>
<rect x="131" y="-104" width="4.5" height="208" fill="url(#f675)"/>
<rect x="135" y="-99" width="4.5" height="198" fill="url(#f676)"/>
<rect x="139" y="-93" width="4.5" height="186" fill="url(#f677)"/>
<rect x="143" y="-86" width="4.5" height="172" fill="url(#f678)"/>
<rect x="147" y="-79" width="4.5" height="158" fill="url(#f679)"/>
<rect x="151" y="-71" width="4.5" height="142" fill="url(#f680)"/>
<rect x="155" y="-61" width="4.5" height="122" fill="url(#f681)"/>
<rect x="159" y="-48" width="4.5" height="96" fill="url(#f682)"/>
<rect x="163" y="-30" width="4.5" height="60" fill="url(#f683)"/>
<rect x="167" y="-4" width="4.5" height="8" fill="url(#f684)"/></g>
<linearGradient id="f20" gradientUnits="userSpaceOnUse" x1="0" x2="0" y1="-12" y2="12"><stop offset="0" stop-color="#6666ed"/><stop offset="1" stop-color="#5e5eec"/></linearGradient>
<linearGradient id="f21" gradientUnits="userSpaceOnUse" x1="0" x2="0" y1="-41" y2="41"><stop offset="0" stop-color="#6666ed"/><stop offset="0.463" stop-color="#6565ed"/><stop offset="1" stop-color="#5050ea"/></linearGradient>
<linearGradient id="f22" gradientUnits="userSpaceOnUse" x1="0" x2="0" y1="-55" y2="55"><stop offset="0" stop-color="#6a6aed"/><stop offset="0.427" stop-color="#6868ed"/><stop offset="0.855" stop-color="#5353eb"/><stop offset="1" stop-color="#5252eb"/></linearGradient>
<linearGradient id="f23" gradientUnits="userSpaceOnUse" x1="0" x2="0" y1="-66" y2="66"><stop offset="0" stop-color="#6e6eee"/><stop offset="0.447" stop-color="#6969ed"/><stop offset="0.841" stop-color="#5353eb"/><stop offset="1" stop-color="#5a5aec"/></linearGradient>
<linearGradient id="f24" gradientUnits="userSpaceOnUse" x1="0" x2="0" y1="-75" y2="75"><stop offset="0" stop-color="#6f6fee"/><stop offset="0.447" stop-color="#6b6bee"/><stop offset="0.8" stop-color="#5656eb"/><stop offset="0.867" stop-color="#5757eb"/><stop offset="1" stop-color="#6262ec"/></linearGradient>
<linearGradient id="f25" gradientUnits="userSpaceOnUse" x1="0" x2="0" y1="-83" y2="83"><stop offset="0" stop-color="#7070ee"/><stop offset="0.452" stop-color="#6d6dee"/><stop offset="0.801" stop-color="#5959eb"/><stop offset="0.892" stop-color="#5e5eec"/><stop offset="1" stop-color="#6b6bee"/></linearGradient>
<linearGradient id="f26" gradientUnits="userSpaceOnUse" x1="0" x2="0" y1="-90" y2="90"><stop offset="0" stop-color="#7070ee"/><stop offset="0.428" stop-color="#7070ee"/><stop offset="0.778" stop-color="#5d5dec"/><stop offset="0.867" stop-color="#6262ed"/><stop offset="1" stop-color="#7474ef"/></linearGradient>
<linearGradient id="f27" gradientUnits="userSpaceOnUse" x1="0" x2="0" y1="-96" y2="96"><stop offset="0" stop-color="#7070ee"/><stop offset="0.188" stop-color="#7474ef"/><stop offset="0.432" stop-color="#7272ee"/><stop offset="0.76" stop-color="#6161ec"/><stop offset="0.865" stop-color="#6969ed"/><stop offset="1" stop-color="#7c7cf0"/></linearGradient>
<linearGradient id="f28" gradientUnits="userSpaceOnUse" x1="0" x2="0" y1="-101" y2="101"><stop offset="0" stop-color="#6f6fee"/><stop offset="0.203" stop-color="#7575ef"/><stop offset="0.411" stop-color="#7676ef"/><stop offset="0.772" stop-color="#6767ed"/><stop offset="0.851" stop-color="#6e6eee"/><stop offset="1" stop-color="#8484f1"/></linearGradient>
<linearGradient id="f29" gradientUnits="userSpaceOnUse" x1="0" x2="0" y1="-107" y2="107"><stop offset="0" stop-color="#6e6eee"/><stop offset="0.341" stop-color="#7979ef"/><stop offset="0.463" stop-color="#7878ef"/><stop offset="0.757" stop-color="#6d6dee"/><stop offset="0.832" stop-color="#7474ef"/><stop offset="1" stop-color="#8d8df2"/></linearGradient>
<linearGradient id="f210" gradientUnits="userSpaceOnUse" x1="0" x2="0" y1="-112" y2="112"><stop offset="0" stop-color="#6c6cee"/><stop offset="0.21" stop-color="#7878ef"/><stop offset="0.371" stop-color="#7d7df0"/><stop offset="0.746" stop-color="#7373ef"/><stop offset="0.839" stop-color="#7d7df0"/><stop offset="1" stop-color="#9696f3"/></linearGradient>
<linearGradient id="f211" gradientUnits="userSpaceOnUse" x1="0" x2="0" y1="-116" y2="116"><stop offset="0" stop-color="#6b6bee"/><stop offset="0.216" stop-color="#7a7aef"/><stop offset="0.375" stop-color="#8181f0"/><stop offset="0.737" stop-color="#7a7aef"/><stop offset="0.892" stop-color="#8c8cf1"/><stop offset="1" stop-color="#9f9ff4"/></linearGradient>
<linearGradient id="f212" gradientUnits="userSpaceOnUse" x1="0" x2="0" y1="-120" y2="120"><stop offset="0" stop-color="#6a6aed"/><stop offset="0.4" stop-color="#8686f1"/><stop offset="0.75" stop-color="#8383f0"/><stop offset="0.883" stop-color="#9393f2"/><stop offset="1" stop-color="#a9a9f5"/></linearGradient>
<linearGradient id="f213" gradientUnits="userSpaceOnUse" x1="0" x2="0" y1="-124" y2="124"><stop offset="0" stop-color="#6969ed"/><stop offset="0.407" stop-color="#8b8bf1"/><stop offset="0.742" stop-color="#8c8cf1"/><stop offset="0.871" stop-color="#9b9bf3"/><stop offset="1" stop-color="#b5b5f6"/></linearGradient>
<linearGradient id="f214" gradientUnits="userSpaceOnUse" x1="0" x2="0" y1="-128" y2="128"><stop offset="0" stop-color="#6868ed"/><stop offset="0.41" stop-color="#9191f2"/><stop offset="0.758" stop-color="#9797f3"/><stop offset="0.879" stop-color="#a7a7f5"/><stop offset="1" stop-color="#c2c2f8"/></linearGradient>
<linearGradient id="f215" gradientUnits="userSpaceOnUse" x1="0" x2="0" y1="-131" y2="131"><stop offset="0" stop-color="#6767ed"/><stop offset="0.427" stop-color="#9898f3"/><stop offset="0.771" stop-color="#a2a2f4"/><stop offset="0.87" stop-color="#b1b1f6"/><stop offset="1" stop-color="#cdcdf9"/></linearGradient>
<linearGradient id="f216" gradientUnits="userSpaceOnUse" x1="0" x2="0" y1="-134" y2="134"><stop offset="0" stop-color="#6767ed"/><stop offset="0.097" stop-color="#7070ee"/><stop offset="0.433" stop-color="#9f9ff4"/><stop offset="0.784" stop-color="#afaff6"/><stop offset="0.881" stop-color="#bebef7"/><stop offset="1" stop-color="#d9d9fb"/></linearGradient>
<linearGradient id="f217" gradientUnits="userSpaceOnUse" x1="0" x2="0" y1="-137" y2="137"><stop offset="0" stop-color="#6666ed"/><stop offset="0.109" stop-color="#7171ee"/><stop offset="0.434" stop-color="#a6a6f5"/><stop offset="0.796" stop-color="#bcbcf7"/><stop offset="0.891" stop-color="#cbcbf9"/><stop offset="1" stop-color="#e4e4fc"/></linearGradient>
<linearGradient id="f218" gradientUnits="userSpaceOnUse" x1="0" x2="0" y1="-140" y2="140"><stop offset="0" stop-color="#6565ed"/><stop offset="0.118" stop-color="#7171ee"/><stop offset="0.45" stop-color="#afaff6"/><stop offset="0.811" stop-color="#c9c9f9"/><stop offset="0.9" stop-color="#d9d9fa"/><stop offset="1" stop-color="#efeffd"/></linearGradient>
<linearGradient id="f219" gradientUnits="userSpaceOnUse" x1="0" x2="0" y1="-143" y2="143"><stop offset="0" stop-color="#6464ed"/><stop offset="0.14" stop-color="#7474ef"/><stop offset="0.437" stop-color="#b4b4f6"/><stop offset="0.675" stop-color="#d0d0fa"/><stop offset="0.731" stop-color="#cecef9"/><stop offset="0.804" stop-color="#d4d4fa"/><stop offset="0.895" stop-color="#e3e3fc"/><stop offset="1" stop-color="#fafafe"/></linearGradient>
<linearGradient id="f220" gradientUnits="userSpaceOnUse" x1="0" x2="0" y1="-145" y2="145"><stop offset="0" stop-color="#6363ed"/><stop offset="0.131" stop-color="#7272ee"/><stop offset="0.417" stop-color="#b7b7f6"/><stop offset="0.634" stop-color="#dbdbfb"/><stop offset="0.69" stop-color="#e0e0fb"/><stop offset="0.745" stop-color="#dadafb"/><stop offset="0.783" stop-color="#dcdcfb"/><stop offset="0.869" stop-color="#e8e8fc"/><stop offset="0.976" stop-color="#ffffff"/><stop offset="1" stop-color="#fefbfb"/></linearGradient>
<linearGradient id="f221" gradientUnits="userSpaceOnUse" x1="0" x2="0" y1="-147" y2="147"><stop offset="0" stop-color="#6363ed"/><stop offset="0.082" stop-color="#6a6aee"/><stop offset="0.153" stop-color="#7676ef"/><stop offset="0.418" stop-color="#bdbdf7"/><stop offset="0.636" stop-color="#eaeafd"/><stop offset="0.687" stop-color="#efeffd"/><stop offset="0.741" stop-color="#e6e6fc"/><stop offset="0.776" stop-color="#e7e7fc"/><stop offset="0.847" stop-color="#efeffd"/><stop offset="0.932" stop-color="#ffffff"/><stop offset="1" stop-color="#fdf4f3"/></linearGradient>
<linearGradient id="f222" gradientUnits="userSpaceOnUse" x1="0" x2="0" y1="-150" y2="150"><stop offset="0" stop-color="#6262ed"/><stop offset="0.09" stop-color="#6b6bee"/><stop offset="0.16" stop-color="#7777ef"/><stop offset="0.507" stop-color="#dbdbfb"/><stop offset="0.647" stop-color="#fafafe"/><stop offset="0.7" stop-color="#fcfcff"/><stop offset="0.753" stop-color="#f1f1fd"/><stop offset="0.877" stop-color="#ffffff"/><stop offset="1" stop-color="#fbedeb"/></linearGradient>
<linearGradient id="f223" gradientUnits="userSpaceOnUse" x1="0" x2="0" y1="-152" y2="152"><stop offset="0" stop-color="#6161ec"/><stop offset="0.095" stop-color="#6b6bee"/><stop offset="0.181" stop-color="#7c7cf0"/><stop offset="0.51" stop-color="#e6e6fc"/><stop offset="0.602" stop-color="#ffffff"/><stop offset="0.681" stop-color="#fdf6f5"/><stop offset="0.747" stop-color="#ffffff"/><stop offset="0.793" stop-color="#ffffff"/><stop offset="1" stop-color="#fae6e4"/></linearGradient>
<linearGradient id="f224" gradientUnits="userSpaceOnUse" x1="0" x2="0" y1="-154" y2="154"><stop offset="0" stop-color="#6161ec"/><stop offset="0.101" stop-color="#6b6bee"/><stop offset="0.201" stop-color="#8181f0"/><stop offset="0.558" stop-color="#ffffff"/><stop offset="0.662" stop-color="#fbedec"/><stop offset="0.698" stop-color="#fbedeb"/><stop offset="0.763" stop-color="#fdf8f7"/><stop offset="0.782" stop-color="#fdf7f6"/><stop offset="1" stop-color="#f8e0dd"/></linearGradient>
<linearGradient id="f225" gradientUnits="userSpaceOnUse" x1="0" x2="0" y1="-155" y2="155"><stop offset="0" stop-color="#6161ec"/><stop offset="0.103" stop-color="#6c6cee"/><stop offset="0.203" stop-color="#8282f0"/><stop offset="0.29" stop-color="#a0a0f4"/><stop offset="0.532" stop-color="#fefeff"/><stop offset="0.61" stop-color="#fbedeb"/><stop offset="0.677" stop-color="#f9e4e1"/><stop offset="0.713" stop-color="#f9e5e2"/><stop offset="0.781" stop-color="#fcefed"/><stop offset="1" stop-color="#f7d9d6"/></linearGradient>
<linearGradient id="f226" gradientUnits="userSpaceOnUse" x1="0" x2="0" y1="-157" y2="157"><stop offset="0" stop-color="#6262ec"/><stop offset="0.108" stop-color="#6c6cee"/><stop offset="0.207" stop-color="#8383f0"/><stop offset="0.293" stop-color="#a2a2f4"/><stop offset="0.516" stop-color="#ffffff"/><stop offset="0.608" stop-color="#fae6e4"/><stop offset="0.675" stop-color="#f7dcd8"/><stop offset="0.71" stop-color="#f7dcd8"/><stop offset="0.793" stop-color="#fae6e4"/><stop offset="1" stop-color="#f5d2ce"/></linearGradient>
<linearGradient id="f227" gradientUnits="userSpaceOnUse" x1="0" x2="0" y1="-159" y2="159"><stop offset="0" stop-color="#6262ed"/><stop offset="0.113" stop-color="#6d6dee"/><stop offset="0.211" stop-color="#8383f0"/><stop offset="0.308" stop-color="#a8a8f5"/><stop offset="0.5" stop-color="#fefeff"/><stop offset="0.591" stop-color="#f9e4e1"/><stop offset="0.673" stop-color="#f6d5d1"/><stop offset="0.72" stop-color="#f6d4d0"/><stop offset="0.774" stop-color="#f8dcd9"/><stop offset="0.805" stop-color="#f8ddda"/><stop offset="1" stop-color="#f4cbc6"/></linearGradient>
<linearGradient id="f228" gradientUnits="userSpaceOnUse" x1="0" x2="0" y1="-160" y2="160"><stop offset="0" stop-color="#6262ed"/><stop offset="0.116" stop-color="#6e6eee"/><stop offset="0.212" stop-color="#8484f0"/><stop offset="0.297" stop-color="#a4a4f4"/><stop offset="0.491" stop-color="#ffffff"/><stop offset="0.591" stop-color="#f8dedb"/><stop offset="0.672" stop-color="#f5cfca"/><stop offset="0.722" stop-color="#f4ccc7"/><stop offset="0.803" stop-color="#f6d5d1"/><stop offset="1" stop-color="#f2c4bf"/></linearGradient>
<linearGradient id="f229" gradientUnits="userSpaceOnUse" x1="0" x2="0" y1="-161" y2="161"><stop offset="0" stop-color="#6363ed"/><stop offset="0.118" stop-color="#6e6eee"/><stop offset="0.23" stop-color="#8989f1"/><stop offset="0.311" stop-color="#ababf5"/><stop offset="0.481" stop-color="#ffffff"/><stop offset="0.606" stop-color="#f6d5d1"/><stop offset="0.671" stop-color="#f3c9c4"/><stop offset="0.72" stop-color="#f3c6c0"/><stop offset="0.817" stop-color="#f4ccc7"/><stop offset="1" stop-color="#f1bdb7"/></linearGradient>
<linearGradient id="f230" gradientUnits="userSpaceOnUse" x1="0" x2="0" y1="-162" y2="162"><stop offset="0" stop-color="#6464ed"/><stop offset="0.12" stop-color="#6f6fee"/><stop offset="0.231" stop-color="#8a8af1"/><stop offset="0.312" stop-color="#acacf5"/><stop offset="0.472" stop-color="#ffffff"/><stop offset="0.59" stop-color="#f6d4d0"/><stop offset="0.654" stop-color="#f3c6c1"/><stop offset="0.719" stop-color="#f1c0ba"/><stop offset="0.833" stop-color="#f2c3bd"/><stop offset="1" stop-color="#efb6af"/></linearGradient>
<linearGradient id="f231" gradientUnits="userSpaceOnUse" x1="0" x2="0" y1="-164" y2="164"><stop offset="0" stop-color="#6565ed"/><stop offset="0.125" stop-color="#7070ee"/><stop offset="0.235" stop-color="#8b8bf1"/><stop offset="0.314" stop-color="#acacf5"/><stop offset="0.466" stop-color="#ffffff"/><stop offset="0.573" stop-color="#f6d5d0"/><stop offset="0.652" stop-color="#f2c1bb"/><stop offset="0.716" stop-color="#f0bab4"/><stop offset="0.845" stop-color="#f0bab4"/><stop offset="1" stop-color="#eeafa7"/></linearGradient>
<linearGradient id="f232" gradientUnits="userSpaceOnUse" x1="0" x2="0" y1="-165" y2="165"><stop offset="0" stop-color="#6666ed"/><stop offset="0.127" stop-color="#7171ee"/><stop offset="0.236" stop-color="#8c8cf1"/><stop offset="0.315" stop-color="#adadf5"/><stop offset="0.461" stop-color="#ffffff"/><stop offset="0.57" stop-color="#f5d1cd"/><stop offset="0.652" stop-color="#f1bdb7"/><stop offset="0.715" stop-color="#efb5ae"/><stop offset="0.873" stop-color="#eeb1a9"/><stop offset="1" stop-color="#eca79f"/></linearGradient>
<linearGradient id="f233" gradientUnits="userSpaceOnUse" x1="0" x2="0" y1="-165" y2="165"><stop offset="0" stop-color="#6767ed"/><stop offset="0.127" stop-color="#7272ee"/><stop offset="0.236" stop-color="#8d8df2"/><stop offset="0.318" stop-color="#b0b0f6"/><stop offset="0.455" stop-color="#ffffff"/><stop offset="0.558" stop-color="#f5d2ce"/><stop offset="0.652" stop-color="#f0b9b2"/><stop offset="0.715" stop-color="#eeb1a9"/><stop offset="1" stop-color="#eba097"/></linearGradient>
<linearGradient id="f234" gradientUnits="userSpaceOnUse" x1="0" x2="0" y1="-166" y2="166"><stop offset="0" stop-color="#6868ed"/><stop offset="0.13" stop-color="#7272ee"/><stop offset="0.238" stop-color="#8f8ff2"/><stop offset="0.319" stop-color="#b1b1f6"/><stop offset="0.449" stop-color="#fefeff"/><stop offset="0.557" stop-color="#f5cfca"/><stop offset="0.666" stop-color="#efb2ab"/><stop offset="0.822" stop-color="#eba097"/><stop offset="1" stop-color="#e9998f"/></linearGradient>
<linearGradient id="f235" gradientUnits="userSpaceOnUse" x1="0" x2="0" y1="-167" y2="167"><stop offset="0" stop-color="#6969ed"/><stop offset="0.117" stop-color="#7171ee"/><stop offset="0.228" stop-color="#8c8cf1"/><stop offset="0.32" stop-color="#b2b2f6"/><stop offset="0.446" stop-color="#ffffff"/><stop offset="0.554" stop-color="#f4cdc9"/><stop offset="0.665" stop-color="#eeaea6"/><stop offset="0.823" stop-color="#e9978d"/><stop offset="1" stop-color="#e89287"/></linearGradient>
<linearGradient id="f236" gradientUnits="userSpaceOnUse" x1="0" x2="0" y1="-167" y2="167"><stop offset="0" stop-color="#6a6aed"/><stop offset="0.117" stop-color="#7272ee"/><stop offset="0.228" stop-color="#8d8df2"/><stop offset="0.287" stop-color="#a4a4f4"/><stop offset="0.335" stop-color="#bcbcf7"/><stop offset="0.44" stop-color="#ffffff"/><stop offset="0.539" stop-color="#f5d1cc"/><stop offset="0.605" stop-color="#f0bab3"/><stop offset="0.665" stop-color="#eda9a1"/><stop offset="0.823" stop-color="#e78d82"/><stop offset="1" stop-color="#e68b7f"/></linearGradient>
<linearGradient id="f237" gradientUnits="userSpaceOnUse" x1="0" x2="0" y1="-168" y2="168"><stop offset="0" stop-color="#6a6aee"/><stop offset="0.119" stop-color="#7373ef"/><stop offset="0.226" stop-color="#8d8df2"/><stop offset="0.289" stop-color="#a6a6f5"/><stop offset="0.336" stop-color="#bebef7"/><stop offset="0.438" stop-color="#ffffff"/><stop offset="0.509" stop-color="#f7dbd7"/><stop offset="0.604" stop-color="#efb6af"/><stop offset="0.664" stop-color="#eca59c"/><stop offset="0.789" stop-color="#e6897d"/><stop offset="0.866" stop-color="#e48074"/><stop offset="1" stop-color="#e48276"/></linearGradient>
<linearGradient id="f238" gradientUnits="userSpaceOnUse" x1="0" x2="0" y1="-168" y2="168"><stop offset="0" stop-color="#6b6bee"/><stop offset="0.119" stop-color="#7474ef"/><stop offset="0.226" stop-color="#8f8ff2"/><stop offset="0.289" stop-color="#a7a7f5"/><stop offset="0.336" stop-color="#c0c0f8"/><stop offset="0.432" stop-color="#fefeff"/><stop offset="0.509" stop-color="#f7d9d5"/><stop offset="0.616" stop-color="#eeafa7"/><stop offset="0.789" stop-color="#e47f73"/><stop offset="0.869" stop-color="#e27669"/><stop offset="1" stop-color="#e2786b"/></linearGradient>
<linearGradient id="f239" gradientUnits="userSpaceOnUse" x1="0" x2="0" y1="-168" y2="168"><stop offset="0" stop-color="#6c6cee"/><stop offset="0.119" stop-color="#7575ef"/><stop offset="0.226" stop-color="#9090f2"/><stop offset="0.321" stop-color="#babaf7"/><stop offset="0.369" stop-color="#d6d6fa"/><stop offset="0.429" stop-color="#ffffff"/><stop offset="0.509" stop-color="#f6d7d3"/><stop offset="0.616" stop-color="#edaba3"/><stop offset="0.789" stop-color="#e27669"/><stop offset="0.881" stop-color="#df6b5c"/><stop offset="1" stop-color="#e06d5f"/></linearGradient>
<linearGradient id="f240" gradientUnits="userSpaceOnUse" x1="0" x2="0" y1="-169" y2="169"><stop offset="0" stop-color="#6d6dee"/><stop offset="0.121" stop-color="#7676ef"/><stop offset="0.169" stop-color="#7f7ff0"/><stop offset="0.228" stop-color="#9191f2"/><stop offset="0.322" stop-color="#bcbcf7"/><stop offset="0.426" stop-color="#fffefe"/><stop offset="0.509" stop-color="#f6d5d0"/><stop offset="0.601" stop-color="#edaca4"/><stop offset="0.707" stop-color="#e5867a"/><stop offset="0.787" stop-color="#e06d5f"/><stop offset="0.879" stop-color="#dd6051"/><stop offset="1" stop-color="#dd6253"/></linearGradient>
<linearGradient id="f241" gradientUnits="userSpaceOnUse" x1="0" x2="0" y1="-169" y2="169"><stop offset="0" stop-color="#6e6eee"/><stop offset="0.121" stop-color="#7777ef"/><stop offset="0.169" stop-color="#8181f0"/><stop offset="0.228" stop-color="#9393f2"/><stop offset="0.322" stop-color="#bebef7"/><stop offset="0.37" stop-color="#dbdbfb"/><stop offset="0.42" stop-color="#ffffff"/><stop offset="0.509" stop-color="#f5d1cd"/><stop offset="0.601" stop-color="#eca79f"/><stop offset="0.695" stop-color="#e48276"/><stop offset="0.772" stop-color="#df685a"/><stop offset="0.817" stop-color="#dc5d4e"/><stop offset="0.867" stop-color="#db5747"/><stop offset="0.926" stop-color="#db5444"/><stop offset="1" stop-color="#db5747"/></linearGradient>
<linearGradient id="f242" gradientUnits="userSpaceOnUse" x1="0" x2="0" y1="-169" y2="169"><stop offset="0" stop-color="#6f6fee"/><stop offset="0.118" stop-color="#7777ef"/><stop offset="0.213" stop-color="#8f8ff2"/><stop offset="0.26" stop-color="#a1a1f4"/><stop offset="0.32" stop-color="#bebef7"/><stop offset="0.417" stop-color="#fffefe"/><stop offset="0.494" stop-color="#f6d5d0"/><stop offset="0.586" stop-color="#eca8a0"/><stop offset="0.707" stop-color="#e27669"/><stop offset="0.772" stop-color="#dd6050"/><stop offset="0.82" stop-color="#da5443"/><stop offset="0.879" stop-color="#d94c3b"/><stop offset="1" stop-color="#d94b3a"/></linearGradient>
<linearGradient id="f243" gradientUnits="userSpaceOnUse" x1="0" x2="0" y1="-169" y2="169"><stop offset="0" stop-color="#6f6fee"/><stop offset="0.118" stop-color="#7878ef"/><stop offset="0.213" stop-color="#9090f2"/><stop offset="0.308" stop-color="#babaf7"/><stop offset="0.355" stop-color="#d6d6fa"/><stop offset="0.411" stop-color="#fefeff"/><stop offset="0.491" stop-color="#f5d1cd"/><stop offset="0.586" stop-color="#eba299"/><stop offset="0.772" stop-color="#db5848"/><stop offset="0.861" stop-color="#d74432"/><stop offset="1" stop-color="#d74432"/></linearGradient>
<linearGradient id="f244" gradientUnits="userSpaceOnUse" x1="0" x2="0" y1="-169" y2="169"><stop offset="0" stop-color="#7070ee"/><stop offset="0.118" stop-color="#7a7aef"/><stop offset="0.213" stop-color="#9292f2"/><stop offset="0.26" stop-color="#a4a4f4"/><stop offset="0.308" stop-color="#bcbcf7"/><stop offset="0.352" stop-color="#d6d6fa"/><stop offset="0.408" stop-color="#ffffff"/><stop offset="0.491" stop-color="#f4ccc7"/><stop offset="0.586" stop-color="#ea9b91"/><stop offset="0.772" stop-color="#da503f"/><stop offset="0.817" stop-color="#d74432"/><stop offset="1" stop-color="#d74432"/></linearGradient>
<linearGradient id="f245" gradientUnits="userSpaceOnUse" x1="0" x2="0" y1="-168" y2="168"><stop offset="0" stop-color="#7171ee"/><stop offset="0.116" stop-color="#7b7bef"/><stop offset="0.211" stop-color="#9393f2"/><stop offset="0.259" stop-color="#a6a6f5"/><stop offset="0.307" stop-color="#bebef7"/><stop offset="0.405" stop-color="#fffefe"/><stop offset="0.494" stop-color="#f2c4bf"/><stop offset="0.586" stop-color="#e8948a"/><stop offset="0.631" stop-color="#e48074"/><stop offset="0.789" stop-color="#d74432"/><stop offset="1" stop-color="#d74432"/></linearGradient>
<linearGradient id="f246" gradientUnits="userSpaceOnUse" x1="0" x2="0" y1="-168" y2="168"><stop offset="0" stop-color="#7272ee"/><stop offset="0.116" stop-color="#7c7cf0"/><stop offset="0.211" stop-color="#9494f2"/><stop offset="0.259" stop-color="#a8a8f5"/><stop offset="0.307" stop-color="#c0c0f8"/><stop offset="0.351" stop-color="#dcdcfb"/><stop offset="0.399" stop-color="#ffffff"/><stop offset="0.432" stop-color="#fbeceb"/><stop offset="0.509" stop-color="#f0b7b0"/><stop offset="0.571" stop-color="#e8958a"/><stop offset="0.631" stop-color="#e2796c"/><stop offset="0.768" stop-color="#d74533"/><stop offset="1" stop-color="#d74432"/></linearGradient>
<linearGradient id="f247" gradientUnits="userSpaceOnUse" x1="0" x2="0" y1="-168" y2="168"><stop offset="0" stop-color="#7373ef"/><stop offset="0.116" stop-color="#7d7df0"/><stop offset="0.211" stop-color="#9696f3"/><stop offset="0.304" stop-color="#c0c0f8"/><stop offset="0.396" stop-color="#ffffff"/><stop offset="0.432" stop-color="#fbebe9"/><stop offset="0.524" stop-color="#eda9a1"/><stop offset="0.568" stop-color="#e79085"/><stop offset="0.631" stop-color="#e17365"/><stop offset="0.756" stop-color="#d74432"/><stop offset="1" stop-color="#d74432"/></linearGradient>
<linearGradient id="f248" gradientUnits="userSpaceOnUse" x1="0" x2="0" y1="-167" y2="167"><stop offset="0" stop-color="#7474ef"/><stop offset="0.114" stop-color="#7e7ef0"/><stop offset="0.21" stop-color="#9797f3"/><stop offset="0.257" stop-color="#ababf5"/><stop offset="0.302" stop-color="#c3c3f8"/><stop offset="0.392" stop-color="#fffefe"/><stop offset="0.431" stop-color="#fae9e7"/><stop offset="0.524" stop-color="#eca59d"/><stop offset="0.572" stop-color="#e6897d"/><stop offset="0.632" stop-color="#e06d5f"/><stop offset="0.746" stop-color="#d74432"/><stop offset="1" stop-color="#d74432"/></linearGradient>
<linearGradient id="f249" gradientUnits="userSpaceOnUse" x1="0" x2="0" y1="-166" y2="166"><stop offset="0" stop-color="#7575ef"/><stop offset="0.114" stop-color="#8080f0"/><stop offset="0.208" stop-color="#9999f3"/><stop offset="0.256" stop-color="#adadf5"/><stop offset="0.301" stop-color="#c5c5f8"/><stop offset="0.386" stop-color="#fefeff"/><stop offset="0.443" stop-color="#f8dfdc"/><stop offset="0.539" stop-color="#e9988e"/><stop offset="0.572" stop-color="#e58478"/><stop offset="0.633" stop-color="#df6759"/><stop offset="0.732" stop-color="#d74432"/><stop offset="1" stop-color="#d74432"/></linearGradient>
<linearGradient id="f250" gradientUnits="userSpaceOnUse" x1="0" x2="0" y1="-166" y2="166"><stop offset="0" stop-color="#7676ef"/><stop offset="0.114" stop-color="#8181f0"/><stop offset="0.208" stop-color="#9a9af3"/><stop offset="0.289" stop-color="#c0c0f8"/><stop offset="0.383" stop-color="#ffffff"/><stop offset="0.443" stop-color="#f8dedb"/><stop offset="0.554" stop-color="#e68c81"/><stop offset="0.584" stop-color="#e37a6d"/><stop offset="0.633" stop-color="#de6354"/><stop offset="0.717" stop-color="#d74533"/><stop offset="1" stop-color="#d74432"/></linearGradient>
<linearGradient id="f251" gradientUnits="userSpaceOnUse" x1="0" x2="0" y1="-165" y2="165"><stop offset="0" stop-color="#7676ef"/><stop offset="0.112" stop-color="#8383f0"/><stop offset="0.206" stop-color="#9c9cf3"/><stop offset="0.285" stop-color="#c1c1f8"/><stop offset="0.379" stop-color="#ffffff"/><stop offset="0.445" stop-color="#f7dbd8"/><stop offset="0.588" stop-color="#e27668"/><stop offset="0.633" stop-color="#dd6050"/><stop offset="0.706" stop-color="#d74533"/><stop offset="1" stop-color="#d74432"/></linearGradient>
<linearGradient id="f252" gradientUnits="userSpaceOnUse" x1="0" x2="0" y1="-164" y2="164"><stop offset="0" stop-color="#7777ef"/><stop offset="0.11" stop-color="#8484f1"/><stop offset="0.204" stop-color="#9d9df4"/><stop offset="0.284" stop-color="#c3c3f8"/><stop offset="0.375" stop-color="#fefeff"/><stop offset="0.445" stop-color="#f7dad7"/><stop offset="0.57" stop-color="#e48174"/><stop offset="0.604" stop-color="#df6c5e"/><stop offset="0.701" stop-color="#d74432"/><stop offset="1" stop-color="#d74432"/></linearGradient>
<linearGradient id="f253" gradientUnits="userSpaceOnUse" x1="0" x2="0" y1="-163" y2="163"><stop offset="0" stop-color="#7878ef"/><stop offset="0.107" stop-color="#8585f1"/><stop offset="0.202" stop-color="#9f9ff4"/><stop offset="0.282" stop-color="#c5c5f8"/><stop offset="0.374" stop-color="#fffefe"/><stop offset="0.445" stop-color="#f7dad6"/><stop offset="0.604" stop-color="#df6b5d"/><stop offset="0.696" stop-color="#d74432"/><stop offset="1" stop-color="#d74432"/></linearGradient>
<linearGradient id="f254" gradientUnits="userSpaceOnUse" x1="0" x2="0" y1="-162" y2="162"><stop offset="0" stop-color="#7979ef"/><stop offset="0.117" stop-color="#8989f1"/><stop offset="0.201" stop-color="#a1a1f4"/><stop offset="0.281" stop-color="#c7c7f8"/><stop offset="0.37" stop-color="#ffffff"/><stop offset="0.444" stop-color="#f7dad6"/><stop offset="0.62" stop-color="#de6455"/><stop offset="0.694" stop-color="#d74533"/><stop offset="1" stop-color="#d74432"/></linearGradient>
<linearGradient id="f255" gradientUnits="userSpaceOnUse" x1="0" x2="0" y1="-161" y2="161"><stop offset="0" stop-color="#7a7aef"/><stop offset="0.099" stop-color="#8787f1"/><stop offset="0.183" stop-color="#9d9df3"/><stop offset="0.264" stop-color="#c0c0f8"/><stop offset="0.37" stop-color="#ffffff"/><stop offset="0.444" stop-color="#f7dad7"/><stop offset="0.621" stop-color="#de6758"/><stop offset="0.699" stop-color="#d74533"/><stop offset="1" stop-color="#d74432"/></linearGradient>
<linearGradient id="f256" gradientUnits="userSpaceOnUse" x1="0" x2="0" y1="-159" y2="159"><stop offset="0" stop-color="#7c7cf0"/><stop offset="0.094" stop-color="#8888f1"/><stop offset="0.179" stop-color="#9e9ef4"/><stop offset="0.261" stop-color="#c2c2f8"/><stop offset="0.368" stop-color="#ffffff"/><stop offset="0.443" stop-color="#f7dbd7"/><stop offset="0.623" stop-color="#df6a5c"/><stop offset="0.657" stop-color="#dc5949"/><stop offset="0.708" stop-color="#d74634"/><stop offset="1" stop-color="#d74432"/></linearGradient>
<linearGradient id="f257" gradientUnits="userSpaceOnUse" x1="0" x2="0" y1="-158" y2="158"><stop offset="0" stop-color="#7d7df0"/><stop offset="0.092" stop-color="#8989f1"/><stop offset="0.177" stop-color="#a0a0f4"/><stop offset="0.259" stop-color="#c2c2f8"/><stop offset="0.367" stop-color="#fefeff"/><stop offset="0.44" stop-color="#f8deda"/><stop offset="0.611" stop-color="#e27668"/><stop offset="0.658" stop-color="#dc5e4e"/><stop offset="0.693" stop-color="#da503f"/><stop offset="0.778" stop-color="#d74432"/><stop offset="1" stop-color="#d74432"/></linearGradient>
<linearGradient id="f258" gradientUnits="userSpaceOnUse" x1="0" x2="0" y1="-156" y2="156"><stop offset="0" stop-color="#7f7ff0"/><stop offset="0.09" stop-color="#8b8bf1"/><stop offset="0.173" stop-color="#a1a1f4"/><stop offset="0.256" stop-color="#c3c3f8"/><stop offset="0.369" stop-color="#ffffff"/><stop offset="0.439" stop-color="#f8dfdc"/><stop offset="0.612" stop-color="#e37b6f"/><stop offset="0.66" stop-color="#de6455"/><stop offset="0.692" stop-color="#db5949"/><stop offset="0.76" stop-color="#da5242"/><stop offset="0.798" stop-color="#d74432"/><stop offset="1" stop-color="#d74432"/></linearGradient>
<linearGradient id="f259" gradientUnits="userSpaceOnUse" x1="0" x2="0" y1="-155" y2="155"><stop offset="0" stop-color="#8181f0"/><stop offset="0.087" stop-color="#8d8df2"/><stop offset="0.187" stop-color="#a8a8f5"/><stop offset="0.271" stop-color="#cacaf9"/><stop offset="0.371" stop-color="#ffffff"/><stop offset="0.439" stop-color="#f9e1de"/><stop offset="0.61" stop-color="#e58479"/><stop offset="0.677" stop-color="#df6759"/><stop offset="0.71" stop-color="#dd6152"/><stop offset="0.745" stop-color="#dd6050"/><stop offset="0.823" stop-color="#d74432"/><stop offset="1" stop-color="#d74432"/></linearGradient>
<linearGradient id="f260" gradientUnits="userSpaceOnUse" x1="0" x2="0" y1="-153" y2="153"><stop offset="0" stop-color="#8383f0"/><stop offset="0.095" stop-color="#9191f2"/><stop offset="0.183" stop-color="#a9a9f5"/><stop offset="0.268" stop-color="#cacaf9"/><stop offset="0.376" stop-color="#fffefe"/><stop offset="0.441" stop-color="#f9e3e0"/><stop offset="0.627" stop-color="#e5867a"/><stop offset="0.68" stop-color="#e17265"/><stop offset="0.748" stop-color="#df6a5c"/><stop offset="0.85" stop-color="#d74432"/><stop offset="1" stop-color="#d74432"/></linearGradient>
<linearGradient id="f261" gradientUnits="userSpaceOnUse" x1="0" x2="0" y1="-151" y2="151"><stop offset="0" stop-color="#8585f1"/><stop offset="0.093" stop-color="#9393f2"/><stop offset="0.179" stop-color="#aaaaf5"/><stop offset="0.265" stop-color="#c9c9f9"/><stop offset="0.377" stop-color="#fefeff"/><stop offset="0.457" stop-color="#f8e0dd"/><stop offset="0.616" stop-color="#e9978d"/><stop offset="0.666" stop-color="#e58478"/><stop offset="0.752" stop-color="#e17568"/><stop offset="0.877" stop-color="#d74432"/><stop offset="1" stop-color="#d74432"/></linearGradient>
<linearGradient id="f262" gradientUnits="userSpaceOnUse" x1="0" x2="0" y1="-149" y2="149"><stop offset="0" stop-color="#8888f1"/><stop offset="0.087" stop-color="#9595f3"/><stop offset="0.174" stop-color="#ababf5"/><stop offset="0.262" stop-color="#c9c9f9"/><stop offset="0.386" stop-color="#fffefe"/><stop offset="0.507" stop-color="#f6d3cf"/><stop offset="0.651" stop-color="#e9978c"/><stop offset="0.685" stop-color="#e78c81"/><stop offset="0.738" stop-color="#e5857a"/><stop offset="0.909" stop-color="#d74533"/><stop offset="1" stop-color="#d74432"/></linearGradient>
<linearGradient id="f263" gradientUnits="userSpaceOnUse" x1="0" x2="0" y1="-146" y2="146"><stop offset="0" stop-color="#8b8bf1"/><stop offset="0.096" stop-color="#9a9af3"/><stop offset="0.168" stop-color="#acacf5"/><stop offset="0.257" stop-color="#c9c9f9"/><stop offset="0.394" stop-color="#ffffff"/><stop offset="0.545" stop-color="#f5ceca"/><stop offset="0.671" stop-color="#eb9f96"/><stop offset="0.743" stop-color="#e79186"/><stop offset="0.949" stop-color="#d74533"/><stop offset="1" stop-color="#d74432"/></linearGradient>
<linearGradient id="f264" gradientUnits="userSpaceOnUse" x1="0" x2="0" y1="-144" y2="144"><stop offset="0" stop-color="#8e8ef2"/><stop offset="0.09" stop-color="#9c9cf3"/><stop offset="0.163" stop-color="#adadf5"/><stop offset="0.253" stop-color="#c9c9f9"/><stop offset="0.406" stop-color="#fffefe"/><stop offset="0.566" stop-color="#f5d1cc"/><stop offset="0.674" stop-color="#eeaea6"/><stop offset="0.747" stop-color="#ea9d93"/><stop offset="0.99" stop-color="#d74432"/><stop offset="1" stop-color="#d74432"/></linearGradient>
<linearGradient id="f265" gradientUnits="userSpaceOnUse" x1="0" x2="0" y1="-141" y2="141"><stop offset="0" stop-color="#9292f2"/><stop offset="0.082" stop-color="#9d9df4"/><stop offset="0.156" stop-color="#aeaef5"/><stop offset="0.284" stop-color="#d3d3fa"/><stop offset="0.418" stop-color="#ffffff"/><stop offset="0.752" stop-color="#eda9a0"/><stop offset="0.862" stop-color="#e58579"/><stop offset="1" stop-color="#da5141"/></linearGradient>
<linearGradient id="f266" gradientUnits="userSpaceOnUse" x1="0" x2="0" y1="-139" y2="139"><stop offset="0" stop-color="#9494f2"/><stop offset="0.151" stop-color="#afaff6"/><stop offset="0.302" stop-color="#d6d6fa"/><stop offset="0.439" stop-color="#ffffff"/><stop offset="0.755" stop-color="#efb5ae"/><stop offset="0.849" stop-color="#e9988e"/><stop offset="1" stop-color="#dd6252"/></linearGradient>
<linearGradient id="f267" gradientUnits="userSpaceOnUse" x1="0" x2="0" y1="-136" y2="136"><stop offset="0" stop-color="#9898f3"/><stop offset="0.085" stop-color="#a4a4f4"/><stop offset="0.18" stop-color="#b7b7f7"/><stop offset="0.463" stop-color="#ffffff"/><stop offset="0.743" stop-color="#f3c6c1"/><stop offset="0.857" stop-color="#eca49c"/><stop offset="1" stop-color="#e17365"/></linearGradient>
<linearGradient id="f268" gradientUnits="userSpaceOnUse" x1="0" x2="0" y1="-133" y2="133"><stop offset="0" stop-color="#9b9bf3"/><stop offset="0.195" stop-color="#bbbbf7"/><stop offset="0.5" stop-color="#ffffff"/><stop offset="0.729" stop-color="#f6d6d2"/><stop offset="0.846" stop-color="#efb5ae"/><stop offset="1" stop-color="#e58377"/></linearGradient>
<linearGradient id="f269" gradientUnits="userSpaceOnUse" x1="0" x2="0" y1="-129" y2="129"><stop offset="0" stop-color="#9e9ef4"/><stop offset="0.225" stop-color="#c1c1f8"/><stop offset="0.543" stop-color="#ffffff"/><stop offset="0.733" stop-color="#f9e1de"/><stop offset="0.857" stop-color="#f1c0b9"/><stop offset="1" stop-color="#e89489"/></linearGradient>
<linearGradient id="f270" gradientUnits="userSpaceOnUse" x1="0" x2="0" y1="-126" y2="126"><stop offset="0" stop-color="#a1a1f4"/><stop offset="0.218" stop-color="#c0c0f8"/><stop offset="0.603" stop-color="#ffffff"/><stop offset="0.738" stop-color="#fbeae8"/><stop offset="1" stop-color="#eba198"/></linearGradient>
<linearGradient id="f271" gradientUnits="userSpaceOnUse" x1="0" x2="0" y1="-122" y2="122"><stop offset="0" stop-color="#a4a4f4"/><stop offset="0.668" stop-color="#ffffff"/><stop offset="0.75" stop-color="#fcf2f1"/><stop offset="1" stop-color="#eeaea6"/></linearGradient>
<linearGradient id="f272" gradientUnits="userSpaceOnUse" x1="0" x2="0" y1="-118" y2="118"><stop offset="0" stop-color="#a7a7f5"/><stop offset="0.581" stop-color="#e9e9fc"/><stop offset="0.733" stop-color="#ffffff"/><stop offset="1" stop-color="#f0b9b3"/></linearGradient>
<linearGradient id="f273" gradientUnits="userSpaceOnUse" x1="0" x2="0" y1="-114" y2="114"><stop offset="0" stop-color="#aaaaf5"/><stop offset="0.627" stop-color="#e6e6fc"/><stop offset="0.719" stop-color="#f1f1fd"/><stop offset="0.776" stop-color="#ffffff"/><stop offset="1" stop-color="#f2c5bf"/></linearGradient>
<linearGradient id="f274" gradientUnits="userSpaceOnUse" x1="0" x2="0" y1="-109" y2="109"><stop offset="0" stop-color="#adadf5"/><stop offset="0.725" stop-color="#e7e7fc"/><stop offset="0.821" stop-color="#fffefe"/><stop offset="1" stop-color="#f5d0cb"/></linearGradient>
<linearGradient id="f275" gradientUnits="userSpaceOnUse" x1="0" x2="0" y1="-104" y2="104"><stop offset="0" stop-color="#b0b0f6"/><stop offset="0.716" stop-color="#ddddfb"/><stop offset="0.764" stop-color="#e4e4fc"/><stop offset="0.861" stop-color="#fffefe"/><stop offset="1" stop-color="#f7dbd7"/></linearGradient>
<linearGradient id="f276" gradientUnits="userSpaceOnUse" x1="0" x2="0" y1="-99" y2="99"><stop offset="0" stop-color="#b2b2f6"/><stop offset="0.328" stop-color="#c2c2f8"/><stop offset="0.434" stop-color="#cbcbf9"/><stop offset="0.727" stop-color="#d6d6fa"/><stop offset="0.803" stop-color="#e3e3fc"/><stop offset="0.899" stop-color="#ffffff"/><stop offset="1" stop-color="#fae5e3"/></linearGradient>
<linearGradient id="f277" gradientUnits="userSpaceOnUse" x1="0" x2="0" y1="-93" y2="93"><stop offset="0" stop-color="#b4b4f6"/><stop offset="0.29" stop-color="#bebef7"/><stop offset="0.457" stop-color="#cacaf9"/><stop offset="0.742" stop-color="#d0d0f9"/><stop offset="0.823" stop-color="#ddddfb"/><stop offset="0.941" stop-color="#fefeff"/><stop offset="1" stop-color="#fcf1f0"/></linearGradient>
<linearGradient id="f278" gradientUnits="userSpaceOnUse" x1="0" x2="0" y1="-86" y2="86"><stop offset="0" stop-color="#b5b5f6"/><stop offset="0.273" stop-color="#bcbcf7"/><stop offset="0.453" stop-color="#c7c7f8"/><stop offset="0.762" stop-color="#cacaf9"/><stop offset="0.849" stop-color="#d7d7fa"/><stop offset="1" stop-color="#fffefe"/></linearGradient>
<linearGradient id="f279" gradientUnits="userSpaceOnUse" x1="0" x2="0" y1="-79" y2="79"><stop offset="0" stop-color="#b5b5f6"/><stop offset="0.253" stop-color="#babaf7"/><stop offset="0.449" stop-color="#c6c6f8"/><stop offset="0.785" stop-color="#c6c6f8"/><stop offset="0.88" stop-color="#d3d3fa"/><stop offset="1" stop-color="#efeffd"/></linearGradient>
<linearGradient id="f280" gradientUnits="userSpaceOnUse" x1="0" x2="0" y1="-71" y2="71"><stop offset="0" stop-color="#b5b5f6"/><stop offset="0.225" stop-color="#b8b8f7"/><stop offset="0.444" stop-color="#c5c5f8"/><stop offset="0.81" stop-color="#c2c2f8"/><stop offset="0.887" stop-color="#cacaf9"/><stop offset="1" stop-color="#dfdffb"/></linearGradient>
<linearGradient id="f281" gradientUnits="userSpaceOnUse" x1="0" x2="0" y1="-61" y2="61"><stop offset="0" stop-color="#b4b4f6"/><stop offset="0.221" stop-color="#b8b8f7"/><stop offset="0.434" stop-color="#c4c4f8"/><stop offset="0.828" stop-color="#bebef7"/><stop offset="0.91" stop-color="#c2c2f8"/><stop offset="1" stop-color="#cecef9"/></linearGradient>
<linearGradient id="f282" gradientUnits="userSpaceOnUse" x1="0" x2="0" y1="-48" y2="48"><stop offset="0" stop-color="#b4b4f6"/><stop offset="0.417" stop-color="#c3c3f8"/><stop offset="0.854" stop-color="#bbbbf7"/><stop offset="1" stop-color="#bfbff7"/></linearGradient>
<linearGradient id="f283" gradientUnits="userSpaceOnUse" x1="0" x2="0" y1="-30" y2="30"><stop offset="0" stop-color="#b8b8f7"/><stop offset="0.45" stop-color="#c3c3f8"/><stop offset="1" stop-color="#babaf7"/></linearGradient>
<linearGradient id="f284" gradientUnits="userSpaceOnUse" x1="0" x2="0" y1="-4" y2="4"><stop offset="0" stop-color="#c3c3f8"/><stop offset="1" stop-color="#c1c1f8"/></linearGradient>
<g id="f2" filter="url(#vb)"><rect x="-169" y="-12" width="4.5" height="24" fill="url(#f20)"/>
<rect x="-165" y="-41" width="4.5" height="82" fill="url(#f21)"/>
<rect x="-161" y="-55" width="4.5" height="110" fill="url(#f22)"/>
<rect x="-157" y="-66" width="4.5" height="132" fill="url(#f23)"/>
<rect x="-153" y="-75" width="4.5" height="150" fill="url(#f24)"/>
<rect x="-149" y="-83" width="4.5" height="166" fill="url(#f25)"/>
<rect x="-145" y="-90" width="4.5" height="180" fill="url(#f26)"/>
<rect x="-141" y="-96" width="4.5" height="192" fill="url(#f27)"/>
<rect x="-137" y="-101" width="4.5" height="202" fill="url(#f28)"/>
<rect x="-133" y="-107" width="4.5" height="214" fill="url(#f29)"/>
<rect x="-129" y="-112" width="4.5" height="224" fill="url(#f210)"/>
<rect x="-125" y="-116" width="4.5" height="232" fill="url(#f211)"/>
<rect x="-121" y="-120" width="4.5" height="240" fill="url(#f212)"/>
<rect x="-117" y="-124" width="4.5" height="248" fill="url(#f213)"/>
<rect x="-113" y="-128" width="4.5" height="256" fill="url(#f214)"/>
<rect x="-109" y="-131" width="4.5" height="262" fill="url(#f215)"/>
<rect x="-105" y="-134" width="4.5" height="268" fill="url(#f216)"/>
<rect x="-101" y="-137" width="4.5" height="274" fill="url(#f217)"/>
<rect x="-97" y="-140" width="4.5" height="280" fill="url(#f218)"/>
<rect x="-93" y="-143" width="4.5" height="286" fill="url(#f219)"/>
<rect x="-89" y="-145" width="4.5" height="290" fill="url(#f220)"/>
<rect x="-85" y="-147" width="4.5" height="294" fill="url(#f221)"/>
<rect x="-81" y="-150" width="4.5" height="300" fill="url(#f222)"/>
<rect x="-77" y="-152" width="4.5" height="304" fill="url(#f223)"/>
<rect x="-73" y="-154" width="4.5" height="308" fill="url(#f224)"/>
<rect x="-69" y="-155" width="4.5" height="310" fill="url(#f225)"/>
<rect x="-65" y="-157" width="4.5" height="314" fill="url(#f226)"/>
<rect x="-61" y="-159" width="4.5" height="318" fill="url(#f227)"/>
<rect x="-57" y="-160" width="4.5" height="320" fill="url(#f228)"/>
<rect x="-53" y="-161" width="4.5" height="322" fill="url(#f229)"/>
<rect x="-49" y="-162" width="4.5" height="324" fill="url(#f230)"/>
<rect x="-45" y="-164" width="4.5" height="328" fill="url(#f231)"/>
<rect x="-41" y="-165" width="4.5" height="330" fill="url(#f232)"/>
<rect x="-37" y="-165" width="4.5" height="330" fill="url(#f233)"/>
<rect x="-33" y="-166" width="4.5" height="332" fill="url(#f234)"/>
<rect x="-29" y="-167" width="4.5" height="334" fill="url(#f235)"/>
<rect x="-25" y="-167" width="4.5" height="334" fill="url(#f236)"/>
<rect x="-21" y="-168" width="4.5" height="336" fill="url(#f237)"/>
<rect x="-17" y="-168" width="4.5" height="336" fill="url(#f238)"/>
<rect x="-13" y="-168" width="4.5" height="336" fill="url(#f239)"/>
<rect x="-9" y="-169" width="4.5" height="338" fill="url(#f240)"/>
<rect x="-5" y="-169" width="4.5" height="338" fill="url(#f241)"/>
<rect x="-1" y="-169" width="4.5" height="338" fill="url(#f242)"/>
<rect x="3" y="-169" width="4.5" height="338" fill="url(#f243)"/>
<rect x="7" y="-169" width="4.5" height="338" fill="url(#f244)"/>
<rect x="11" y="-168" width="4.5" height="336" fill="url(#f245)"/>
<rect x="15" y="-168" width="4.5" height="336" fill="url(#f246)"/>
<rect x="19" y="-168" width="4.5" height="336" fill="url(#f247)"/>
<rect x="23" y="-167" width="4.5" height="334" fill="url(#f248)"/>
<rect x="27" y="-166" width="4.5" height="332" fill="url(#f249)"/>
<rect x="31" y="-166" width="4.5" height="332" fill="url(#f250)"/>
<rect x="35" y="-165" width="4.5" height="330" fill="url(#f251)"/>
<rect x="39" y="-164" width="4.5" height="328" fill="url(#f252)"/>
<rect x="43" y="-163" width="4.5" height="326" fill="url(#f253)"/>
<rect x="47" y="-162" width="4.5" height="324" fill="url(#f254)"/>
<rect x="51" y="-161" width="4.5" height="322" fill="url(#f255)"/>
<rect x="55" y="-159" width="4.5" height="318" fill="url(#f256)"/>
<rect x="59" y="-158" width="4.5" height="316" fill="url(#f257)"/>
<rect x="63" y="-156" width="4.5" height="312" fill="url(#f258)"/>
<rect x="67" y="-155" width="4.5" height="310" fill="url(#f259)"/>
<rect x="71" y="-153" width="4.5" height="306" fill="url(#f260)"/>
<rect x="75" y="-151" width="4.5" height="302" fill="url(#f261)"/>
<rect x="79" y="-149" width="4.5" height="298" fill="url(#f262)"/>
<rect x="83" y="-146" width="4.5" height="292" fill="url(#f263)"/>
<rect x="87" y="-144" width="4.5" height="288" fill="url(#f264)"/>
<rect x="91" y="-141" width="4.5" height="282" fill="url(#f265)"/>
<rect x="95" y="-139" width="4.5" height="278" fill="url(#f266)"/>
<rect x="99" y="-136" width="4.5" height="272" fill="url(#f267)"/>
<rect x="103" y="-133" width="4.5" height="266" fill="url(#f268)"/>
<rect x="107" y="-129" width="4.5" height="258" fill="url(#f269)"/>
<rect x="111" y="-126" width="4.5" height="252" fill="url(#f270)"/>
<rect x="115" y="-122" width="4.5" height="244" fill="url(#f271)"/>
<rect x="119" y="-118" width="4.5" height="236" fill="url(#f272)"/>
<rect x="123" y="-114" width="4.5" height="228" fill="url(#f273)"/>
<rect x="127" y="-109" width="4.5" height="218" fill="url(#f274)"/>
<rect x="131" y="-104" width="4.5" height="208" fill="url(#f275)"/>
<rect x="135" y="-99" width="4.5" height="198" fill="url(#f276)"/>
<rect x="139" y="-93" width="4.5" height="186" fill="url(#f277)"/>
<rect x="143" y="-86" width="4.5" height="172" fill="url(#f278)"/>
<rect x="147" y="-79" width="4.5" height="158" fill="url(#f279)"/>
<rect x="151" y="-71" width="4.5" height="142" fill="url(#f280)"/>
<rect x="155" y="-61" width="4.5" height="122" fill="url(#f281)"/>
<rect x="159" y="-48" width="4.5" height="96" fill="url(#f282)"/>
<rect x="163" y="-30" width="4.5" height="60" fill="url(#f283)"/>
<rect x="167" y="-4" width="4.5" height="8" fill="url(#f284)"/></g>
<g id="hd"><g fill="none" stroke="#cccccc" stroke-width="2.8" stroke-linecap="round" stroke-linejoin="round"><circle r="165.2"/><path d="M-33.04 -161.86 L0 -190.48 L33.04 -161.86"/><path d="M164.21 -18.34 C164.90 -19.50 167.39 -24.40 168.50 -25.61 C169.61 -26.81 170.10 -26.02 171.15 -25.87 C172.20 -25.72 173.82 -25.85 175.08 -24.65 C176.34 -23.44 178.51 -22.57 179.04 -18.34 C179.58 -14.10 178.15 -6.04 178.42 1.82 C178.69 9.68 181.15 24.14 180.73 30.79 C180.31 37.44 177.73 40.99 175.77 43.38 C173.82 45.77 170.78 46.33 168.50 45.73 C166.23 45.12 162.68 40.59 161.57 39.61"/><path d="M-164.21 -18.34 C-164.90 -19.50 -167.39 -24.40 -168.50 -25.61 C-169.61 -26.81 -170.10 -26.02 -171.15 -25.87 C-172.20 -25.72 -173.82 -25.85 -175.08 -24.65 C-176.34 -23.44 -178.51 -22.57 -179.04 -18.34 C-179.58 -14.10 -178.15 -6.04 -178.42 1.82 C-178.69 9.68 -181.15 24.14 -180.73 30.79 C-180.31 37.44 -177.73 40.99 -175.77 43.38 C-173.82 45.77 -170.78 46.33 -168.50 45.73 C-166.23 45.12 -162.68 40.59 -161.57 39.61"/></g><g fill="#000" fill-opacity="0.55" stroke="#000" stroke-width="1.3"><circle cx="-109.4" cy="-110.8" r="1.6"/><circle cx="-66.1" cy="-110.8" r="1.6"/><circle cx="64.1" cy="-112.5" r="1.6"/><circle cx="108.6" cy="-113.6" r="1.6"/><circle cx="-124.5" cy="-21.1" r="1.6"/><circle cx="-79.4" cy="-27.6" r="1.6"/><circle cx="-1.5" cy="-30.8" r="1.6"/><circle cx="77.0" cy="-27.7" r="1.6"/><circle cx="120.3" cy="-22.2" r="1.6"/><circle cx="-102.6" cy="57.7" r="1.6"/><circle cx="-65.5" cy="52.3" r="1.6"/><circle cx="-2.5" cy="50.8" r="1.6"/><circle cx="63.5" cy="52.3" r="1.6"/><circle cx="97.4" cy="57.7" r="1.6"/><circle cx="-41.5" cy="106.2" r="1.6"/><circle cx="36.1" cy="105.8" r="1.6"/></g></g>
<clipPath id="cc"><circle r="165.2"/></clipPath>
<filter id="hb" x="-5%" y="-5%" width="110%" height="110%"><feGaussianBlur stdDeviation="0 1.6"/></filter>
<filter id="vb" x="-5%" y="-5%" width="110%" height="110%"><feGaussianBlur stdDeviation="1.6 0"/></filter>
<g id="ar"><line x1="0" y1="0" x2="100" y2="0" stroke="#000" stroke-width="4.8" stroke-linecap="round"/><path d="M96.1 -15 L125 0 L96.1 15 Z" fill="#1a1a1a" stroke="#1a1a1a" stroke-width="4" stroke-linejoin="round"/></g>
</defs>
<g transform="translate(386.1 393.4)"><g clip-path="url(#cc)"><use href="#f3"/></g><use href="#hd"/></g>
<text x="386.4" y="169.5" class="pt">Prototype 3</text>
<g transform="translate(917.4 396.2)"><g clip-path="url(#cc)"><use href="#f4"/></g><use href="#hd"/></g>
<text x="916.4" y="171.7" class="pt">Prototype 4</text>
<g transform="translate(1452.3 393.4)"><g clip-path="url(#cc)"><use href="#f3"/></g><use href="#hd"/></g>
<text x="1452.6" y="169.5" class="pt">Prototype 3</text>
<g transform="translate(385.9 1114.7)"><g clip-path="url(#cc)"><use href="#f6"/></g><use href="#hd"/></g>
<text x="384.8" y="889.5" class="pt">Prototype 6</text>
<g transform="translate(913.6 1111.4)"><g clip-path="url(#cc)"><use href="#f2"/></g><use href="#hd"/></g>
<text x="913.4" y="887.4" class="pt">Prototype 2</text>
<g transform="translate(1452.2 1114.7)"><g clip-path="url(#cc)"><use href="#f6"/></g><use href="#hd"/></g>
<text x="1451.3" y="889.5" class="pt">Prototype 6</text>
<use href="#ar" x="588.7" y="355.0"/>
<use href="#ar" x="1122.7" y="355.0"/>
<use href="#ar" x="588.7" y="1073.2"/>
<use href="#ar" x="1122.7" y="1073.2"/>
<text x="918" y="84.5" class="tt">Triad: (3, 4, 3), Frequency: 43</text>
<text x="918" y="802.5" class="tt">Triad: (6, 2, 6), Frequency: 42</text>
</svg>
</body></html>
